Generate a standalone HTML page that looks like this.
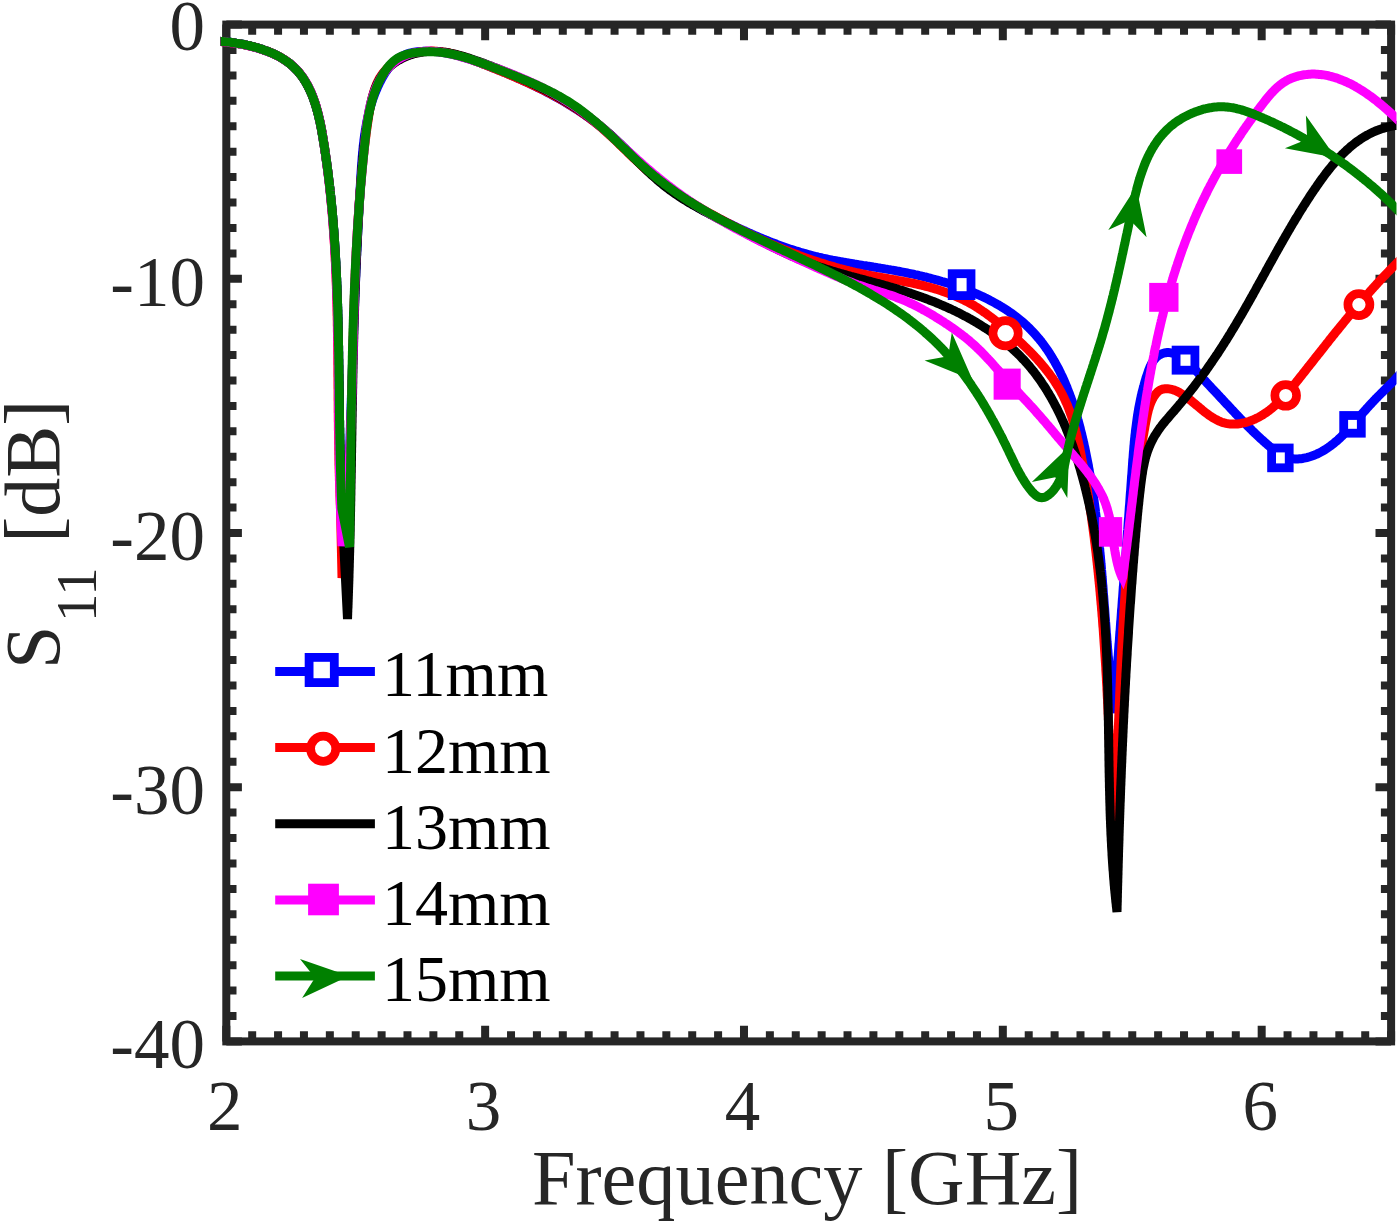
<!DOCTYPE html>
<html><head><meta charset="utf-8"><title>S11 plot</title>
<style>
html,body{margin:0;padding:0;background:#fff;}
body{width:1400px;height:1225px;overflow:hidden;}
svg{display:block;}
svg text{font-family:"Liberation Serif",serif;}
</style></head><body>
<svg width="1400" height="1225" viewBox="0 0 1400 1225">
<rect width="1400" height="1225" fill="#fff"/>
<defs><clipPath id="c"><rect x="220.5" y="20" width="1176.0" height="1025.5"/></clipPath></defs>
<path d="M226.30,1041.4 v-15.6 M226.30,24.6 v15.6 M252.18,1041.4 v-10.2 M252.18,24.6 v10.2 M278.07,1041.4 v-10.2 M278.07,24.6 v10.2 M303.95,1041.4 v-10.2 M303.95,24.6 v10.2 M329.84,1041.4 v-10.2 M329.84,24.6 v10.2 M355.72,1041.4 v-10.2 M355.72,24.6 v10.2 M381.61,1041.4 v-10.2 M381.61,24.6 v10.2 M407.49,1041.4 v-10.2 M407.49,24.6 v10.2 M433.38,1041.4 v-10.2 M433.38,24.6 v10.2 M459.26,1041.4 v-10.2 M459.26,24.6 v10.2 M485.14,1041.4 v-15.6 M485.14,24.6 v15.6 M511.03,1041.4 v-10.2 M511.03,24.6 v10.2 M536.91,1041.4 v-10.2 M536.91,24.6 v10.2 M562.80,1041.4 v-10.2 M562.80,24.6 v10.2 M588.68,1041.4 v-10.2 M588.68,24.6 v10.2 M614.57,1041.4 v-10.2 M614.57,24.6 v10.2 M640.45,1041.4 v-10.2 M640.45,24.6 v10.2 M666.34,1041.4 v-10.2 M666.34,24.6 v10.2 M692.22,1041.4 v-10.2 M692.22,24.6 v10.2 M718.10,1041.4 v-10.2 M718.10,24.6 v10.2 M743.99,1041.4 v-15.6 M743.99,24.6 v15.6 M769.87,1041.4 v-10.2 M769.87,24.6 v10.2 M795.76,1041.4 v-10.2 M795.76,24.6 v10.2 M821.64,1041.4 v-10.2 M821.64,24.6 v10.2 M847.53,1041.4 v-10.2 M847.53,24.6 v10.2 M873.41,1041.4 v-10.2 M873.41,24.6 v10.2 M899.30,1041.4 v-10.2 M899.30,24.6 v10.2 M925.18,1041.4 v-10.2 M925.18,24.6 v10.2 M951.06,1041.4 v-10.2 M951.06,24.6 v10.2 M976.95,1041.4 v-10.2 M976.95,24.6 v10.2 M1002.83,1041.4 v-15.6 M1002.83,24.6 v15.6 M1028.72,1041.4 v-10.2 M1028.72,24.6 v10.2 M1054.60,1041.4 v-10.2 M1054.60,24.6 v10.2 M1080.49,1041.4 v-10.2 M1080.49,24.6 v10.2 M1106.37,1041.4 v-10.2 M1106.37,24.6 v10.2 M1132.26,1041.4 v-10.2 M1132.26,24.6 v10.2 M1158.14,1041.4 v-10.2 M1158.14,24.6 v10.2 M1184.02,1041.4 v-10.2 M1184.02,24.6 v10.2 M1209.91,1041.4 v-10.2 M1209.91,24.6 v10.2 M1235.79,1041.4 v-10.2 M1235.79,24.6 v10.2 M1261.68,1041.4 v-15.6 M1261.68,24.6 v15.6 M1287.56,1041.4 v-10.2 M1287.56,24.6 v10.2 M1313.45,1041.4 v-10.2 M1313.45,24.6 v10.2 M1339.33,1041.4 v-10.2 M1339.33,24.6 v10.2 M1365.22,1041.4 v-10.2 M1365.22,24.6 v10.2 M1391.10,1041.4 v-10.2 M1391.10,24.6 v10.2 M226.3,24.60 h15.6 M1391.1,24.60 h-15.6 M226.3,50.02 h10.2 M1391.1,50.02 h-10.2 M226.3,75.44 h10.2 M1391.1,75.44 h-10.2 M226.3,100.86 h10.2 M1391.1,100.86 h-10.2 M226.3,126.28 h10.2 M1391.1,126.28 h-10.2 M226.3,151.70 h10.2 M1391.1,151.70 h-10.2 M226.3,177.12 h10.2 M1391.1,177.12 h-10.2 M226.3,202.54 h10.2 M1391.1,202.54 h-10.2 M226.3,227.96 h10.2 M1391.1,227.96 h-10.2 M226.3,253.38 h10.2 M1391.1,253.38 h-10.2 M226.3,278.80 h15.6 M1391.1,278.80 h-15.6 M226.3,304.22 h10.2 M1391.1,304.22 h-10.2 M226.3,329.64 h10.2 M1391.1,329.64 h-10.2 M226.3,355.06 h10.2 M1391.1,355.06 h-10.2 M226.3,380.48 h10.2 M1391.1,380.48 h-10.2 M226.3,405.90 h10.2 M1391.1,405.90 h-10.2 M226.3,431.32 h10.2 M1391.1,431.32 h-10.2 M226.3,456.74 h10.2 M1391.1,456.74 h-10.2 M226.3,482.16 h10.2 M1391.1,482.16 h-10.2 M226.3,507.58 h10.2 M1391.1,507.58 h-10.2 M226.3,533.00 h15.6 M1391.1,533.00 h-15.6 M226.3,558.42 h10.2 M1391.1,558.42 h-10.2 M226.3,583.84 h10.2 M1391.1,583.84 h-10.2 M226.3,609.26 h10.2 M1391.1,609.26 h-10.2 M226.3,634.68 h10.2 M1391.1,634.68 h-10.2 M226.3,660.10 h10.2 M1391.1,660.10 h-10.2 M226.3,685.52 h10.2 M1391.1,685.52 h-10.2 M226.3,710.94 h10.2 M1391.1,710.94 h-10.2 M226.3,736.36 h10.2 M1391.1,736.36 h-10.2 M226.3,761.78 h10.2 M1391.1,761.78 h-10.2 M226.3,787.20 h15.6 M1391.1,787.20 h-15.6 M226.3,812.62 h10.2 M1391.1,812.62 h-10.2 M226.3,838.04 h10.2 M1391.1,838.04 h-10.2 M226.3,863.46 h10.2 M1391.1,863.46 h-10.2 M226.3,888.88 h10.2 M1391.1,888.88 h-10.2 M226.3,914.30 h10.2 M1391.1,914.30 h-10.2 M226.3,939.72 h10.2 M1391.1,939.72 h-10.2 M226.3,965.14 h10.2 M1391.1,965.14 h-10.2 M226.3,990.56 h10.2 M1391.1,990.56 h-10.2 M226.3,1015.98 h10.2 M1391.1,1015.98 h-10.2 M226.3,1041.40 h15.6 M1391.1,1041.40 h-15.6" stroke="#262626" stroke-width="8" fill="none"/>
<rect x="226.3" y="24.6" width="1164.8" height="1016.8000000000001" fill="none" stroke="#262626" stroke-width="8"/>
<g clip-path="url(#c)" fill="none" stroke-linejoin="miter" stroke-miterlimit="2">
<path d="M214.0,41.0 L215.4,41.1 L216.8,41.1 L218.2,41.2 L219.7,41.3 L221.1,41.4 L222.6,41.5 L224.0,41.7 L225.5,41.8 L227.0,42.0 L228.5,42.1 L230.0,42.3 L231.5,42.5 L233.1,42.7 L234.6,42.9 L236.1,43.2 L237.7,43.4 L239.2,43.7 L240.8,43.9 L242.3,44.2 L243.9,44.5 L245.4,44.8 L246.9,45.2 L248.5,45.5 L250.0,45.9 L251.6,46.3 L253.1,46.7 L254.6,47.1 L256.2,47.5 L257.7,47.9 L259.2,48.4 L260.7,48.9 L262.2,49.3 L263.7,49.9 L265.2,50.4 L266.6,50.9 L268.1,51.5 L269.5,52.1 L271.0,52.7 L272.4,53.3 L273.8,53.9 L275.1,54.6 L276.5,55.2 L277.9,55.9 L279.2,56.6 L280.5,57.4 L281.8,58.1 L283.0,58.9 L284.3,59.7 L285.5,60.5 L286.7,61.3 L287.9,62.2 L289.0,63.0 L290.2,63.9 L291.3,64.8 L292.4,65.8 L293.4,66.7 L294.4,67.7 L295.4,68.7 L296.4,69.7 L297.3,70.7 L298.3,71.8 L299.2,72.9 L300.1,74.0 L300.9,75.1 L301.8,76.2 L302.6,77.3 L303.4,78.5 L304.1,79.7 L304.9,80.9 L305.6,82.1 L306.3,83.3 L307.0,84.5 L307.7,85.8 L308.4,87.0 L309.0,88.3 L309.6,89.6 L310.2,90.9 L310.8,92.2 L311.4,93.6 L312.0,94.9 L312.5,96.3 L313.0,97.6 L313.5,99.0 L314.0,100.4 L314.5,101.8 L315.0,103.2 L315.4,104.6 L315.9,106.0 L316.3,107.5 L316.7,108.9 L317.1,110.4 L317.5,111.8 L317.9,113.3 L318.3,114.7 L318.6,116.2 L319.0,117.7 L319.3,119.2 L319.7,120.7 L320.0,122.2 L320.3,123.7 L320.6,125.2 L320.9,126.7 L321.2,128.2 L321.5,129.7 L321.8,131.2 L322.0,132.8 L322.3,134.3 L322.6,135.8 L322.8,137.3 L323.1,138.9 L323.3,140.4 L323.6,141.9 L323.8,143.5 L324.1,145.0 L324.3,146.5 L324.6,148.0 L324.8,149.6 L325.0,151.1 L325.2,152.6 L325.5,154.1 L325.7,155.7 L325.9,157.2 L326.1,158.7 L326.3,160.2 L326.6,161.8 L326.8,163.3 L327.0,164.8 L327.2,166.3 L327.4,167.8 L327.6,169.4 L327.8,170.9 L328.0,172.4 L328.2,173.9 L328.4,175.4 L328.5,176.9 L328.7,178.5 L328.9,180.0 L329.1,181.5 L329.3,183.0 L329.5,184.5 L329.6,186.0 L329.8,187.5 L330.0,189.1 L330.1,190.6 L330.3,192.1 L330.5,193.6 L330.6,195.1 L330.8,196.6 L330.9,198.1 L331.1,199.6 L331.2,201.1 L331.4,202.6 L331.5,204.2 L331.7,205.7 L331.8,207.2 L332.0,208.7 L332.1,210.2 L332.3,211.7 L332.4,213.2 L332.5,214.7 L332.7,216.2 L332.8,217.7 L332.9,219.2 L333.0,220.7 L333.2,222.2 L333.3,223.7 L333.4,225.2 L333.5,226.7 L333.6,228.2 L333.8,229.7 L333.9,231.2 L334.0,232.7 L334.1,234.2 L334.2,235.7 L334.3,237.2 L334.4,238.7 L334.5,240.2 L334.6,241.7 L334.7,243.2 L334.8,244.7 L334.9,246.2 L335.0,247.7 L335.1,249.2 L335.2,250.7 L335.3,252.2 L335.4,253.7 L335.5,255.2 L335.5,256.7 L335.6,258.2 L335.7,259.7 L335.8,261.2 L335.9,262.7 L335.9,264.2 L336.0,265.7 L336.1,267.2 L336.2,268.7 L336.2,270.2 L336.3,271.7 L336.4,273.2 L336.5,274.7 L336.5,276.2 L336.6,277.7 L336.7,279.1 L336.7,280.6 L336.8,282.1 L336.8,283.6 L336.9,285.1 L337.0,286.6 L337.0,288.1 L337.1,289.6 L337.1,291.1 L337.2,292.6 L337.2,294.1 L337.3,295.6 L337.3,297.1 L337.4,298.6 L337.4,300.0 L337.5,301.5 L337.5,303.0 L337.6,304.5 L337.6,306.0 L337.7,307.5 L337.7,309.0 L337.8,310.5 L337.8,312.0 L337.8,313.5 L337.9,315.0 L337.9,316.5 L338.0,317.9 L338.0,319.4 L338.0,320.9 L338.1,322.4 L338.1,323.9 L338.1,325.4 L338.2,326.9 L338.2,328.4 L338.2,329.9 L338.3,331.4 L338.3,332.9 L338.3,334.4 L338.4,335.8 L338.4,337.3 L338.4,338.8 L338.4,340.3 L338.5,341.8 L338.5,343.3 L338.5,344.8 L338.6,346.3 L338.6,347.8 L338.6,349.3 L338.6,350.8 L338.7,352.3 L338.7,353.8 L338.7,355.2 L338.7,356.7 L338.7,358.2 L338.8,359.7 L338.8,361.2 L338.8,362.7 L338.8,364.2 L338.9,365.7 L338.9,367.2 L338.9,368.7 L338.9,370.2 L338.9,371.7 L338.9,373.2 L339.0,374.7 L339.0,376.2 L339.0,377.7 L339.0,379.1 L339.0,380.6 L339.1,382.1 L339.1,383.6 L339.1,385.1 L339.1,386.6 L339.1,388.1 L339.2,389.6 L339.2,391.1 L339.2,392.6 L339.2,394.1 L339.2,395.6 L339.2,397.1 L339.3,398.6 L339.3,400.1 L339.3,401.6 L339.3,403.1 L339.3,404.6 L339.4,406.1 L339.4,407.6 L339.4,409.1 L339.4,410.6 L339.4,412.1 L339.5,413.6 L339.5,415.1 L339.5,416.6 L339.5,418.1 L339.5,419.6 L339.6,421.1 L339.6,422.6 L339.6,424.1 L339.6,425.6 L339.6,427.1 L339.7,428.6 L339.7,430.1 L339.7,431.6 L339.7,433.1 L339.8,434.6 L339.8,436.2 L339.8,437.7 L339.8,439.2 L339.9,440.7 L339.9,442.2 L339.9,443.7 L340.0,445.2 L340.0,446.7 L340.0,448.2 L340.0,449.7 L340.1,451.2 L340.1,452.7 L340.1,454.3 L340.2,455.8 L340.2,457.3 L340.2,458.8 L340.3,460.3 L340.3,461.8 L340.3,463.3 L340.4,464.9 L340.4,466.4 L340.5,467.9 L340.5,469.4 L340.5,470.9 L340.6,472.4 L340.6,473.9 L340.7,475.5 L340.7,477.0 L340.8,478.5 L340.8,480.0 L340.9,481.5 L340.9,483.1 L341.0,484.6 L341.0,486.1 L341.1,487.6 L341.1,489.2 L341.2,490.7 L341.2,492.2 L341.3,493.7 L341.3,495.2 L341.4,496.8 L341.5,498.3 L341.5,499.8 L341.6,501.4 L341.6,502.9 L341.7,504.4 L341.8,505.9 L341.8,507.5 L341.9,509.0 L346.0,540.0 L346.1,538.5 L346.1,537.0 L346.2,535.4 L346.3,533.9 L346.3,532.4 L346.4,530.9 L346.5,529.4 L346.5,527.9 L346.6,526.4 L346.7,524.8 L346.7,523.3 L346.8,521.8 L346.9,520.3 L346.9,518.8 L347.0,517.3 L347.1,515.8 L347.1,514.2 L347.2,512.7 L347.3,511.2 L347.3,509.7 L347.4,508.2 L347.4,506.7 L347.5,505.2 L347.6,503.7 L347.6,502.2 L347.7,500.7 L347.7,499.2 L347.8,497.6 L347.9,496.1 L347.9,494.6 L348.0,493.1 L348.0,491.6 L348.1,490.1 L348.2,488.6 L348.2,487.1 L348.3,485.6 L348.3,484.1 L348.4,482.6 L348.4,481.1 L348.5,479.6 L348.6,478.1 L348.6,476.6 L348.7,475.1 L348.7,473.6 L348.8,472.1 L348.8,470.6 L348.9,469.1 L348.9,467.6 L349.0,466.1 L349.1,464.6 L349.1,463.0 L349.2,461.5 L349.2,460.0 L349.3,458.5 L349.3,457.0 L349.4,455.5 L349.4,454.0 L349.5,452.5 L349.5,451.1 L349.6,449.6 L349.6,448.1 L349.7,446.6 L349.7,445.1 L349.8,443.6 L349.9,442.1 L349.9,440.6 L350.0,439.1 L350.0,437.6 L350.1,436.1 L350.1,434.6 L350.2,433.1 L350.2,431.6 L350.3,430.1 L350.3,428.6 L350.4,427.1 L350.4,425.6 L350.5,424.1 L350.5,422.6 L350.6,421.1 L350.6,419.6 L350.7,418.1 L350.7,416.6 L350.8,415.1 L350.8,413.6 L350.9,412.1 L350.9,410.6 L351.0,409.2 L351.0,407.7 L351.1,406.2 L351.1,404.7 L351.2,403.2 L351.2,401.7 L351.3,400.2 L351.3,398.7 L351.4,397.2 L351.4,395.7 L351.5,394.2 L351.5,392.7 L351.6,391.2 L351.6,389.7 L351.7,388.2 L351.7,386.7 L351.8,385.3 L351.8,383.8 L351.9,382.3 L351.9,380.8 L352.0,379.3 L352.0,377.8 L352.1,376.3 L352.1,374.8 L352.2,373.3 L352.2,371.8 L352.3,370.3 L352.3,368.8 L352.4,367.3 L352.4,365.9 L352.5,364.4 L352.5,362.9 L352.6,361.4 L352.6,359.9 L352.7,358.4 L352.7,356.9 L352.8,355.4 L352.8,353.9 L352.9,352.4 L352.9,350.9 L353.0,349.4 L353.0,347.9 L353.1,346.4 L353.1,345.0 L353.2,343.5 L353.2,342.0 L353.3,340.5 L353.3,339.0 L353.4,337.5 L353.5,336.0 L353.5,334.5 L353.6,333.0 L353.6,331.5 L353.7,330.0 L353.7,328.5 L353.8,327.0 L353.8,325.5 L353.9,324.1 L353.9,322.6 L354.0,321.1 L354.1,319.6 L354.1,318.1 L354.2,316.6 L354.2,315.1 L354.3,313.6 L354.3,312.1 L354.4,310.6 L354.4,309.1 L354.5,307.6 L354.6,306.1 L354.6,304.6 L354.7,303.1 L354.7,301.6 L354.8,300.1 L354.8,298.6 L354.9,297.1 L355.0,295.7 L355.0,294.2 L355.1,292.7 L355.1,291.2 L355.2,289.7 L355.3,288.2 L355.3,286.7 L355.4,285.2 L355.4,283.7 L355.5,282.2 L355.6,280.7 L355.6,279.2 L355.7,277.7 L355.8,276.2 L355.8,274.7 L355.9,273.2 L355.9,271.7 L356.0,270.2 L356.1,268.7 L356.1,267.2 L356.2,265.7 L356.3,264.2 L356.3,262.7 L356.4,261.2 L356.5,259.7 L356.5,258.2 L356.6,256.7 L356.7,255.2 L356.7,253.7 L356.8,252.2 L356.9,250.7 L357.0,249.2 L357.0,247.7 L357.1,246.2 L357.2,244.7 L357.2,243.2 L357.3,241.7 L357.4,240.2 L357.4,238.6 L357.5,237.1 L357.6,235.6 L357.7,234.1 L357.7,232.6 L357.8,231.1 L357.9,229.6 L358.0,228.1 L358.0,226.6 L358.1,225.1 L358.2,223.6 L358.3,222.1 L358.4,220.6 L358.4,219.1 L358.5,217.5 L358.6,216.0 L358.7,214.5 L358.8,213.0 L358.8,211.5 L358.9,210.0 L359.0,208.5 L359.1,207.0 L359.2,205.5 L359.2,203.9 L359.3,202.4 L359.4,200.9 L359.5,199.4 L359.6,197.9 L359.7,196.4 L359.8,194.9 L359.8,193.3 L359.9,191.8 L360.0,190.3 L360.1,188.8 L360.2,187.3 L360.3,185.8 L360.4,184.2 L360.5,182.7 L360.6,181.2 L360.7,179.7 L360.8,178.2 L360.8,176.6 L360.9,175.1 L361.0,173.6 L361.1,172.1 L361.2,170.6 L361.3,169.0 L361.4,167.5 L361.5,166.0 L361.7,164.5 L361.8,162.9 L361.9,161.4 L362.0,159.9 L362.1,158.4 L362.2,156.9 L362.4,155.4 L362.5,153.8 L362.6,152.3 L362.8,150.8 L362.9,149.3 L363.1,147.8 L363.2,146.3 L363.4,144.8 L363.6,143.3 L363.8,141.8 L363.9,140.3 L364.1,138.8 L364.3,137.3 L364.5,135.8 L364.7,134.3 L365.0,132.8 L365.2,131.3 L365.4,129.8 L365.7,128.4 L365.9,126.9 L366.2,125.4 L366.5,123.9 L366.7,122.5 L367.0,121.0 L367.3,119.6 L367.6,118.1 L368.0,116.6 L368.3,115.2 L368.6,113.8 L369.0,112.3 L369.4,110.9 L369.7,109.4 L370.1,108.0 L370.5,106.6 L370.9,105.2 L371.4,103.8 L371.8,102.3 L372.2,100.9 L372.7,99.5 L373.2,98.1 L373.7,96.8 L374.2,95.4 L374.7,94.0 L375.3,92.6 L375.8,91.3 L376.4,89.9 L377.0,88.5 L377.5,87.2 L378.2,85.8 L378.8,84.5 L379.4,83.2 L380.1,81.8 L380.8,80.5 L381.5,79.2 L382.2,77.9 L382.9,76.6 L383.7,75.3 L384.4,74.0 L385.2,72.8 L386.0,71.5 L386.9,70.3 L387.7,69.1 L388.6,67.9 L389.5,66.7 L390.4,65.6 L391.4,64.4 L392.4,63.4 L393.4,62.3 L394.5,61.3 L395.6,60.4 L396.7,59.5 L397.8,58.6 L399.0,57.8 L400.3,57.1 L401.5,56.4 L402.9,55.7 L404.2,55.1 L405.6,54.6 L407.0,54.1 L408.4,53.6 L409.8,53.2 L411.3,52.8 L412.8,52.5 L414.3,52.2 L415.8,52.0 L417.4,51.8 L418.9,51.6 L420.5,51.5 L422.0,51.4 L423.6,51.3 L425.1,51.2 L426.7,51.2 L428.2,51.2 L429.8,51.3 L431.3,51.3 L432.9,51.4 L434.4,51.5 L435.9,51.6 L437.4,51.7 L438.9,51.9 L440.4,52.1 L441.9,52.3 L443.4,52.5 L444.9,52.7 L446.4,53.0 L447.9,53.3 L449.3,53.6 L450.8,53.9 L452.3,54.2 L453.7,54.5 L455.2,54.9 L456.6,55.3 L458.1,55.6 L459.5,56.0 L461.0,56.4 L462.4,56.9 L463.8,57.3 L465.3,57.7 L466.7,58.2 L468.1,58.6 L469.5,59.1 L471.0,59.6 L472.4,60.1 L473.8,60.6 L475.2,61.1 L476.6,61.6 L478.0,62.1 L479.4,62.6 L480.8,63.1 L482.2,63.7 L483.7,64.2 L485.1,64.7 L486.5,65.3 L487.9,65.8 L489.3,66.4 L490.7,66.9 L492.1,67.4 L493.5,68.0 L494.9,68.6 L496.3,69.1 L497.7,69.7 L499.1,70.2 L500.5,70.8 L501.9,71.4 L503.3,71.9 L504.7,72.5 L506.0,73.1 L507.4,73.7 L508.8,74.3 L510.2,74.9 L511.6,75.5 L513.0,76.0 L514.4,76.6 L515.8,77.2 L517.1,77.9 L518.5,78.5 L519.9,79.1 L521.3,79.7 L522.6,80.3 L524.0,80.9 L525.4,81.6 L526.7,82.2 L528.1,82.8 L529.5,83.5 L530.8,84.1 L532.2,84.8 L533.6,85.4 L534.9,86.1 L536.3,86.7 L537.6,87.4 L539.0,88.1 L540.3,88.7 L541.7,89.4 L543.0,90.1 L544.3,90.8 L545.7,91.5 L547.0,92.2 L548.3,92.9 L549.7,93.6 L551.0,94.3 L552.3,95.0 L553.6,95.7 L554.9,96.5 L556.3,97.2 L557.6,97.9 L558.9,98.7 L560.2,99.4 L561.5,100.2 L562.8,100.9 L564.1,101.7 L565.4,102.4 L566.6,103.2 L567.9,104.0 L569.2,104.8 L570.5,105.5 L571.8,106.3 L573.0,107.1 L574.3,107.9 L575.5,108.7 L576.8,109.5 L578.1,110.4 L579.3,111.2 L580.6,112.0 L581.8,112.9 L583.0,113.7 L584.3,114.5 L585.5,115.4 L586.7,116.3 L587.9,117.1 L589.2,118.0 L590.4,118.9 L591.6,119.7 L592.8,120.6 L594.0,121.5 L595.2,122.4 L596.4,123.3 L597.5,124.3 L598.7,125.2 L599.9,126.1 L601.1,127.0 L602.2,128.0 L603.4,128.9 L604.6,129.9 L605.7,130.8 L606.8,131.8 L608.0,132.8 L609.1,133.8 L610.3,134.7 L611.4,135.7 L612.5,136.7 L613.6,137.7 L614.7,138.7 L615.8,139.8 L616.9,140.8 L618.0,141.8 L619.1,142.8 L620.2,143.9 L621.3,144.9 L622.4,145.9 L623.5,147.0 L624.6,148.0 L625.7,149.1 L626.8,150.1 L627.8,151.2 L628.9,152.2 L630.0,153.3 L631.1,154.3 L632.2,155.4 L633.2,156.4 L634.3,157.5 L635.4,158.5 L636.5,159.6 L637.5,160.6 L638.6,161.7 L639.7,162.7 L640.8,163.8 L641.9,164.8 L642.9,165.9 L644.0,166.9 L645.1,167.9 L646.2,169.0 L647.3,170.0 L648.4,171.0 L649.5,172.0 L650.6,173.1 L651.7,174.1 L652.8,175.1 L653.9,176.1 L655.0,177.1 L656.1,178.1 L657.3,179.0 L658.4,180.0 L659.5,181.0 L660.7,181.9 L661.8,182.9 L663.0,183.8 L664.1,184.8 L665.3,185.7 L666.5,186.6 L667.6,187.5 L668.8,188.4 L670.0,189.3 L671.2,190.2 L672.4,191.1 L673.6,192.0 L674.8,192.8 L676.0,193.7 L677.2,194.5 L678.5,195.4 L679.7,196.2 L680.9,197.0 L682.2,197.8 L683.4,198.6 L684.7,199.4 L685.9,200.2 L687.2,201.0 L688.5,201.8 L689.7,202.6 L691.0,203.4 L692.3,204.1 L693.6,204.9 L694.9,205.6 L696.2,206.4 L697.5,207.1 L698.8,207.9 L700.1,208.6 L701.4,209.3 L702.7,210.1 L704.0,210.8 L705.3,211.5 L706.6,212.2 L708.0,212.9 L709.3,213.6 L710.6,214.3 L712.0,215.0 L713.3,215.7 L714.6,216.4 L716.0,217.1 L717.3,217.8 L718.7,218.4 L720.0,219.1 L721.4,219.8 L722.7,220.5 L724.1,221.2 L725.4,221.8 L726.8,222.5 L728.2,223.2 L729.5,223.8 L730.9,224.5 L732.3,225.1 L733.6,225.8 L735.0,226.5 L736.4,227.1 L737.8,227.8 L739.1,228.4 L740.5,229.0 L741.9,229.7 L743.3,230.3 L744.7,230.9 L746.0,231.6 L747.4,232.2 L748.8,232.8 L750.2,233.4 L751.6,234.1 L753.0,234.7 L754.4,235.3 L755.8,235.9 L757.2,236.5 L758.6,237.1 L760.0,237.7 L761.4,238.2 L762.8,238.8 L764.2,239.4 L765.6,240.0 L767.0,240.5 L768.4,241.1 L769.8,241.7 L771.2,242.2 L772.6,242.8 L774.0,243.3 L775.5,243.8 L776.9,244.4 L778.3,244.9 L779.7,245.4 L781.1,245.9 L782.5,246.4 L784.0,246.9 L785.4,247.4 L786.8,247.9 L788.2,248.4 L789.6,248.9 L791.1,249.4 L792.5,249.8 L793.9,250.3 L795.3,250.8 L796.8,251.2 L798.2,251.6 L799.6,252.1 L801.0,252.5 L802.5,252.9 L803.9,253.3 L805.3,253.7 L806.8,254.1 L808.2,254.5 L809.6,254.9 L811.0,255.3 L812.5,255.7 L813.9,256.0 L815.3,256.4 L816.8,256.7 L818.2,257.1 L819.6,257.4 L821.1,257.7 L822.5,258.1 L823.9,258.4 L825.4,258.7 L826.8,259.0 L828.2,259.3 L829.7,259.6 L831.1,259.9 L832.5,260.2 L834.0,260.4 L835.4,260.7 L836.9,261.0 L838.3,261.3 L839.7,261.5 L841.2,261.8 L842.6,262.0 L844.1,262.3 L845.5,262.5 L847.0,262.8 L848.4,263.0 L849.9,263.3 L851.3,263.5 L852.8,263.7 L854.2,264.0 L855.7,264.2 L857.1,264.4 L858.6,264.7 L860.0,264.9 L861.5,265.1 L862.9,265.4 L864.4,265.6 L865.9,265.8 L867.3,266.1 L868.8,266.3 L870.2,266.5 L871.7,266.7 L873.2,267.0 L874.6,267.2 L876.1,267.4 L877.6,267.7 L879.1,267.9 L880.5,268.2 L882.0,268.4 L883.5,268.6 L885.0,268.9 L886.4,269.1 L887.9,269.4 L889.4,269.6 L890.9,269.9 L892.4,270.1 L893.9,270.4 L895.3,270.7 L896.8,271.0 L898.3,271.2 L899.8,271.5 L901.3,271.8 L902.8,272.1 L904.3,272.4 L905.8,272.7 L907.3,273.0 L908.8,273.3 L910.3,273.6 L911.8,273.9 L913.3,274.2 L914.9,274.6 L916.4,274.9 L917.9,275.2 L919.4,275.6 L920.9,275.9 L922.4,276.3 L923.9,276.7 L925.4,277.0 L926.9,277.4 L928.4,277.8 L929.9,278.2 L931.4,278.6 L932.9,279.0 L934.4,279.4 L935.9,279.8 L937.4,280.2 L938.9,280.6 L940.4,281.0 L941.9,281.5 L943.4,281.9 L944.9,282.3 L946.3,282.8 L947.8,283.3 L949.3,283.7 L950.8,284.2 L952.2,284.7 L953.7,285.2 L955.2,285.7 L956.6,286.2 L958.1,286.7 L959.6,287.2 L961.0,287.7 L962.5,288.2 L963.9,288.8 L965.3,289.3 L966.8,289.9 L968.2,290.4 L969.6,291.0 L971.0,291.6 L972.5,292.2 L973.9,292.8 L975.3,293.3 L976.7,294.0 L978.1,294.6 L979.4,295.2 L980.8,295.8 L982.2,296.5 L983.6,297.1 L984.9,297.8 L986.3,298.4 L987.6,299.1 L989.0,299.8 L990.3,300.5 L991.7,301.2 L993.0,301.9 L994.3,302.6 L995.6,303.3 L996.9,304.1 L998.2,304.8 L999.5,305.5 L1000.7,306.3 L1002.0,307.1 L1003.3,307.9 L1004.5,308.6 L1005.8,309.4 L1007.0,310.3 L1008.2,311.1 L1009.4,311.9 L1010.6,312.7 L1011.8,313.6 L1013.0,314.4 L1014.2,315.3 L1015.4,316.2 L1016.5,317.1 L1017.7,318.0 L1018.8,318.9 L1019.9,319.8 L1021.1,320.7 L1022.2,321.6 L1023.3,322.6 L1024.4,323.6 L1025.4,324.5 L1026.5,325.5 L1027.5,326.5 L1028.6,327.5 L1029.6,328.5 L1030.6,329.5 L1031.6,330.6 L1032.6,331.6 L1033.6,332.7 L1034.6,333.7 L1035.5,334.8 L1036.5,335.9 L1037.4,337.0 L1038.4,338.1 L1039.3,339.2 L1040.2,340.3 L1041.1,341.4 L1042.0,342.6 L1042.8,343.7 L1043.7,344.9 L1044.6,346.1 L1045.4,347.2 L1046.2,348.4 L1047.1,349.6 L1047.9,350.8 L1048.7,352.0 L1049.5,353.2 L1050.3,354.5 L1051.0,355.7 L1051.8,357.0 L1052.6,358.2 L1053.3,359.5 L1054.0,360.7 L1054.8,362.0 L1055.5,363.3 L1056.2,364.6 L1056.9,365.9 L1057.6,367.2 L1058.3,368.5 L1059.0,369.8 L1059.6,371.1 L1060.3,372.4 L1060.9,373.8 L1061.6,375.1 L1062.2,376.5 L1062.8,377.8 L1063.5,379.2 L1064.1,380.5 L1064.7,381.9 L1065.3,383.3 L1065.8,384.7 L1066.4,386.1 L1067.0,387.5 L1067.5,388.9 L1068.1,390.3 L1068.6,391.7 L1069.2,393.1 L1069.7,394.5 L1070.2,395.9 L1070.8,397.3 L1071.3,398.8 L1071.8,400.2 L1072.3,401.6 L1072.8,403.1 L1073.2,404.5 L1073.7,406.0 L1074.2,407.4 L1074.7,408.9 L1075.1,410.3 L1075.6,411.8 L1076.0,413.3 L1076.5,414.7 L1076.9,416.2 L1077.3,417.7 L1077.7,419.2 L1078.2,420.6 L1078.6,422.1 L1079.0,423.6 L1079.4,425.1 L1079.8,426.6 L1080.2,428.1 L1080.5,429.6 L1080.9,431.1 L1081.3,432.6 L1081.7,434.1 L1082.0,435.6 L1082.4,437.1 L1082.7,438.6 L1083.1,440.1 L1083.4,441.6 L1083.8,443.1 L1084.1,444.6 L1084.4,446.1 L1084.8,447.6 L1085.1,449.1 L1085.4,450.6 L1085.7,452.1 L1086.0,453.6 L1086.3,455.1 L1086.6,456.6 L1086.9,458.1 L1087.2,459.6 L1087.5,461.1 L1087.8,462.6 L1088.1,464.1 L1088.4,465.6 L1088.6,467.1 L1088.9,468.6 L1089.2,470.1 L1089.4,471.6 L1089.7,473.1 L1090.0,474.6 L1090.2,476.1 L1090.5,477.6 L1090.7,479.1 L1091.0,480.6 L1091.2,482.1 L1091.5,483.6 L1091.7,485.1 L1091.9,486.6 L1092.2,488.1 L1092.4,489.6 L1092.6,491.0 L1092.9,492.5 L1093.1,494.0 L1093.3,495.5 L1093.5,497.0 L1093.7,498.5 L1093.9,500.0 L1094.2,501.5 L1094.4,503.0 L1094.6,504.4 L1094.8,505.9 L1095.0,507.4 L1095.2,508.9 L1095.4,510.4 L1095.5,511.9 L1095.7,513.3 L1095.9,514.8 L1096.1,516.3 L1096.3,517.8 L1096.5,519.3 L1096.6,520.8 L1096.8,522.2 L1097.0,523.7 L1097.2,525.2 L1097.3,526.7 L1097.5,528.2 L1097.7,529.7 L1097.8,531.1 L1098.0,532.6 L1098.2,534.1 L1098.3,535.6 L1098.5,537.1 L1098.6,538.5 L1098.8,540.0 L1098.9,541.5 L1099.1,543.0 L1099.2,544.5 L1099.4,545.9 L1099.5,547.4 L1099.7,548.9 L1099.8,550.4 L1099.9,551.8 L1100.1,553.3 L1100.2,554.8 L1100.4,556.3 L1100.5,557.8 L1100.6,559.2 L1100.8,560.7 L1100.9,562.2 L1101.0,563.7 L1101.2,565.1 L1101.3,566.6 L1101.4,568.1 L1101.5,569.6 L1101.7,571.1 L1101.8,572.5 L1101.9,574.0 L1102.0,575.5 L1102.1,577.0 L1102.3,578.4 L1102.4,579.9 L1102.5,581.4 L1102.6,582.9 L1102.7,584.4 L1102.9,585.8 L1103.0,587.3 L1103.1,588.8 L1103.2,590.3 L1103.3,591.8 L1103.4,593.2 L1103.5,594.7 L1103.7,596.2 L1103.8,597.7 L1103.9,599.1 L1104.0,600.6 L1104.1,602.1 L1104.2,603.6 L1104.3,605.1 L1104.4,606.6 L1104.6,608.0 L1104.7,609.5 L1104.8,611.0 L1104.9,612.5 L1105.0,614.0 L1105.1,615.4 L1105.2,616.9 L1105.3,618.4 L1105.4,619.9 L1105.5,621.4 L1105.7,622.9 L1105.8,624.3 L1105.9,625.8 L1106.0,627.3 L1106.1,628.8 L1106.2,630.3 L1106.3,631.8 L1106.4,633.3 L1106.6,634.8 L1106.7,636.2 L1106.8,637.7 L1106.9,639.2 L1107.0,640.7 L1107.1,642.2 L1107.3,643.7 L1107.4,645.2 L1107.5,646.7 L1107.6,648.2 L1107.7,649.7 L1107.9,651.2 L1108.0,652.7 L1108.1,654.1 L1108.2,655.6 L1108.4,657.1 L1108.5,658.6 L1108.6,660.1 L1108.7,661.6 L1108.9,663.1 L1109.0,664.6 L1109.1,666.1 L1109.3,667.6 L1109.4,669.1 L1109.5,670.6 L1109.7,672.1 L1109.8,673.6 L1109.9,675.1 L1110.1,676.6 L1110.2,678.1 L1110.4,679.7 L1110.5,681.2 L1110.7,682.7 L1110.8,684.2 L1111.0,685.7 L1111.1,687.2 L1111.3,688.7 L1111.4,690.2 L1111.6,691.7 L1111.7,693.2 L1111.9,694.8 L1112.1,696.3 L1112.2,697.8 L1112.4,699.3 L1112.6,700.8 L1112.7,702.3 L1112.9,703.9 L1113.1,705.4 L1113.3,706.9 L1113.4,708.4 L1113.6,710.0 L1113.8,711.5 L1114.0,713.0 L1114.1,711.5 L1114.2,710.0 L1114.3,708.5 L1114.4,707.0 L1114.5,705.5 L1114.6,704.0 L1114.8,702.5 L1114.9,701.0 L1115.0,699.5 L1115.1,698.0 L1115.2,696.5 L1115.3,695.0 L1115.4,693.5 L1115.5,692.0 L1115.6,690.5 L1115.7,689.0 L1115.8,687.5 L1115.9,686.0 L1116.1,684.5 L1116.2,683.0 L1116.3,681.5 L1116.4,680.0 L1116.5,678.5 L1116.6,677.0 L1116.7,675.5 L1116.8,674.0 L1116.9,672.5 L1117.0,671.0 L1117.2,669.5 L1117.3,668.0 L1117.4,666.5 L1117.5,665.0 L1117.6,663.5 L1117.7,662.0 L1117.8,660.5 L1117.9,659.0 L1118.0,657.5 L1118.2,656.0 L1118.3,654.5 L1118.4,653.0 L1118.5,651.5 L1118.6,650.0 L1118.7,648.5 L1118.8,647.0 L1118.9,645.5 L1119.0,644.0 L1119.2,642.5 L1119.3,641.0 L1119.4,639.5 L1119.5,638.0 L1119.6,636.5 L1119.7,635.0 L1119.8,633.5 L1119.9,632.0 L1120.1,630.5 L1120.2,629.0 L1120.3,627.5 L1120.4,626.0 L1120.5,624.5 L1120.6,623.0 L1120.7,621.5 L1120.9,620.0 L1121.0,618.5 L1121.1,617.0 L1121.2,615.5 L1121.3,614.0 L1121.4,612.5 L1121.5,611.0 L1121.6,609.5 L1121.8,608.0 L1121.9,606.5 L1122.0,605.0 L1122.1,603.5 L1122.2,602.0 L1122.3,600.5 L1122.4,599.0 L1122.6,597.5 L1122.7,596.0 L1122.8,594.5 L1122.9,593.0 L1123.0,591.5 L1123.1,590.0 L1123.2,588.5 L1123.3,587.0 L1123.5,585.5 L1123.6,584.0 L1123.7,582.5 L1123.8,581.0 L1123.9,579.5 L1124.0,578.0 L1124.1,576.5 L1124.3,575.0 L1124.4,573.5 L1124.5,572.0 L1124.6,570.5 L1124.7,569.0 L1124.8,567.6 L1124.9,566.1 L1125.1,564.6 L1125.2,563.1 L1125.3,561.6 L1125.4,560.1 L1125.5,558.6 L1125.6,557.1 L1125.7,555.6 L1125.8,554.1 L1126.0,552.6 L1126.1,551.1 L1126.2,549.6 L1126.3,548.1 L1126.4,546.6 L1126.5,545.1 L1126.6,543.6 L1126.8,542.1 L1126.9,540.6 L1127.0,539.1 L1127.1,537.6 L1127.2,536.1 L1127.3,534.6 L1127.4,533.1 L1127.5,531.6 L1127.7,530.1 L1127.8,528.6 L1127.9,527.1 L1128.0,525.6 L1128.1,524.1 L1128.2,522.6 L1128.3,521.1 L1128.4,519.6 L1128.6,518.1 L1128.7,516.6 L1128.8,515.1 L1128.9,513.6 L1129.0,512.1 L1129.1,510.6 L1129.2,509.1 L1129.3,507.6 L1129.4,506.1 L1129.6,504.6 L1129.7,503.1 L1129.8,501.6 L1129.9,500.1 L1130.0,498.6 L1130.1,497.1 L1130.2,495.6 L1130.3,494.1 L1130.4,492.6 L1130.6,491.1 L1130.7,489.6 L1130.8,488.1 L1130.9,486.6 L1131.0,485.1 L1131.1,483.6 L1131.2,482.2 L1131.3,480.7 L1131.4,479.2 L1131.5,477.7 L1131.6,476.2 L1131.8,474.7 L1131.9,473.2 L1132.0,471.7 L1132.1,470.2 L1132.2,468.7 L1132.3,467.2 L1132.4,465.7 L1132.5,464.2 L1132.6,462.7 L1132.7,461.2 L1132.8,459.7 L1133.0,458.2 L1133.1,456.7 L1133.2,455.2 L1133.3,453.7 L1133.4,452.2 L1133.6,450.7 L1133.7,449.2 L1133.8,447.8 L1133.9,446.3 L1134.1,444.8 L1134.2,443.3 L1134.3,441.8 L1134.5,440.3 L1134.6,438.8 L1134.8,437.3 L1134.9,435.8 L1135.1,434.3 L1135.3,432.8 L1135.4,431.3 L1135.6,429.8 L1135.8,428.3 L1136.0,426.8 L1136.2,425.4 L1136.4,423.9 L1136.6,422.4 L1136.8,420.9 L1137.0,419.4 L1137.2,417.9 L1137.4,416.4 L1137.6,414.9 L1137.9,413.4 L1138.1,411.9 L1138.4,410.4 L1138.6,409.0 L1138.9,407.5 L1139.2,406.0 L1139.5,404.5 L1139.8,403.0 L1140.1,401.5 L1140.4,400.0 L1140.7,398.5 L1141.0,397.1 L1141.3,395.6 L1141.7,394.1 L1142.0,392.6 L1142.4,391.1 L1142.8,389.6 L1143.2,388.1 L1143.5,386.6 L1144.0,385.2 L1144.4,383.7 L1144.8,382.2 L1145.2,380.7 L1145.7,379.2 L1146.1,377.7 L1146.6,376.3 L1147.1,374.8 L1147.6,373.3 L1148.1,371.8 L1148.6,370.4 L1149.2,368.9 L1149.7,367.5 L1150.4,366.2 L1151.0,364.8 L1151.7,363.5 L1152.4,362.3 L1153.2,361.1 L1154.0,359.9 L1154.8,358.9 L1155.7,357.9 L1156.7,357.0 L1157.7,356.1 L1158.7,355.4 L1159.9,354.7 L1161.0,354.1 L1162.2,353.6 L1163.4,353.2 L1164.6,352.9 L1165.9,352.7 L1167.2,352.6 L1168.5,352.5 L1169.8,352.6 L1171.1,352.8 L1172.4,353.1 L1173.8,353.4 L1175.1,353.9 L1176.4,354.4 L1177.8,355.0 L1179.1,355.7 L1180.4,356.5 L1181.7,357.3 L1183.0,358.1 L1184.2,359.1 L1185.4,360.0 L1186.6,361.1 L1187.8,362.1 L1189.0,363.2 L1190.1,364.3 L1191.3,365.5 L1192.4,366.6 L1193.5,367.8 L1194.6,369.0 L1195.7,370.2 L1196.7,371.4 L1197.8,372.7 L1198.8,373.9 L1199.9,375.1 L1200.9,376.3 L1202.0,377.4 L1203.0,378.6 L1204.0,379.7 L1205.1,380.9 L1206.1,382.0 L1207.1,383.1 L1208.1,384.2 L1209.2,385.3 L1210.2,386.4 L1211.2,387.5 L1212.2,388.6 L1213.2,389.6 L1214.2,390.7 L1215.3,391.8 L1216.3,392.9 L1217.3,394.0 L1218.3,395.0 L1219.3,396.1 L1220.3,397.2 L1221.3,398.3 L1222.4,399.4 L1223.4,400.5 L1224.4,401.6 L1225.4,402.7 L1226.4,403.8 L1227.4,404.8 L1228.5,405.9 L1229.5,407.0 L1230.5,408.1 L1231.5,409.2 L1232.5,410.3 L1233.6,411.4 L1234.6,412.5 L1235.6,413.6 L1236.6,414.7 L1237.7,415.8 L1238.7,416.8 L1239.7,417.9 L1240.8,419.0 L1241.8,420.1 L1242.9,421.2 L1243.9,422.3 L1245.0,423.3 L1246.0,424.4 L1247.1,425.5 L1248.1,426.5 L1249.2,427.6 L1250.3,428.7 L1251.4,429.7 L1252.4,430.8 L1253.5,431.8 L1254.6,432.9 L1255.7,433.9 L1256.8,435.0 L1257.9,436.0 L1259.0,437.1 L1260.1,438.1 L1261.2,439.1 L1262.4,440.1 L1263.5,441.2 L1264.6,442.2 L1265.8,443.2 L1266.9,444.2 L1268.1,445.2 L1269.2,446.2 L1270.4,447.2 L1271.6,448.1 L1272.8,449.1 L1274.0,450.0 L1275.2,450.9 L1276.4,451.8 L1277.6,452.6 L1278.9,453.4 L1280.1,454.2 L1281.4,454.9 L1282.7,455.6 L1284.0,456.2 L1285.3,456.8 L1286.6,457.3 L1288.0,457.7 L1289.4,458.1 L1290.8,458.4 L1292.2,458.6 L1293.6,458.8 L1295.1,458.9 L1296.5,458.9 L1298.0,458.9 L1299.4,458.8 L1300.9,458.7 L1302.4,458.5 L1303.9,458.2 L1305.4,457.9 L1306.8,457.6 L1308.3,457.2 L1309.7,456.8 L1311.2,456.3 L1312.6,455.8 L1314.0,455.3 L1315.4,454.7 L1316.8,454.1 L1318.2,453.4 L1319.5,452.8 L1320.8,452.1 L1322.1,451.4 L1323.4,450.6 L1324.7,449.8 L1326.0,449.0 L1327.2,448.2 L1328.5,447.4 L1329.7,446.5 L1330.9,445.6 L1332.1,444.7 L1333.3,443.8 L1334.4,442.8 L1335.6,441.8 L1336.7,440.9 L1337.9,439.9 L1339.0,438.8 L1340.1,437.8 L1341.2,436.8 L1342.3,435.7 L1343.4,434.6 L1344.5,433.5 L1345.5,432.4 L1346.6,431.3 L1347.7,430.2 L1348.7,429.1 L1349.8,427.9 L1350.8,426.8 L1351.8,425.7 L1352.9,424.5 L1353.9,423.3 L1354.9,422.2 L1355.9,421.0 L1356.9,419.9 L1357.9,418.7 L1358.9,417.5 L1359.9,416.4 L1360.9,415.2 L1361.9,414.0 L1362.9,412.9 L1363.9,411.7 L1364.9,410.6 L1365.9,409.5 L1366.9,408.3 L1367.9,407.2 L1368.9,406.1 L1370.0,405.0 L1371.0,403.9 L1372.0,402.8 L1373.0,401.7 L1374.0,400.6 L1375.0,399.6 L1376.0,398.5 L1377.1,397.5 L1378.1,396.4 L1379.1,395.4 L1380.2,394.4 L1381.2,393.3 L1382.2,392.3 L1383.3,391.3 L1384.3,390.2 L1385.3,389.2 L1386.4,388.2 L1387.4,387.1 L1388.5,386.1 L1389.5,385.0 L1390.6,384.0 L1391.6,382.9 L1392.7,381.9 L1393.7,380.8 L1394.8,379.7 L1395.8,378.6 L1396.9,377.4 L1397.9,376.3 L1399.0,375.2 L1400.0,374.0" stroke="#0000ff" stroke-width="9"/>
<path d="M214.0,41.0 L215.4,41.1 L216.7,41.2 L218.1,41.4 L219.6,41.5 L221.0,41.6 L222.4,41.8 L223.9,41.9 L225.4,42.1 L226.8,42.2 L228.3,42.4 L229.8,42.6 L231.3,42.8 L232.9,43.0 L234.4,43.2 L235.9,43.4 L237.5,43.6 L239.0,43.9 L240.5,44.1 L242.1,44.4 L243.6,44.7 L245.2,45.0 L246.7,45.3 L248.3,45.6 L249.8,46.0 L251.4,46.3 L252.9,46.7 L254.4,47.1 L256.0,47.5 L257.5,48.0 L259.0,48.4 L260.5,48.9 L262.0,49.4 L263.5,49.9 L265.0,50.4 L266.5,50.9 L268.0,51.5 L269.4,52.0 L270.8,52.6 L272.3,53.2 L273.7,53.9 L275.1,54.5 L276.4,55.2 L277.8,55.9 L279.1,56.6 L280.5,57.3 L281.8,58.1 L283.0,58.8 L284.3,59.6 L285.5,60.4 L286.7,61.3 L287.9,62.1 L289.1,63.0 L290.2,63.9 L291.3,64.8 L292.4,65.7 L293.5,66.7 L294.5,67.7 L295.5,68.6 L296.5,69.7 L297.4,70.7 L298.4,71.8 L299.3,72.8 L300.2,73.9 L301.0,75.0 L301.9,76.2 L302.7,77.3 L303.5,78.5 L304.3,79.6 L305.0,80.8 L305.8,82.0 L306.5,83.3 L307.2,84.5 L307.8,85.7 L308.5,87.0 L309.1,88.3 L309.8,89.6 L310.4,90.9 L311.0,92.2 L311.5,93.5 L312.1,94.9 L312.6,96.2 L313.2,97.6 L313.7,99.0 L314.2,100.4 L314.6,101.8 L315.1,103.2 L315.6,104.6 L316.0,106.0 L316.4,107.4 L316.8,108.9 L317.2,110.3 L317.6,111.8 L318.0,113.2 L318.4,114.7 L318.7,116.2 L319.1,117.7 L319.4,119.2 L319.8,120.7 L320.1,122.2 L320.4,123.7 L320.7,125.2 L321.0,126.7 L321.3,128.2 L321.6,129.7 L321.8,131.2 L322.1,132.8 L322.4,134.3 L322.6,135.8 L322.9,137.3 L323.1,138.9 L323.4,140.4 L323.6,141.9 L323.9,143.5 L324.1,145.0 L324.3,146.5 L324.6,148.0 L324.8,149.6 L325.0,151.1 L325.2,152.6 L325.5,154.1 L325.7,155.7 L325.9,157.2 L326.1,158.7 L326.3,160.2 L326.5,161.8 L326.7,163.3 L326.9,164.8 L327.1,166.3 L327.3,167.8 L327.5,169.4 L327.7,170.9 L327.9,172.4 L328.1,173.9 L328.3,175.4 L328.5,176.9 L328.6,178.5 L328.8,180.0 L329.0,181.5 L329.2,183.0 L329.3,184.5 L329.5,186.0 L329.7,187.6 L329.8,189.1 L330.0,190.6 L330.1,192.1 L330.3,193.6 L330.5,195.1 L330.6,196.6 L330.8,198.1 L330.9,199.6 L331.1,201.1 L331.2,202.7 L331.3,204.2 L331.5,205.7 L331.6,207.2 L331.7,208.7 L331.9,210.2 L332.0,211.7 L332.1,213.2 L332.3,214.7 L332.4,216.2 L332.5,217.7 L332.6,219.2 L332.8,220.7 L332.9,222.2 L333.0,223.7 L333.1,225.2 L333.2,226.7 L333.3,228.2 L333.4,229.7 L333.5,231.2 L333.6,232.7 L333.7,234.2 L333.8,235.7 L333.9,237.2 L334.0,238.7 L334.1,240.2 L334.2,241.7 L334.3,243.2 L334.4,244.7 L334.5,246.2 L334.6,247.7 L334.7,249.2 L334.8,250.7 L334.8,252.2 L334.9,253.7 L335.0,255.2 L335.1,256.7 L335.2,258.2 L335.2,259.7 L335.3,261.2 L335.4,262.7 L335.5,264.2 L335.5,265.7 L335.6,267.2 L335.7,268.7 L335.7,270.2 L335.8,271.7 L335.8,273.2 L335.9,274.7 L336.0,276.2 L336.0,277.7 L336.1,279.1 L336.1,280.6 L336.2,282.1 L336.3,283.6 L336.3,285.1 L336.4,286.6 L336.4,288.1 L336.5,289.6 L336.5,291.1 L336.6,292.6 L336.6,294.1 L336.6,295.6 L336.7,297.1 L336.7,298.6 L336.8,300.0 L336.8,301.5 L336.8,303.0 L336.9,304.5 L336.9,306.0 L337.0,307.5 L337.0,309.0 L337.0,310.5 L337.1,312.0 L337.1,313.5 L337.1,315.0 L337.2,316.5 L337.2,317.9 L337.2,319.4 L337.3,320.9 L337.3,322.4 L337.3,323.9 L337.3,325.4 L337.4,326.9 L337.4,328.4 L337.4,329.9 L337.4,331.4 L337.5,332.9 L337.5,334.3 L337.5,335.8 L337.5,337.3 L337.6,338.8 L337.6,340.3 L337.6,341.8 L337.6,343.3 L337.6,344.8 L337.6,346.3 L337.7,347.8 L337.7,349.3 L337.7,350.8 L337.7,352.2 L337.7,353.7 L337.8,355.2 L337.8,356.7 L337.8,358.2 L337.8,359.7 L337.8,361.2 L337.8,362.7 L337.8,364.2 L337.9,365.7 L337.9,367.2 L337.9,368.7 L337.9,370.2 L337.9,371.7 L337.9,373.2 L337.9,374.6 L337.9,376.1 L338.0,377.6 L338.0,379.1 L338.0,380.6 L338.0,382.1 L338.0,383.6 L338.0,385.1 L338.0,386.6 L338.0,388.1 L338.1,389.6 L338.1,391.1 L338.1,392.6 L338.1,394.1 L338.1,395.6 L338.1,397.1 L338.1,398.6 L338.1,400.1 L338.2,401.6 L338.2,403.1 L338.2,404.6 L338.2,406.1 L338.2,407.6 L338.2,409.1 L338.2,410.6 L338.2,412.1 L338.3,413.6 L338.3,415.1 L338.3,416.6 L338.3,418.1 L338.3,419.6 L338.3,421.1 L338.4,422.6 L338.4,424.1 L338.4,425.6 L338.4,427.1 L338.4,428.6 L338.4,430.1 L338.5,431.6 L338.5,433.1 L338.5,434.6 L338.5,436.1 L338.5,437.6 L338.6,439.1 L338.6,440.7 L338.6,442.2 L338.6,443.7 L338.7,445.2 L338.7,446.7 L338.7,448.2 L338.7,449.7 L338.8,451.2 L338.8,452.7 L338.8,454.2 L338.9,455.8 L338.9,457.3 L338.9,458.8 L338.9,460.3 L339.0,461.8 L339.0,463.3 L339.0,464.8 L339.1,466.3 L339.1,467.9 L339.2,469.4 L339.2,470.9 L339.2,472.4 L339.3,473.9 L339.3,475.5 L339.4,477.0 L339.4,478.5 L339.4,480.0 L339.5,481.5 L339.5,483.1 L339.6,484.6 L339.6,486.1 L339.7,487.6 L339.7,489.1 L339.8,490.7 L339.8,492.2 L339.9,493.7 L339.9,495.2 L340.0,496.8 L340.1,498.3 L340.1,499.8 L340.2,501.3 L340.2,502.9 L340.3,504.4 L340.4,505.9 L340.4,507.5 L340.5,509.0 L342.0,578.0 L342.2,576.5 L342.3,575.0 L342.4,573.5 L342.6,572.1 L342.7,570.6 L342.9,569.1 L343.0,567.6 L343.2,566.1 L343.3,564.6 L343.4,563.1 L343.6,561.6 L343.7,560.2 L343.8,558.7 L344.0,557.2 L344.1,555.7 L344.2,554.2 L344.3,552.7 L344.5,551.2 L344.6,549.7 L344.7,548.2 L344.8,546.7 L345.0,545.3 L345.1,543.8 L345.2,542.3 L345.3,540.8 L345.4,539.3 L345.5,537.8 L345.6,536.3 L345.7,534.8 L345.9,533.3 L346.0,531.8 L346.1,530.3 L346.2,528.8 L346.3,527.3 L346.4,525.8 L346.5,524.3 L346.6,522.8 L346.7,521.4 L346.8,519.9 L346.9,518.4 L347.0,516.9 L347.1,515.4 L347.1,513.9 L347.2,512.4 L347.3,510.9 L347.4,509.4 L347.5,507.9 L347.6,506.4 L347.7,504.9 L347.8,503.4 L347.8,501.9 L347.9,500.4 L348.0,498.9 L348.1,497.4 L348.2,495.9 L348.2,494.4 L348.3,492.9 L348.4,491.4 L348.5,489.9 L348.5,488.4 L348.6,486.9 L348.7,485.4 L348.8,483.9 L348.8,482.4 L348.9,480.9 L349.0,479.4 L349.0,477.9 L349.1,476.4 L349.2,474.9 L349.2,473.3 L349.3,471.8 L349.4,470.3 L349.4,468.8 L349.5,467.3 L349.5,465.8 L349.6,464.3 L349.7,462.8 L349.7,461.3 L349.8,459.8 L349.8,458.3 L349.9,456.8 L350.0,455.3 L350.0,453.8 L350.1,452.3 L350.1,450.8 L350.2,449.3 L350.2,447.8 L350.3,446.3 L350.3,444.8 L350.4,443.3 L350.4,441.8 L350.5,440.2 L350.5,438.7 L350.6,437.2 L350.6,435.7 L350.7,434.2 L350.7,432.7 L350.8,431.2 L350.8,429.7 L350.9,428.2 L350.9,426.7 L351.0,425.2 L351.0,423.7 L351.0,422.2 L351.1,420.7 L351.1,419.1 L351.2,417.6 L351.2,416.1 L351.3,414.6 L351.3,413.1 L351.3,411.6 L351.4,410.1 L351.4,408.6 L351.5,407.1 L351.5,405.6 L351.5,404.1 L351.6,402.6 L351.6,401.1 L351.7,399.6 L351.7,398.0 L351.7,396.5 L351.8,395.0 L351.8,393.5 L351.9,392.0 L351.9,390.5 L351.9,389.0 L352.0,387.5 L352.0,386.0 L352.0,384.5 L352.1,383.0 L352.1,381.5 L352.2,379.9 L352.2,378.4 L352.2,376.9 L352.3,375.4 L352.3,373.9 L352.3,372.4 L352.4,370.9 L352.4,369.4 L352.4,367.9 L352.5,366.4 L352.5,364.9 L352.6,363.4 L352.6,361.9 L352.6,360.3 L352.7,358.8 L352.7,357.3 L352.7,355.8 L352.8,354.3 L352.8,352.8 L352.9,351.3 L352.9,349.8 L352.9,348.3 L353.0,346.8 L353.0,345.3 L353.0,343.8 L353.1,342.3 L353.1,340.8 L353.2,339.3 L353.2,337.7 L353.2,336.2 L353.3,334.7 L353.3,333.2 L353.4,331.7 L353.4,330.2 L353.4,328.7 L353.5,327.2 L353.5,325.7 L353.6,324.2 L353.6,322.7 L353.6,321.2 L353.7,319.7 L353.7,318.2 L353.8,316.7 L353.8,315.2 L353.9,313.7 L353.9,312.2 L354.0,310.7 L354.0,309.1 L354.1,307.6 L354.1,306.1 L354.1,304.6 L354.2,303.1 L354.2,301.6 L354.3,300.1 L354.3,298.6 L354.4,297.1 L354.4,295.6 L354.5,294.1 L354.5,292.6 L354.6,291.1 L354.7,289.6 L354.7,288.1 L354.8,286.6 L354.8,285.1 L354.9,283.6 L354.9,282.1 L355.0,280.6 L355.0,279.1 L355.1,277.6 L355.2,276.1 L355.2,274.6 L355.3,273.1 L355.3,271.6 L355.4,270.1 L355.5,268.6 L355.5,267.1 L355.6,265.6 L355.7,264.1 L355.7,262.6 L355.8,261.1 L355.9,259.6 L355.9,258.1 L356.0,256.6 L356.1,255.1 L356.2,253.6 L356.2,252.1 L356.3,250.6 L356.4,249.1 L356.4,247.6 L356.5,246.2 L356.6,244.7 L356.7,243.2 L356.8,241.7 L356.8,240.2 L356.9,238.7 L357.0,237.2 L357.1,235.7 L357.2,234.2 L357.3,232.7 L357.3,231.2 L357.4,229.7 L357.5,228.2 L357.6,226.7 L357.7,225.3 L357.8,223.8 L357.9,222.3 L358.0,220.8 L358.1,219.3 L358.2,217.8 L358.3,216.3 L358.4,214.8 L358.5,213.3 L358.6,211.8 L358.7,210.4 L358.8,208.9 L358.9,207.4 L359.0,205.9 L359.1,204.4 L359.2,202.9 L359.3,201.4 L359.4,200.0 L359.6,198.5 L359.7,197.0 L359.8,195.5 L359.9,194.0 L360.0,192.5 L360.1,191.0 L360.3,189.6 L360.4,188.1 L360.5,186.6 L360.6,185.1 L360.8,183.6 L360.9,182.2 L361.0,180.7 L361.2,179.2 L361.3,177.7 L361.4,176.2 L361.6,174.8 L361.7,173.3 L361.9,171.8 L362.0,170.3 L362.1,168.8 L362.3,167.4 L362.4,165.9 L362.6,164.4 L362.7,162.9 L362.9,161.4 L363.0,160.0 L363.2,158.5 L363.4,157.0 L363.5,155.5 L363.7,154.0 L363.9,152.5 L364.0,151.0 L364.2,149.6 L364.4,148.1 L364.6,146.6 L364.7,145.1 L364.9,143.6 L365.1,142.1 L365.3,140.6 L365.5,139.1 L365.7,137.6 L365.9,136.0 L366.1,134.5 L366.3,133.0 L366.5,131.5 L366.7,130.0 L366.9,128.5 L367.1,126.9 L367.3,125.4 L367.5,123.9 L367.8,122.3 L368.0,120.8 L368.2,119.3 L368.5,117.7 L368.7,116.2 L368.9,114.6 L369.2,113.0 L369.5,111.5 L369.7,109.9 L370.0,108.4 L370.3,106.8 L370.6,105.3 L370.9,103.7 L371.2,102.2 L371.5,100.6 L371.9,99.1 L372.2,97.6 L372.6,96.1 L373.0,94.6 L373.4,93.1 L373.9,91.6 L374.3,90.2 L374.8,88.8 L375.3,87.3 L375.9,85.9 L376.4,84.5 L377.0,83.2 L377.7,81.8 L378.3,80.5 L379.0,79.2 L379.7,77.9 L380.5,76.7 L381.3,75.5 L382.1,74.3 L383.0,73.1 L383.9,72.0 L384.8,70.9 L385.8,69.8 L386.8,68.8 L387.8,67.8 L388.9,66.8 L389.9,65.8 L391.1,64.9 L392.2,64.0 L393.4,63.1 L394.6,62.3 L395.8,61.5 L397.0,60.7 L398.3,59.9 L399.6,59.2 L400.9,58.5 L402.2,57.9 L403.5,57.2 L404.9,56.6 L406.2,56.1 L407.6,55.5 L409.0,55.0 L410.4,54.5 L411.9,54.1 L413.3,53.7 L414.7,53.3 L416.2,52.9 L417.6,52.6 L419.1,52.3 L420.6,52.1 L422.0,51.8 L423.5,51.6 L425.0,51.5 L426.5,51.3 L427.9,51.2 L429.4,51.2 L430.9,51.1 L432.4,51.1 L433.8,51.1 L435.3,51.2 L436.8,51.3 L438.2,51.4 L439.7,51.5 L441.2,51.7 L442.6,51.9 L444.1,52.1 L445.5,52.3 L447.0,52.6 L448.4,52.8 L449.9,53.1 L451.3,53.5 L452.8,53.8 L454.2,54.2 L455.7,54.5 L457.1,54.9 L458.6,55.3 L460.0,55.8 L461.5,56.2 L462.9,56.6 L464.4,57.1 L465.8,57.6 L467.2,58.1 L468.7,58.6 L470.1,59.1 L471.5,59.6 L473.0,60.1 L474.4,60.7 L475.8,61.2 L477.3,61.8 L478.7,62.3 L480.1,62.9 L481.6,63.4 L483.0,64.0 L484.4,64.6 L485.8,65.1 L487.3,65.7 L488.7,66.3 L490.1,66.8 L491.5,67.4 L492.9,68.0 L494.4,68.5 L495.8,69.1 L497.2,69.7 L498.6,70.3 L500.0,70.8 L501.4,71.4 L502.9,72.0 L504.3,72.6 L505.7,73.1 L507.1,73.7 L508.5,74.3 L509.9,74.9 L511.3,75.5 L512.7,76.1 L514.1,76.7 L515.5,77.3 L516.9,77.9 L518.3,78.5 L519.7,79.1 L521.0,79.7 L522.4,80.3 L523.8,80.9 L525.2,81.5 L526.6,82.2 L527.9,82.8 L529.3,83.4 L530.7,84.1 L532.1,84.7 L533.4,85.3 L534.8,86.0 L536.1,86.6 L537.5,87.3 L538.9,87.9 L540.2,88.6 L541.6,89.2 L542.9,89.9 L544.2,90.6 L545.6,91.3 L546.9,91.9 L548.2,92.6 L549.6,93.3 L550.9,94.0 L552.2,94.7 L553.5,95.4 L554.9,96.1 L556.2,96.8 L557.5,97.6 L558.8,98.3 L560.1,99.0 L561.4,99.7 L562.7,100.5 L563.9,101.2 L565.2,102.0 L566.5,102.8 L567.8,103.5 L569.1,104.3 L570.3,105.1 L571.6,105.9 L572.8,106.7 L574.1,107.5 L575.3,108.3 L576.6,109.1 L577.8,109.9 L579.1,110.7 L580.3,111.6 L581.5,112.4 L582.7,113.2 L583.9,114.1 L585.2,115.0 L586.4,115.8 L587.6,116.7 L588.8,117.6 L589.9,118.5 L591.1,119.4 L592.3,120.3 L593.5,121.2 L594.7,122.1 L595.8,123.1 L597.0,124.0 L598.1,125.0 L599.3,125.9 L600.4,126.9 L601.6,127.9 L602.7,128.8 L603.8,129.8 L604.9,130.8 L606.1,131.8 L607.2,132.8 L608.3,133.8 L609.4,134.9 L610.5,135.9 L611.6,136.9 L612.7,137.9 L613.8,139.0 L614.9,140.0 L616.0,141.0 L617.1,142.1 L618.2,143.1 L619.3,144.2 L620.3,145.2 L621.4,146.3 L622.5,147.3 L623.6,148.4 L624.7,149.4 L625.8,150.5 L626.9,151.5 L627.9,152.6 L629.0,153.7 L630.1,154.7 L631.2,155.8 L632.3,156.8 L633.4,157.9 L634.5,158.9 L635.6,159.9 L636.7,161.0 L637.8,162.0 L638.9,163.0 L640.0,164.1 L641.1,165.1 L642.2,166.1 L643.3,167.1 L644.4,168.1 L645.5,169.1 L646.6,170.1 L647.8,171.1 L648.9,172.1 L650.0,173.1 L651.2,174.1 L652.3,175.0 L653.5,176.0 L654.6,176.9 L655.8,177.9 L657.0,178.8 L658.1,179.7 L659.3,180.7 L660.5,181.6 L661.7,182.5 L662.9,183.4 L664.1,184.3 L665.3,185.2 L666.5,186.0 L667.7,186.9 L668.9,187.8 L670.1,188.7 L671.3,189.5 L672.6,190.4 L673.8,191.2 L675.0,192.0 L676.3,192.9 L677.5,193.7 L678.7,194.5 L680.0,195.3 L681.2,196.2 L682.5,197.0 L683.8,197.8 L685.0,198.6 L686.3,199.4 L687.5,200.2 L688.8,200.9 L690.1,201.7 L691.4,202.5 L692.6,203.3 L693.9,204.0 L695.2,204.8 L696.5,205.6 L697.8,206.3 L699.1,207.1 L700.3,207.9 L701.6,208.6 L702.9,209.4 L704.2,210.1 L705.5,210.8 L706.8,211.6 L708.1,212.3 L709.4,213.1 L710.7,213.8 L712.1,214.5 L713.4,215.3 L714.7,216.0 L716.0,216.7 L717.3,217.4 L718.6,218.2 L719.9,218.9 L721.3,219.6 L722.6,220.3 L723.9,221.0 L725.2,221.7 L726.5,222.4 L727.9,223.1 L729.2,223.8 L730.5,224.5 L731.9,225.2 L733.2,225.9 L734.5,226.6 L735.9,227.3 L737.2,228.0 L738.5,228.7 L739.9,229.3 L741.2,230.0 L742.6,230.7 L743.9,231.4 L745.3,232.0 L746.6,232.7 L748.0,233.4 L749.3,234.0 L750.7,234.7 L752.0,235.3 L753.4,236.0 L754.7,236.6 L756.1,237.3 L757.5,237.9 L758.8,238.5 L760.2,239.2 L761.5,239.8 L762.9,240.4 L764.3,241.0 L765.6,241.7 L767.0,242.3 L768.4,242.9 L769.8,243.5 L771.1,244.1 L772.5,244.7 L773.9,245.3 L775.3,245.9 L776.7,246.5 L778.0,247.1 L779.4,247.6 L780.8,248.2 L782.2,248.8 L783.6,249.4 L785.0,249.9 L786.4,250.5 L787.8,251.0 L789.2,251.6 L790.6,252.2 L792.0,252.7 L793.4,253.2 L794.8,253.8 L796.2,254.3 L797.6,254.8 L799.0,255.4 L800.4,255.9 L801.8,256.4 L803.2,256.9 L804.6,257.4 L806.0,257.9 L807.4,258.4 L808.9,258.9 L810.3,259.4 L811.7,259.9 L813.1,260.4 L814.5,260.9 L816.0,261.3 L817.4,261.8 L818.8,262.3 L820.2,262.7 L821.7,263.2 L823.1,263.6 L824.5,264.1 L826.0,264.5 L827.4,265.0 L828.8,265.4 L830.3,265.8 L831.7,266.2 L833.2,266.6 L834.6,267.1 L836.0,267.5 L837.5,267.9 L838.9,268.3 L840.4,268.6 L841.8,269.0 L843.3,269.4 L844.7,269.8 L846.2,270.2 L847.6,270.5 L849.1,270.9 L850.5,271.2 L852.0,271.6 L853.5,271.9 L854.9,272.3 L856.4,272.6 L857.9,272.9 L859.3,273.2 L860.8,273.6 L862.3,273.9 L863.7,274.2 L865.2,274.5 L866.7,274.8 L868.1,275.1 L869.6,275.3 L871.1,275.6 L872.6,275.9 L874.1,276.2 L875.5,276.4 L877.0,276.7 L878.5,277.0 L880.0,277.2 L881.4,277.5 L882.9,277.8 L884.4,278.0 L885.9,278.3 L887.4,278.5 L888.9,278.8 L890.3,279.1 L891.8,279.3 L893.3,279.6 L894.8,279.8 L896.3,280.1 L897.8,280.4 L899.2,280.6 L900.7,280.9 L902.2,281.2 L903.7,281.5 L905.1,281.7 L906.6,282.0 L908.1,282.3 L909.6,282.6 L911.1,282.9 L912.5,283.2 L914.0,283.5 L915.5,283.8 L916.9,284.2 L918.4,284.5 L919.9,284.8 L921.3,285.2 L922.8,285.5 L924.3,285.9 L925.7,286.3 L927.2,286.6 L928.6,287.0 L930.1,287.4 L931.5,287.8 L933.0,288.2 L934.4,288.7 L935.9,289.1 L937.3,289.5 L938.8,290.0 L940.2,290.5 L941.6,290.9 L943.0,291.4 L944.5,291.9 L945.9,292.4 L947.3,292.9 L948.7,293.5 L950.1,294.0 L951.5,294.6 L952.9,295.1 L954.3,295.7 L955.7,296.3 L957.0,296.9 L958.4,297.5 L959.8,298.1 L961.1,298.7 L962.5,299.4 L963.8,300.0 L965.1,300.7 L966.5,301.4 L967.8,302.1 L969.1,302.8 L970.4,303.5 L971.7,304.2 L973.0,305.0 L974.2,305.7 L975.5,306.5 L976.8,307.3 L978.0,308.1 L979.2,308.9 L980.5,309.7 L981.7,310.5 L982.9,311.3 L984.1,312.2 L985.4,313.0 L986.6,313.9 L987.8,314.8 L988.9,315.6 L990.1,316.5 L991.3,317.4 L992.5,318.3 L993.7,319.2 L994.8,320.2 L996.0,321.1 L997.2,322.0 L998.3,323.0 L999.5,323.9 L1000.6,324.9 L1001.8,325.8 L1002.9,326.8 L1004.1,327.8 L1005.2,328.7 L1006.3,329.7 L1007.5,330.7 L1008.6,331.7 L1009.7,332.7 L1010.9,333.6 L1012.0,334.6 L1013.1,335.6 L1014.3,336.7 L1015.4,337.7 L1016.5,338.7 L1017.6,339.7 L1018.7,340.7 L1019.8,341.7 L1020.9,342.8 L1022.0,343.8 L1023.1,344.9 L1024.2,345.9 L1025.3,347.0 L1026.4,348.0 L1027.5,349.1 L1028.5,350.1 L1029.6,351.2 L1030.7,352.3 L1031.7,353.4 L1032.8,354.5 L1033.8,355.5 L1034.8,356.6 L1035.9,357.7 L1036.9,358.9 L1037.9,360.0 L1038.9,361.1 L1039.9,362.2 L1040.9,363.4 L1041.8,364.5 L1042.8,365.6 L1043.8,366.8 L1044.7,367.9 L1045.6,369.1 L1046.6,370.3 L1047.5,371.5 L1048.4,372.6 L1049.3,373.8 L1050.2,375.0 L1051.0,376.2 L1051.9,377.4 L1052.8,378.6 L1053.6,379.9 L1054.4,381.1 L1055.2,382.3 L1056.0,383.6 L1056.8,384.8 L1057.6,386.1 L1058.4,387.3 L1059.1,388.6 L1059.9,389.9 L1060.6,391.2 L1061.3,392.5 L1062.0,393.8 L1062.7,395.1 L1063.3,396.4 L1064.0,397.7 L1064.6,399.1 L1065.2,400.4 L1065.8,401.8 L1066.4,403.1 L1067.0,404.5 L1067.6,405.8 L1068.1,407.2 L1068.7,408.6 L1069.2,410.0 L1069.7,411.4 L1070.2,412.8 L1070.7,414.2 L1071.2,415.6 L1071.7,417.0 L1072.1,418.4 L1072.6,419.8 L1073.0,421.3 L1073.4,422.7 L1073.9,424.1 L1074.3,425.6 L1074.7,427.0 L1075.1,428.5 L1075.5,429.9 L1075.8,431.4 L1076.2,432.8 L1076.6,434.3 L1076.9,435.8 L1077.3,437.2 L1077.6,438.7 L1078.0,440.2 L1078.3,441.7 L1078.6,443.1 L1078.9,444.6 L1079.3,446.1 L1079.6,447.6 L1079.9,449.1 L1080.2,450.6 L1080.5,452.0 L1080.8,453.5 L1081.1,455.0 L1081.3,456.5 L1081.6,458.0 L1081.9,459.5 L1082.2,461.0 L1082.5,462.5 L1082.8,464.0 L1083.0,465.4 L1083.3,466.9 L1083.6,468.4 L1083.8,469.9 L1084.1,471.4 L1084.4,472.9 L1084.6,474.4 L1084.9,475.9 L1085.2,477.4 L1085.4,478.9 L1085.7,480.3 L1085.9,481.8 L1086.2,483.3 L1086.4,484.8 L1086.7,486.3 L1086.9,487.8 L1087.2,489.3 L1087.4,490.8 L1087.7,492.3 L1087.9,493.8 L1088.1,495.2 L1088.4,496.7 L1088.6,498.2 L1088.8,499.7 L1089.1,501.2 L1089.3,502.7 L1089.5,504.2 L1089.7,505.7 L1090.0,507.2 L1090.2,508.7 L1090.4,510.1 L1090.6,511.6 L1090.8,513.1 L1091.1,514.6 L1091.3,516.1 L1091.5,517.6 L1091.7,519.1 L1091.9,520.6 L1092.1,522.1 L1092.3,523.6 L1092.5,525.0 L1092.7,526.5 L1092.9,528.0 L1093.1,529.5 L1093.3,531.0 L1093.5,532.5 L1093.7,534.0 L1093.9,535.5 L1094.1,537.0 L1094.3,538.5 L1094.4,539.9 L1094.6,541.4 L1094.8,542.9 L1095.0,544.4 L1095.2,545.9 L1095.3,547.4 L1095.5,548.9 L1095.7,550.4 L1095.9,551.9 L1096.1,553.4 L1096.2,554.8 L1096.4,556.3 L1096.6,557.8 L1096.7,559.3 L1096.9,560.8 L1097.1,562.3 L1097.2,563.8 L1097.4,565.3 L1097.5,566.8 L1097.7,568.3 L1097.9,569.8 L1098.0,571.2 L1098.2,572.7 L1098.3,574.2 L1098.5,575.7 L1098.6,577.2 L1098.8,578.7 L1098.9,580.2 L1099.1,581.7 L1099.2,583.2 L1099.4,584.7 L1099.5,586.2 L1099.7,587.6 L1099.8,589.1 L1099.9,590.6 L1100.1,592.1 L1100.2,593.6 L1100.3,595.1 L1100.5,596.6 L1100.6,598.1 L1100.7,599.6 L1100.9,601.1 L1101.0,602.6 L1101.1,604.0 L1101.3,605.5 L1101.4,607.0 L1101.5,608.5 L1101.6,610.0 L1101.8,611.5 L1101.9,613.0 L1102.0,614.5 L1102.1,616.0 L1102.3,617.5 L1102.4,619.0 L1102.5,620.5 L1102.6,622.0 L1102.7,623.4 L1102.8,624.9 L1102.9,626.4 L1103.1,627.9 L1103.2,629.4 L1103.3,630.9 L1103.4,632.4 L1103.5,633.9 L1103.6,635.4 L1103.7,636.9 L1103.8,638.4 L1103.9,639.9 L1104.0,641.4 L1104.1,642.9 L1104.2,644.4 L1104.3,645.8 L1104.4,647.3 L1104.5,648.8 L1104.6,650.3 L1104.7,651.8 L1104.8,653.3 L1104.9,654.8 L1105.0,656.3 L1105.1,657.8 L1105.2,659.3 L1105.3,660.8 L1105.4,662.3 L1105.5,663.8 L1105.6,665.3 L1105.7,666.8 L1105.8,668.3 L1105.8,669.8 L1105.9,671.3 L1106.0,672.7 L1106.1,674.2 L1106.2,675.7 L1106.3,677.2 L1106.4,678.7 L1106.4,680.2 L1106.5,681.7 L1106.6,683.2 L1106.7,684.7 L1106.8,686.2 L1106.9,687.7 L1106.9,689.2 L1107.0,690.7 L1107.1,692.2 L1107.2,693.7 L1107.2,695.2 L1107.3,696.7 L1107.4,698.2 L1107.5,699.7 L1107.6,701.2 L1107.6,702.7 L1107.7,704.2 L1107.8,705.7 L1107.9,707.2 L1107.9,708.7 L1108.0,710.2 L1108.1,711.7 L1108.1,713.2 L1108.2,714.7 L1108.3,716.2 L1108.4,717.7 L1108.4,719.2 L1108.5,720.7 L1108.6,722.2 L1108.6,723.7 L1108.7,725.2 L1108.8,726.7 L1108.8,728.1 L1108.9,729.6 L1109.0,731.1 L1109.0,732.6 L1109.1,734.1 L1109.2,735.6 L1109.2,737.1 L1109.3,738.6 L1109.4,740.1 L1109.4,741.7 L1109.5,743.2 L1109.6,744.7 L1109.6,746.2 L1109.7,747.7 L1109.8,749.2 L1109.8,750.7 L1109.9,752.2 L1110.0,753.7 L1110.0,755.2 L1110.1,756.7 L1110.1,758.2 L1110.2,759.7 L1110.3,761.2 L1110.3,762.7 L1110.4,764.2 L1110.5,765.7 L1110.5,767.2 L1110.6,768.7 L1110.6,770.2 L1110.7,771.7 L1110.8,773.2 L1110.8,774.7 L1110.9,776.2 L1110.9,777.7 L1111.0,779.2 L1111.1,780.7 L1111.1,782.2 L1111.2,783.7 L1111.3,785.2 L1111.3,786.7 L1111.4,788.2 L1111.4,789.7 L1111.5,791.2 L1111.6,792.8 L1111.6,794.3 L1111.7,795.8 L1111.8,797.3 L1111.8,798.8 L1111.9,800.3 L1111.9,801.8 L1112.0,803.3 L1112.1,804.8 L1112.1,806.3 L1112.2,807.8 L1112.3,809.3 L1112.3,810.8 L1112.4,812.3 L1112.4,813.8 L1112.5,815.4 L1112.6,816.9 L1112.6,818.4 L1112.7,819.9 L1112.8,821.4 L1112.8,822.9 L1112.9,824.4 L1113.0,825.9 L1113.0,827.4 L1113.1,828.9 L1113.2,830.4 L1113.2,832.0 L1113.3,833.5 L1113.4,835.0 L1113.4,836.5 L1113.5,838.0 L1113.6,836.5 L1113.7,835.0 L1113.7,833.5 L1113.8,831.9 L1113.9,830.4 L1114.0,828.9 L1114.1,827.4 L1114.1,825.9 L1114.2,824.4 L1114.3,822.9 L1114.4,821.4 L1114.4,819.8 L1114.5,818.3 L1114.6,816.8 L1114.7,815.3 L1114.7,813.8 L1114.8,812.3 L1114.9,810.8 L1115.0,809.3 L1115.0,807.8 L1115.1,806.3 L1115.2,804.7 L1115.2,803.2 L1115.3,801.7 L1115.4,800.2 L1115.5,798.7 L1115.5,797.2 L1115.6,795.7 L1115.7,794.2 L1115.7,792.7 L1115.8,791.2 L1115.9,789.7 L1115.9,788.2 L1116.0,786.7 L1116.0,785.1 L1116.1,783.6 L1116.2,782.1 L1116.2,780.6 L1116.3,779.1 L1116.4,777.6 L1116.4,776.1 L1116.5,774.6 L1116.6,773.1 L1116.6,771.6 L1116.7,770.1 L1116.7,768.6 L1116.8,767.1 L1116.9,765.6 L1116.9,764.1 L1117.0,762.6 L1117.0,761.1 L1117.1,759.6 L1117.2,758.1 L1117.2,756.6 L1117.3,755.1 L1117.3,753.6 L1117.4,752.0 L1117.5,750.5 L1117.5,749.0 L1117.6,747.5 L1117.6,746.0 L1117.7,744.5 L1117.8,743.0 L1117.8,741.5 L1117.9,740.0 L1117.9,738.5 L1118.0,737.0 L1118.1,735.5 L1118.1,734.0 L1118.2,732.5 L1118.2,731.0 L1118.3,729.5 L1118.4,728.0 L1118.4,726.5 L1118.5,725.0 L1118.5,723.5 L1118.6,722.0 L1118.6,720.5 L1118.7,719.0 L1118.8,717.5 L1118.8,716.0 L1118.9,714.5 L1118.9,713.0 L1119.0,711.5 L1119.1,710.0 L1119.1,708.5 L1119.2,707.0 L1119.2,705.5 L1119.3,704.0 L1119.4,702.5 L1119.4,701.0 L1119.5,699.5 L1119.6,698.0 L1119.6,696.5 L1119.7,695.0 L1119.7,693.6 L1119.8,692.1 L1119.9,690.6 L1119.9,689.1 L1120.0,687.6 L1120.1,686.1 L1120.1,684.6 L1120.2,683.1 L1120.3,681.6 L1120.3,680.1 L1120.4,678.6 L1120.4,677.1 L1120.5,675.6 L1120.6,674.1 L1120.6,672.6 L1120.7,671.1 L1120.8,669.6 L1120.9,668.1 L1120.9,666.6 L1121.0,665.1 L1121.1,663.6 L1121.1,662.1 L1121.2,660.6 L1121.3,659.1 L1121.3,657.6 L1121.4,656.1 L1121.5,654.6 L1121.6,653.1 L1121.6,651.6 L1121.7,650.1 L1121.8,648.7 L1121.9,647.2 L1121.9,645.7 L1122.0,644.2 L1122.1,642.7 L1122.2,641.2 L1122.3,639.7 L1122.3,638.2 L1122.4,636.7 L1122.5,635.2 L1122.6,633.7 L1122.7,632.2 L1122.7,630.7 L1122.8,629.2 L1122.9,627.7 L1123.0,626.2 L1123.1,624.7 L1123.2,623.2 L1123.3,621.7 L1123.3,620.2 L1123.4,618.7 L1123.5,617.2 L1123.6,615.7 L1123.7,614.3 L1123.8,612.8 L1123.9,611.3 L1124.0,609.8 L1124.1,608.3 L1124.2,606.8 L1124.3,605.3 L1124.4,603.8 L1124.5,602.3 L1124.6,600.8 L1124.7,599.3 L1124.8,597.8 L1124.9,596.3 L1125.0,594.8 L1125.1,593.3 L1125.2,591.8 L1125.3,590.3 L1125.4,588.8 L1125.5,587.3 L1125.6,585.8 L1125.7,584.3 L1125.8,582.8 L1125.9,581.3 L1126.1,579.9 L1126.2,578.4 L1126.3,576.9 L1126.4,575.4 L1126.5,573.9 L1126.6,572.4 L1126.8,570.9 L1126.9,569.4 L1127.0,567.9 L1127.1,566.4 L1127.2,564.9 L1127.4,563.4 L1127.5,561.9 L1127.6,560.4 L1127.8,558.9 L1127.9,557.4 L1128.0,555.9 L1128.2,554.4 L1128.3,552.9 L1128.4,551.4 L1128.6,549.9 L1128.7,548.4 L1128.8,546.9 L1129.0,545.4 L1129.1,543.9 L1129.3,542.4 L1129.4,540.9 L1129.5,539.4 L1129.7,537.9 L1129.8,536.4 L1130.0,535.0 L1130.1,533.5 L1130.3,532.0 L1130.4,530.5 L1130.6,529.0 L1130.8,527.5 L1130.9,526.0 L1131.1,524.5 L1131.2,523.0 L1131.4,521.5 L1131.6,520.0 L1131.7,518.5 L1131.9,517.0 L1132.1,515.5 L1132.2,514.0 L1132.4,512.5 L1132.6,511.0 L1132.7,509.5 L1132.9,508.0 L1133.1,506.5 L1133.3,505.0 L1133.4,503.5 L1133.6,502.0 L1133.8,500.5 L1134.0,499.0 L1134.2,497.5 L1134.4,496.0 L1134.6,494.5 L1134.8,493.0 L1134.9,491.5 L1135.1,490.0 L1135.3,488.5 L1135.5,487.0 L1135.7,485.5 L1135.9,484.0 L1136.1,482.5 L1136.3,481.0 L1136.6,479.5 L1136.8,477.9 L1137.0,476.4 L1137.2,474.9 L1137.4,473.4 L1137.6,471.9 L1137.8,470.4 L1138.0,468.9 L1138.3,467.4 L1138.5,465.9 L1138.7,464.4 L1138.9,462.9 L1139.2,461.4 L1139.4,459.9 L1139.6,458.4 L1139.9,456.9 L1140.1,455.4 L1140.3,453.9 L1140.6,452.4 L1140.8,450.9 L1141.1,449.4 L1141.3,447.9 L1141.6,446.4 L1141.8,444.9 L1142.1,443.3 L1142.3,441.8 L1142.6,440.3 L1142.8,438.8 L1143.1,437.3 L1143.3,435.8 L1143.6,434.3 L1143.9,432.8 L1144.1,431.3 L1144.4,429.8 L1144.7,428.3 L1144.9,426.8 L1145.2,425.2 L1145.5,423.7 L1145.8,422.2 L1146.1,420.7 L1146.4,419.2 L1146.7,417.7 L1147.0,416.2 L1147.3,414.7 L1147.6,413.3 L1148.0,411.8 L1148.3,410.4 L1148.7,408.9 L1149.2,407.5 L1149.6,406.1 L1150.1,404.7 L1150.6,403.4 L1151.1,402.1 L1151.7,400.8 L1152.3,399.5 L1153.0,398.3 L1153.6,397.1 L1154.4,395.9 L1155.2,394.8 L1156.0,393.7 L1156.9,392.7 L1157.8,391.7 L1158.9,390.8 L1160.0,390.1 L1161.1,389.6 L1162.4,389.2 L1163.7,388.9 L1165.0,388.8 L1166.3,388.7 L1167.6,388.7 L1168.9,388.9 L1170.2,389.1 L1171.5,389.3 L1172.8,389.7 L1174.1,390.1 L1175.4,390.6 L1176.7,391.2 L1178.0,391.8 L1179.3,392.5 L1180.6,393.3 L1181.9,394.1 L1183.2,394.9 L1184.5,395.8 L1185.8,396.7 L1187.1,397.6 L1188.4,398.6 L1189.7,399.6 L1191.0,400.6 L1192.3,401.7 L1193.5,402.7 L1194.8,403.8 L1196.1,404.9 L1197.4,405.9 L1198.7,407.0 L1199.9,408.1 L1201.2,409.1 L1202.5,410.2 L1203.8,411.2 L1205.0,412.2 L1206.3,413.2 L1207.6,414.1 L1208.8,415.1 L1210.1,415.9 L1211.4,416.8 L1212.7,417.6 L1214.0,418.4 L1215.3,419.1 L1216.6,419.8 L1217.9,420.5 L1219.2,421.1 L1220.5,421.7 L1221.9,422.2 L1223.2,422.6 L1224.6,423.0 L1226.0,423.4 L1227.4,423.6 L1228.8,423.9 L1230.2,424.0 L1231.7,424.1 L1233.1,424.1 L1234.6,424.1 L1236.1,424.0 L1237.6,423.9 L1239.1,423.7 L1240.6,423.5 L1242.1,423.2 L1243.5,422.9 L1245.0,422.6 L1246.5,422.2 L1247.9,421.7 L1249.4,421.3 L1250.8,420.8 L1252.2,420.2 L1253.5,419.7 L1254.9,419.1 L1256.2,418.4 L1257.6,417.8 L1258.9,417.1 L1260.1,416.4 L1261.4,415.7 L1262.7,414.9 L1263.9,414.1 L1265.1,413.3 L1266.3,412.5 L1267.5,411.6 L1268.7,410.8 L1269.9,409.9 L1271.0,408.9 L1272.2,408.0 L1273.3,407.0 L1274.4,406.1 L1275.5,405.1 L1276.6,404.1 L1277.7,403.0 L1278.8,402.0 L1279.8,401.0 L1280.9,399.9 L1281.9,398.8 L1283.0,397.7 L1284.0,396.6 L1285.0,395.5 L1286.0,394.4 L1287.0,393.2 L1288.0,392.1 L1289.0,390.9 L1290.0,389.8 L1291.0,388.6 L1292.0,387.4 L1292.9,386.2 L1293.9,385.0 L1294.9,383.9 L1295.8,382.7 L1296.8,381.5 L1297.7,380.3 L1298.7,379.1 L1299.6,377.9 L1300.6,376.7 L1301.5,375.5 L1302.5,374.3 L1303.4,373.1 L1304.4,371.9 L1305.3,370.7 L1306.2,369.5 L1307.2,368.3 L1308.1,367.1 L1309.1,365.9 L1310.0,364.7 L1310.9,363.6 L1311.9,362.4 L1312.8,361.2 L1313.7,360.0 L1314.7,358.8 L1315.6,357.6 L1316.6,356.4 L1317.5,355.2 L1318.4,354.1 L1319.4,352.9 L1320.3,351.7 L1321.2,350.5 L1322.2,349.3 L1323.1,348.2 L1324.0,347.0 L1325.0,345.8 L1325.9,344.6 L1326.8,343.4 L1327.8,342.3 L1328.7,341.1 L1329.6,339.9 L1330.6,338.7 L1331.5,337.6 L1332.4,336.4 L1333.4,335.2 L1334.3,334.1 L1335.2,332.9 L1336.2,331.7 L1337.1,330.6 L1338.1,329.4 L1339.0,328.2 L1339.9,327.1 L1340.9,325.9 L1341.8,324.8 L1342.8,323.6 L1343.7,322.5 L1344.7,321.3 L1345.6,320.1 L1346.6,319.0 L1347.5,317.8 L1348.5,316.7 L1349.4,315.5 L1350.4,314.4 L1351.3,313.2 L1352.3,312.1 L1353.2,311.0 L1354.2,309.8 L1355.2,308.7 L1356.1,307.5 L1357.1,306.4 L1358.1,305.3 L1359.0,304.1 L1360.0,303.0 L1361.0,301.8 L1362.0,300.7 L1362.9,299.6 L1363.9,298.5 L1364.9,297.3 L1365.9,296.2 L1366.9,295.1 L1367.9,294.0 L1368.9,292.8 L1369.8,291.7 L1370.8,290.6 L1371.8,289.5 L1372.8,288.4 L1373.8,287.3 L1374.9,286.1 L1375.9,285.0 L1376.9,283.9 L1377.9,282.8 L1378.9,281.7 L1379.9,280.6 L1381.0,279.5 L1382.0,278.4 L1383.0,277.3 L1384.1,276.2 L1385.1,275.1 L1386.1,274.0 L1387.2,272.9 L1388.2,271.9 L1389.3,270.8 L1390.3,269.7 L1391.4,268.6 L1392.5,267.5 L1393.5,266.4 L1394.6,265.4 L1395.7,264.3 L1396.7,263.2 L1397.8,262.1 L1398.9,261.1 L1400.0,260.0" stroke="#ff0000" stroke-width="9"/>
<path d="M214.0,41.0 L215.4,41.1 L216.8,41.1 L218.2,41.2 L219.7,41.3 L221.1,41.4 L222.6,41.5 L224.0,41.7 L225.5,41.8 L227.0,42.0 L228.5,42.1 L230.0,42.3 L231.5,42.5 L233.1,42.7 L234.6,42.9 L236.1,43.2 L237.7,43.4 L239.2,43.7 L240.8,43.9 L242.3,44.2 L243.9,44.5 L245.4,44.8 L246.9,45.2 L248.5,45.5 L250.0,45.9 L251.6,46.3 L253.1,46.7 L254.6,47.1 L256.2,47.5 L257.7,47.9 L259.2,48.4 L260.7,48.9 L262.2,49.3 L263.7,49.9 L265.2,50.4 L266.6,50.9 L268.1,51.5 L269.5,52.1 L271.0,52.7 L272.4,53.3 L273.8,53.9 L275.1,54.6 L276.5,55.2 L277.9,55.9 L279.2,56.6 L280.5,57.4 L281.8,58.1 L283.0,58.9 L284.3,59.7 L285.5,60.5 L286.7,61.3 L287.9,62.2 L289.0,63.0 L290.2,63.9 L291.3,64.8 L292.4,65.8 L293.4,66.7 L294.4,67.7 L295.4,68.7 L296.4,69.7 L297.3,70.7 L298.3,71.8 L299.2,72.9 L300.1,74.0 L300.9,75.1 L301.8,76.2 L302.6,77.3 L303.4,78.5 L304.1,79.7 L304.9,80.9 L305.6,82.1 L306.3,83.3 L307.0,84.5 L307.7,85.8 L308.4,87.0 L309.0,88.3 L309.6,89.6 L310.2,90.9 L310.8,92.2 L311.4,93.6 L312.0,94.9 L312.5,96.3 L313.0,97.6 L313.5,99.0 L314.0,100.4 L314.5,101.8 L315.0,103.2 L315.4,104.6 L315.9,106.0 L316.3,107.5 L316.7,108.9 L317.1,110.4 L317.5,111.8 L317.9,113.3 L318.3,114.7 L318.6,116.2 L319.0,117.7 L319.3,119.2 L319.7,120.7 L320.0,122.2 L320.3,123.7 L320.6,125.2 L320.9,126.7 L321.2,128.2 L321.5,129.7 L321.8,131.2 L322.0,132.8 L322.3,134.3 L322.6,135.8 L322.8,137.3 L323.1,138.9 L323.3,140.4 L323.6,141.9 L323.8,143.5 L324.1,145.0 L324.3,146.5 L324.6,148.0 L324.8,149.6 L325.0,151.1 L325.2,152.6 L325.5,154.1 L325.7,155.7 L325.9,157.2 L326.1,158.7 L326.3,160.2 L326.6,161.8 L326.8,163.3 L327.0,164.8 L327.2,166.3 L327.4,167.8 L327.6,169.4 L327.8,170.9 L328.0,172.4 L328.2,173.9 L328.4,175.4 L328.5,176.9 L328.7,178.5 L328.9,180.0 L329.1,181.5 L329.3,183.0 L329.5,184.5 L329.6,186.0 L329.8,187.5 L330.0,189.1 L330.1,190.6 L330.3,192.1 L330.5,193.6 L330.6,195.1 L330.8,196.6 L330.9,198.1 L331.1,199.6 L331.2,201.1 L331.4,202.6 L331.5,204.2 L331.7,205.7 L331.8,207.2 L332.0,208.7 L332.1,210.2 L332.3,211.7 L332.4,213.2 L332.5,214.7 L332.7,216.2 L332.8,217.7 L332.9,219.2 L333.0,220.7 L333.2,222.2 L333.3,223.7 L333.4,225.2 L333.5,226.7 L333.6,228.2 L333.8,229.7 L333.9,231.2 L334.0,232.7 L334.1,234.2 L334.2,235.7 L334.3,237.2 L334.4,238.7 L334.5,240.2 L334.6,241.7 L334.7,243.2 L334.8,244.7 L334.9,246.2 L335.0,247.7 L335.1,249.2 L335.2,250.7 L335.3,252.2 L335.4,253.7 L335.5,255.2 L335.5,256.7 L335.6,258.2 L335.7,259.7 L335.8,261.2 L335.9,262.7 L335.9,264.2 L336.0,265.7 L336.1,267.2 L336.2,268.7 L336.2,270.2 L336.3,271.7 L336.4,273.2 L336.5,274.7 L336.5,276.2 L336.6,277.7 L336.7,279.1 L336.7,280.6 L336.8,282.1 L336.8,283.6 L336.9,285.1 L337.0,286.6 L337.0,288.1 L337.1,289.6 L337.1,291.1 L337.2,292.6 L337.2,294.1 L337.3,295.6 L337.3,297.1 L337.4,298.6 L337.4,300.0 L337.5,301.5 L337.5,303.0 L337.6,304.5 L337.6,306.0 L337.7,307.5 L337.7,309.0 L337.8,310.5 L337.8,312.0 L337.8,313.5 L337.9,315.0 L337.9,316.5 L338.0,317.9 L338.0,319.4 L338.0,320.9 L338.1,322.4 L338.1,323.9 L338.1,325.4 L338.2,326.9 L338.2,328.4 L338.2,329.9 L338.3,331.4 L338.3,332.9 L338.3,334.4 L338.4,335.8 L338.4,337.3 L338.4,338.8 L338.4,340.3 L338.5,341.8 L338.5,343.3 L338.5,344.8 L338.6,346.3 L338.6,347.8 L338.6,349.3 L338.6,350.8 L338.7,352.3 L338.7,353.8 L338.7,355.2 L338.7,356.7 L338.7,358.2 L338.8,359.7 L338.8,361.2 L338.8,362.7 L338.8,364.2 L338.9,365.7 L338.9,367.2 L338.9,368.7 L338.9,370.2 L338.9,371.7 L338.9,373.2 L339.0,374.7 L339.0,376.2 L339.0,377.7 L339.0,379.1 L339.0,380.6 L339.1,382.1 L339.1,383.6 L339.1,385.1 L339.1,386.6 L339.1,388.1 L339.2,389.6 L339.2,391.1 L339.2,392.6 L339.2,394.1 L339.2,395.6 L339.2,397.1 L339.3,398.6 L339.3,400.1 L339.3,401.6 L339.3,403.1 L339.3,404.6 L339.4,406.1 L339.4,407.6 L339.4,409.1 L339.4,410.6 L339.4,412.1 L339.5,413.6 L339.5,415.1 L339.5,416.6 L339.5,418.1 L339.5,419.6 L339.6,421.1 L339.6,422.6 L339.6,424.1 L339.6,425.6 L339.6,427.1 L339.7,428.6 L339.7,430.1 L339.7,431.6 L339.7,433.1 L339.8,434.6 L339.8,436.2 L339.8,437.7 L339.8,439.2 L339.9,440.7 L339.9,442.2 L339.9,443.7 L340.0,445.2 L340.0,446.7 L340.0,448.2 L340.0,449.7 L340.1,451.2 L340.1,452.7 L340.1,454.3 L340.2,455.8 L340.2,457.3 L340.2,458.8 L340.3,460.3 L340.3,461.8 L340.3,463.3 L340.4,464.9 L340.4,466.4 L340.5,467.9 L340.5,469.4 L340.5,470.9 L340.6,472.4 L340.6,473.9 L340.7,475.5 L340.7,477.0 L340.8,478.5 L340.8,480.0 L340.9,481.5 L340.9,483.1 L341.0,484.6 L341.0,486.1 L341.1,487.6 L341.1,489.2 L341.2,490.7 L341.2,492.2 L341.3,493.7 L341.3,495.2 L341.4,496.8 L341.5,498.3 L341.5,499.8 L341.6,501.4 L341.6,502.9 L341.7,504.4 L341.8,505.9 L341.8,507.5 L341.9,509.0 L347.5,619.0 L347.6,617.5 L347.6,616.0 L347.7,614.5 L347.7,613.0 L347.8,611.5 L347.8,610.0 L347.9,608.5 L348.0,607.0 L348.0,605.6 L348.1,604.1 L348.1,602.6 L348.2,601.1 L348.2,599.6 L348.3,598.1 L348.3,596.6 L348.4,595.1 L348.4,593.6 L348.5,592.1 L348.5,590.6 L348.6,589.1 L348.6,587.6 L348.7,586.1 L348.7,584.6 L348.8,583.1 L348.8,581.6 L348.9,580.1 L348.9,578.6 L349.0,577.1 L349.0,575.6 L349.0,574.1 L349.1,572.6 L349.1,571.1 L349.2,569.6 L349.2,568.1 L349.3,566.6 L349.3,565.1 L349.3,563.6 L349.4,562.1 L349.4,560.6 L349.5,559.1 L349.5,557.6 L349.5,556.1 L349.6,554.6 L349.6,553.1 L349.7,551.6 L349.7,550.1 L349.7,548.6 L349.8,547.1 L349.8,545.6 L349.8,544.1 L349.9,542.6 L349.9,541.1 L349.9,539.6 L350.0,538.1 L350.0,536.6 L350.1,535.1 L350.1,533.6 L350.1,532.1 L350.2,530.6 L350.2,529.1 L350.2,527.6 L350.2,526.1 L350.3,524.6 L350.3,523.1 L350.3,521.6 L350.4,520.1 L350.4,518.6 L350.4,517.1 L350.5,515.6 L350.5,514.1 L350.5,512.6 L350.6,511.1 L350.6,509.6 L350.6,508.1 L350.6,506.6 L350.7,505.1 L350.7,503.6 L350.7,502.1 L350.8,500.6 L350.8,499.1 L350.8,497.6 L350.8,496.1 L350.9,494.5 L350.9,493.0 L350.9,491.5 L350.9,490.0 L351.0,488.5 L351.0,487.0 L351.0,485.5 L351.0,484.0 L351.1,482.5 L351.1,481.0 L351.1,479.5 L351.2,478.0 L351.2,476.5 L351.2,475.0 L351.2,473.5 L351.3,472.0 L351.3,470.5 L351.3,469.0 L351.3,467.5 L351.4,466.0 L351.4,464.5 L351.4,463.0 L351.4,461.5 L351.5,459.9 L351.5,458.4 L351.5,456.9 L351.5,455.4 L351.5,453.9 L351.6,452.4 L351.6,450.9 L351.6,449.4 L351.6,447.9 L351.7,446.4 L351.7,444.9 L351.7,443.4 L351.7,441.9 L351.8,440.4 L351.8,438.9 L351.8,437.4 L351.8,435.9 L351.9,434.4 L351.9,432.9 L351.9,431.4 L351.9,429.8 L352.0,428.3 L352.0,426.8 L352.0,425.3 L352.0,423.8 L352.1,422.3 L352.1,420.8 L352.1,419.3 L352.1,417.8 L352.2,416.3 L352.2,414.8 L352.2,413.3 L352.2,411.8 L352.3,410.3 L352.3,408.8 L352.3,407.3 L352.3,405.8 L352.4,404.3 L352.4,402.8 L352.4,401.2 L352.4,399.7 L352.5,398.2 L352.5,396.7 L352.5,395.2 L352.6,393.7 L352.6,392.2 L352.6,390.7 L352.6,389.2 L352.7,387.7 L352.7,386.2 L352.7,384.7 L352.8,383.2 L352.8,381.7 L352.8,380.2 L352.8,378.7 L352.9,377.2 L352.9,375.7 L352.9,374.2 L353.0,372.7 L353.0,371.2 L353.0,369.6 L353.1,368.1 L353.1,366.6 L353.1,365.1 L353.2,363.6 L353.2,362.1 L353.2,360.6 L353.3,359.1 L353.3,357.6 L353.3,356.1 L353.4,354.6 L353.4,353.1 L353.4,351.6 L353.5,350.1 L353.5,348.6 L353.5,347.1 L353.6,345.6 L353.6,344.1 L353.6,342.6 L353.7,341.1 L353.7,339.6 L353.8,338.1 L353.8,336.6 L353.8,335.1 L353.9,333.6 L353.9,332.1 L353.9,330.6 L354.0,329.0 L354.0,327.5 L354.1,326.0 L354.1,324.5 L354.2,323.0 L354.2,321.5 L354.2,320.0 L354.3,318.5 L354.3,317.0 L354.4,315.5 L354.4,314.0 L354.5,312.5 L354.5,311.0 L354.6,309.5 L354.6,308.0 L354.6,306.5 L354.7,305.0 L354.7,303.5 L354.8,302.0 L354.8,300.5 L354.9,299.0 L354.9,297.5 L355.0,296.0 L355.0,294.5 L355.1,293.0 L355.1,291.5 L355.2,290.0 L355.3,288.5 L355.3,287.0 L355.4,285.5 L355.4,284.0 L355.5,282.5 L355.5,281.0 L355.6,279.5 L355.6,278.0 L355.7,276.5 L355.8,275.0 L355.8,273.5 L355.9,272.0 L355.9,270.5 L356.0,269.0 L356.1,267.5 L356.1,266.0 L356.2,264.5 L356.3,263.0 L356.3,261.5 L356.4,260.0 L356.5,258.5 L356.5,257.0 L356.6,255.5 L356.7,254.0 L356.7,252.5 L356.8,251.1 L356.9,249.6 L356.9,248.1 L357.0,246.6 L357.1,245.1 L357.2,243.6 L357.2,242.1 L357.3,240.6 L357.4,239.1 L357.4,237.6 L357.5,236.1 L357.6,234.6 L357.7,233.1 L357.8,231.6 L357.8,230.1 L357.9,228.6 L358.0,227.1 L358.1,225.6 L358.2,224.1 L358.3,222.6 L358.3,221.2 L358.4,219.7 L358.5,218.2 L358.6,216.7 L358.7,215.2 L358.8,213.7 L358.9,212.2 L358.9,210.7 L359.0,209.2 L359.1,207.7 L359.2,206.2 L359.3,204.7 L359.4,203.2 L359.5,201.8 L359.6,200.3 L359.7,198.8 L359.8,197.3 L359.9,195.8 L360.0,194.3 L360.1,192.8 L360.2,191.3 L360.3,189.8 L360.4,188.3 L360.5,186.9 L360.6,185.4 L360.7,183.9 L360.8,182.4 L360.9,180.9 L361.0,179.4 L361.2,177.9 L361.3,176.4 L361.4,175.0 L361.5,173.5 L361.6,172.0 L361.7,170.5 L361.8,169.0 L362.0,167.5 L362.1,166.0 L362.2,164.5 L362.3,163.0 L362.5,161.6 L362.6,160.1 L362.7,158.6 L362.9,157.1 L363.0,155.6 L363.2,154.1 L363.3,152.6 L363.5,151.1 L363.6,149.6 L363.8,148.1 L363.9,146.6 L364.1,145.1 L364.3,143.6 L364.4,142.1 L364.6,140.6 L364.8,139.1 L365.0,137.6 L365.2,136.1 L365.4,134.5 L365.6,133.0 L365.8,131.5 L366.0,130.0 L366.2,128.5 L366.4,126.9 L366.7,125.4 L366.9,123.9 L367.2,122.3 L367.4,120.8 L367.7,119.3 L367.9,117.7 L368.2,116.2 L368.5,114.6 L368.8,113.1 L369.0,111.5 L369.3,110.0 L369.7,108.4 L370.0,106.9 L370.3,105.3 L370.7,103.8 L371.0,102.3 L371.4,100.7 L371.8,99.2 L372.2,97.7 L372.6,96.2 L373.1,94.7 L373.6,93.3 L374.0,91.8 L374.5,90.4 L375.1,88.9 L375.6,87.5 L376.2,86.1 L376.8,84.8 L377.4,83.4 L378.1,82.1 L378.8,80.8 L379.5,79.5 L380.2,78.2 L381.0,77.0 L381.8,75.8 L382.6,74.6 L383.4,73.4 L384.3,72.3 L385.2,71.2 L386.2,70.2 L387.2,69.1 L388.2,68.1 L389.2,67.2 L390.3,66.2 L391.3,65.3 L392.5,64.4 L393.6,63.5 L394.7,62.7 L395.9,61.9 L397.1,61.1 L398.3,60.4 L399.6,59.7 L400.8,59.0 L402.1,58.3 L403.4,57.7 L404.7,57.1 L406.0,56.5 L407.3,56.0 L408.7,55.5 L410.0,55.0 L411.4,54.6 L412.8,54.1 L414.2,53.7 L415.6,53.4 L417.0,53.1 L418.5,52.8 L419.9,52.5 L421.3,52.2 L422.8,52.0 L424.2,51.8 L425.7,51.7 L427.1,51.6 L428.6,51.5 L430.1,51.4 L431.5,51.4 L433.0,51.4 L434.5,51.4 L435.9,51.5 L437.4,51.5 L438.9,51.6 L440.3,51.8 L441.8,51.9 L443.3,52.1 L444.8,52.3 L446.2,52.5 L447.7,52.7 L449.2,53.0 L450.7,53.3 L452.2,53.6 L453.6,53.9 L455.1,54.2 L456.6,54.6 L458.1,55.0 L459.5,55.4 L461.0,55.8 L462.5,56.2 L464.0,56.6 L465.5,57.0 L466.9,57.5 L468.4,57.9 L469.9,58.4 L471.4,58.9 L472.8,59.4 L474.3,59.9 L475.8,60.4 L477.2,60.9 L478.7,61.4 L480.1,62.0 L481.6,62.5 L483.1,63.0 L484.5,63.6 L486.0,64.1 L487.4,64.7 L488.9,65.2 L490.3,65.8 L491.7,66.3 L493.2,66.9 L494.6,67.4 L496.1,68.0 L497.5,68.5 L498.9,69.1 L500.3,69.7 L501.8,70.2 L503.2,70.8 L504.6,71.4 L506.0,72.0 L507.4,72.5 L508.8,73.1 L510.2,73.7 L511.6,74.3 L513.0,74.9 L514.4,75.5 L515.8,76.1 L517.2,76.7 L518.6,77.3 L520.0,77.9 L521.4,78.5 L522.7,79.1 L524.1,79.8 L525.5,80.4 L526.8,81.0 L528.2,81.6 L529.6,82.3 L530.9,82.9 L532.3,83.6 L533.6,84.2 L535.0,84.9 L536.3,85.5 L537.7,86.2 L539.0,86.8 L540.4,87.5 L541.7,88.2 L543.0,88.9 L544.3,89.5 L545.7,90.2 L547.0,90.9 L548.3,91.6 L549.6,92.3 L550.9,93.0 L552.2,93.7 L553.5,94.4 L554.8,95.2 L556.1,95.9 L557.4,96.6 L558.7,97.4 L560.0,98.1 L561.3,98.8 L562.5,99.6 L563.8,100.3 L565.1,101.1 L566.3,101.9 L567.6,102.6 L568.9,103.4 L570.1,104.2 L571.4,105.0 L572.6,105.8 L573.9,106.6 L575.1,107.4 L576.3,108.2 L577.6,109.0 L578.8,109.9 L580.0,110.7 L581.2,111.5 L582.4,112.4 L583.7,113.2 L584.9,114.1 L586.1,114.9 L587.3,115.8 L588.5,116.7 L589.7,117.6 L590.8,118.5 L592.0,119.4 L593.2,120.3 L594.4,121.2 L595.6,122.1 L596.7,123.0 L597.9,124.0 L599.0,124.9 L600.2,125.8 L601.3,126.8 L602.5,127.7 L603.6,128.7 L604.8,129.7 L605.9,130.7 L607.0,131.7 L608.2,132.7 L609.3,133.7 L610.4,134.7 L611.5,135.7 L612.6,136.7 L613.7,137.7 L614.8,138.8 L615.9,139.8 L617.0,140.9 L618.1,141.9 L619.2,143.0 L620.3,144.0 L621.4,145.1 L622.4,146.2 L623.5,147.2 L624.6,148.3 L625.7,149.4 L626.8,150.5 L627.8,151.6 L628.9,152.6 L630.0,153.7 L631.1,154.8 L632.2,155.9 L633.2,157.0 L634.3,158.0 L635.4,159.1 L636.5,160.2 L637.5,161.3 L638.6,162.4 L639.7,163.4 L640.8,164.5 L641.9,165.6 L643.0,166.6 L644.0,167.7 L645.1,168.8 L646.2,169.8 L647.3,170.9 L648.4,171.9 L649.5,172.9 L650.6,174.0 L651.7,175.0 L652.9,176.0 L654.0,177.0 L655.1,178.0 L656.2,179.0 L657.3,180.0 L658.5,181.0 L659.6,182.0 L660.8,182.9 L661.9,183.9 L663.1,184.8 L664.2,185.8 L665.4,186.7 L666.6,187.6 L667.8,188.5 L669.0,189.4 L670.2,190.3 L671.4,191.2 L672.6,192.0 L673.8,192.9 L675.0,193.7 L676.2,194.5 L677.4,195.4 L678.7,196.2 L679.9,197.0 L681.2,197.8 L682.4,198.6 L683.7,199.4 L684.9,200.2 L686.2,200.9 L687.4,201.7 L688.7,202.5 L690.0,203.2 L691.3,204.0 L692.5,204.7 L693.8,205.4 L695.1,206.2 L696.4,206.9 L697.7,207.6 L699.0,208.4 L700.3,209.1 L701.6,209.8 L702.9,210.5 L704.2,211.2 L705.5,211.9 L706.8,212.6 L708.2,213.3 L709.5,214.0 L710.8,214.7 L712.1,215.4 L713.4,216.1 L714.8,216.8 L716.1,217.5 L717.4,218.2 L718.8,218.9 L720.1,219.6 L721.4,220.3 L722.7,221.0 L724.1,221.7 L725.4,222.4 L726.7,223.2 L728.1,223.9 L729.4,224.6 L730.7,225.3 L732.1,226.0 L733.4,226.7 L734.8,227.4 L736.1,228.1 L737.4,228.8 L738.8,229.6 L740.1,230.3 L741.5,231.0 L742.8,231.7 L744.1,232.4 L745.5,233.1 L746.8,233.8 L748.2,234.5 L749.5,235.2 L750.9,236.0 L752.2,236.7 L753.6,237.4 L754.9,238.1 L756.3,238.8 L757.6,239.5 L759.0,240.2 L760.3,240.9 L761.7,241.6 L763.0,242.3 L764.4,242.9 L765.7,243.6 L767.1,244.3 L768.5,245.0 L769.8,245.7 L771.2,246.3 L772.5,247.0 L773.9,247.7 L775.3,248.3 L776.6,249.0 L778.0,249.7 L779.4,250.3 L780.7,251.0 L782.1,251.6 L783.5,252.3 L784.8,252.9 L786.2,253.5 L787.6,254.1 L789.0,254.8 L790.3,255.4 L791.7,256.0 L793.1,256.6 L794.5,257.2 L795.9,257.8 L797.3,258.4 L798.6,259.0 L800.0,259.5 L801.4,260.1 L802.8,260.7 L804.2,261.2 L805.6,261.8 L807.0,262.3 L808.4,262.9 L809.8,263.4 L811.1,263.9 L812.5,264.4 L813.9,264.9 L815.3,265.4 L816.7,265.9 L818.2,266.4 L819.6,266.9 L821.0,267.4 L822.4,267.8 L823.8,268.3 L825.2,268.8 L826.6,269.2 L828.0,269.7 L829.4,270.1 L830.8,270.5 L832.2,271.0 L833.7,271.4 L835.1,271.8 L836.5,272.2 L837.9,272.7 L839.3,273.1 L840.8,273.5 L842.2,273.9 L843.6,274.3 L845.0,274.7 L846.5,275.1 L847.9,275.5 L849.3,275.9 L850.7,276.3 L852.2,276.6 L853.6,277.0 L855.0,277.4 L856.4,277.8 L857.9,278.2 L859.3,278.6 L860.7,278.9 L862.2,279.3 L863.6,279.7 L865.0,280.1 L866.5,280.5 L867.9,280.9 L869.4,281.2 L870.8,281.6 L872.2,282.0 L873.7,282.4 L875.1,282.8 L876.5,283.2 L878.0,283.5 L879.4,283.9 L880.9,284.3 L882.3,284.7 L883.7,285.1 L885.2,285.5 L886.6,285.9 L888.1,286.3 L889.5,286.7 L891.0,287.2 L892.4,287.6 L893.8,288.0 L895.3,288.4 L896.7,288.9 L898.2,289.3 L899.6,289.7 L901.1,290.2 L902.5,290.6 L903.9,291.1 L905.4,291.5 L906.8,292.0 L908.3,292.5 L909.7,292.9 L911.2,293.4 L912.6,293.9 L914.0,294.4 L915.5,294.9 L916.9,295.4 L918.4,295.9 L919.8,296.4 L921.2,296.9 L922.7,297.5 L924.1,298.0 L925.5,298.5 L926.9,299.1 L928.4,299.6 L929.8,300.2 L931.2,300.7 L932.6,301.3 L934.1,301.8 L935.5,302.4 L936.9,303.0 L938.3,303.6 L939.7,304.2 L941.1,304.8 L942.5,305.4 L943.9,306.0 L945.3,306.6 L946.7,307.2 L948.1,307.9 L949.5,308.5 L950.9,309.1 L952.3,309.8 L953.6,310.4 L955.0,311.1 L956.4,311.8 L957.7,312.4 L959.1,313.1 L960.5,313.8 L961.8,314.5 L963.2,315.2 L964.5,315.9 L965.9,316.6 L967.2,317.3 L968.5,318.0 L969.9,318.8 L971.2,319.5 L972.5,320.3 L973.8,321.0 L975.1,321.8 L976.4,322.5 L977.7,323.3 L979.0,324.1 L980.3,324.9 L981.6,325.7 L982.8,326.5 L984.1,327.3 L985.4,328.1 L986.6,328.9 L987.9,329.7 L989.1,330.6 L990.4,331.4 L991.6,332.3 L992.8,333.1 L994.0,334.0 L995.2,334.9 L996.5,335.7 L997.7,336.6 L998.8,337.5 L1000.0,338.4 L1001.2,339.3 L1002.4,340.2 L1003.5,341.2 L1004.7,342.1 L1005.8,343.0 L1007.0,344.0 L1008.1,344.9 L1009.2,345.9 L1010.3,346.9 L1011.4,347.9 L1012.5,348.8 L1013.6,349.8 L1014.7,350.8 L1015.8,351.9 L1016.9,352.9 L1017.9,353.9 L1019.0,354.9 L1020.0,356.0 L1021.0,357.0 L1022.0,358.1 L1023.0,359.2 L1024.1,360.2 L1025.0,361.3 L1026.0,362.4 L1027.0,363.5 L1028.0,364.6 L1028.9,365.7 L1029.9,366.9 L1030.8,368.0 L1031.7,369.1 L1032.7,370.3 L1033.6,371.4 L1034.5,372.6 L1035.4,373.8 L1036.3,374.9 L1037.1,376.1 L1038.0,377.3 L1038.9,378.5 L1039.7,379.7 L1040.6,380.9 L1041.4,382.1 L1042.2,383.4 L1043.0,384.6 L1043.9,385.8 L1044.7,387.1 L1045.5,388.3 L1046.3,389.6 L1047.0,390.8 L1047.8,392.1 L1048.6,393.4 L1049.3,394.6 L1050.1,395.9 L1050.8,397.2 L1051.6,398.5 L1052.3,399.8 L1053.0,401.1 L1053.7,402.4 L1054.4,403.7 L1055.1,405.1 L1055.8,406.4 L1056.5,407.7 L1057.2,409.0 L1057.8,410.4 L1058.5,411.7 L1059.2,413.1 L1059.8,414.4 L1060.5,415.8 L1061.1,417.1 L1061.7,418.5 L1062.3,419.9 L1063.0,421.3 L1063.6,422.6 L1064.2,424.0 L1064.8,425.4 L1065.4,426.8 L1066.0,428.2 L1066.5,429.6 L1067.1,431.0 L1067.7,432.4 L1068.2,433.8 L1068.8,435.2 L1069.3,436.6 L1069.9,438.1 L1070.4,439.5 L1070.9,440.9 L1071.5,442.3 L1072.0,443.7 L1072.5,445.2 L1073.0,446.6 L1073.5,448.1 L1074.0,449.5 L1074.5,450.9 L1075.0,452.4 L1075.5,453.8 L1075.9,455.3 L1076.4,456.7 L1076.9,458.2 L1077.3,459.6 L1077.8,461.1 L1078.2,462.5 L1078.7,464.0 L1079.1,465.5 L1079.5,466.9 L1080.0,468.4 L1080.4,469.8 L1080.8,471.3 L1081.2,472.8 L1081.6,474.2 L1082.0,475.7 L1082.4,477.2 L1082.8,478.7 L1083.2,480.1 L1083.6,481.6 L1084.0,483.1 L1084.4,484.5 L1084.8,486.0 L1085.1,487.5 L1085.5,489.0 L1085.9,490.4 L1086.2,491.9 L1086.6,493.4 L1086.9,494.9 L1087.3,496.3 L1087.6,497.8 L1088.0,499.3 L1088.3,500.7 L1088.6,502.2 L1089.0,503.7 L1089.3,505.2 L1089.6,506.6 L1089.9,508.1 L1090.2,509.6 L1090.6,511.1 L1090.9,512.6 L1091.2,514.0 L1091.5,515.5 L1091.8,517.0 L1092.0,518.5 L1092.3,519.9 L1092.6,521.4 L1092.9,522.9 L1093.2,524.4 L1093.4,525.8 L1093.7,527.3 L1094.0,528.8 L1094.2,530.3 L1094.5,531.8 L1094.8,533.2 L1095.0,534.7 L1095.3,536.2 L1095.5,537.7 L1095.8,539.2 L1096.0,540.6 L1096.2,542.1 L1096.5,543.6 L1096.7,545.1 L1096.9,546.6 L1097.2,548.0 L1097.4,549.5 L1097.6,551.0 L1097.8,552.5 L1098.0,554.0 L1098.2,555.5 L1098.4,556.9 L1098.6,558.4 L1098.8,559.9 L1099.0,561.4 L1099.2,562.9 L1099.4,564.4 L1099.6,565.8 L1099.8,567.3 L1100.0,568.8 L1100.2,570.3 L1100.3,571.8 L1100.5,573.3 L1100.7,574.7 L1100.9,576.2 L1101.0,577.7 L1101.2,579.2 L1101.3,580.7 L1101.5,582.2 L1101.7,583.7 L1101.8,585.1 L1102.0,586.6 L1102.1,588.1 L1102.3,589.6 L1102.4,591.1 L1102.5,592.6 L1102.7,594.1 L1102.8,595.6 L1103.0,597.0 L1103.1,598.5 L1103.2,600.0 L1103.3,601.5 L1103.5,603.0 L1103.6,604.5 L1103.7,606.0 L1103.8,607.5 L1104.0,608.9 L1104.1,610.4 L1104.2,611.9 L1104.3,613.4 L1104.4,614.9 L1104.5,616.4 L1104.6,617.9 L1104.7,619.4 L1104.8,620.9 L1104.9,622.4 L1105.0,623.8 L1105.1,625.3 L1105.2,626.8 L1105.3,628.3 L1105.4,629.8 L1105.5,631.3 L1105.5,632.8 L1105.6,634.3 L1105.7,635.8 L1105.8,637.3 L1105.9,638.8 L1106.0,640.3 L1106.0,641.7 L1106.1,643.2 L1106.2,644.7 L1106.2,646.2 L1106.3,647.7 L1106.4,649.2 L1106.4,650.7 L1106.5,652.2 L1106.6,653.7 L1106.6,655.2 L1106.7,656.7 L1106.8,658.2 L1106.8,659.7 L1106.9,661.2 L1106.9,662.7 L1107.0,664.1 L1107.0,665.6 L1107.1,667.1 L1107.1,668.6 L1107.2,670.1 L1107.2,671.6 L1107.3,673.1 L1107.3,674.6 L1107.4,676.1 L1107.4,677.6 L1107.5,679.1 L1107.5,680.6 L1107.5,682.1 L1107.6,683.6 L1107.6,685.1 L1107.7,686.6 L1107.7,688.1 L1107.7,689.6 L1107.8,691.1 L1107.8,692.6 L1107.8,694.1 L1107.9,695.6 L1107.9,697.1 L1107.9,698.6 L1108.0,700.1 L1108.0,701.6 L1108.0,703.0 L1108.1,704.5 L1108.1,706.0 L1108.1,707.5 L1108.2,709.0 L1108.2,710.5 L1108.2,712.0 L1108.2,713.5 L1108.3,715.0 L1108.3,716.5 L1108.3,718.0 L1108.3,719.5 L1108.4,721.0 L1108.4,722.5 L1108.4,724.0 L1108.4,725.5 L1108.5,727.0 L1108.5,728.5 L1108.5,730.0 L1108.5,731.5 L1108.5,733.0 L1108.6,734.5 L1108.6,736.0 L1108.6,737.5 L1108.6,739.0 L1108.7,740.5 L1108.7,742.0 L1108.7,743.5 L1108.7,745.0 L1108.7,746.5 L1108.8,748.0 L1108.8,749.5 L1108.8,751.0 L1108.8,752.5 L1108.9,754.0 L1108.9,755.5 L1108.9,757.0 L1108.9,758.5 L1108.9,760.0 L1109.0,761.5 L1109.0,763.0 L1109.0,764.5 L1109.0,766.0 L1109.1,767.6 L1109.1,769.1 L1109.1,770.6 L1109.1,772.1 L1109.2,773.6 L1109.2,775.1 L1109.2,776.6 L1109.3,778.1 L1109.3,779.6 L1109.3,781.1 L1109.4,782.6 L1109.4,784.1 L1109.4,785.6 L1109.4,787.1 L1109.5,788.6 L1109.5,790.1 L1109.6,791.6 L1109.6,793.1 L1109.6,794.6 L1109.7,796.1 L1109.7,797.6 L1109.7,799.1 L1109.8,800.6 L1109.8,802.1 L1109.9,803.6 L1109.9,805.1 L1110.0,806.6 L1110.0,808.1 L1110.0,809.6 L1110.1,811.1 L1110.1,812.6 L1110.2,814.1 L1110.2,815.7 L1110.3,817.2 L1110.3,818.7 L1110.4,820.2 L1110.5,821.7 L1110.5,823.2 L1110.6,824.7 L1110.6,826.2 L1110.7,827.7 L1110.8,829.2 L1110.8,830.7 L1110.9,832.2 L1110.9,833.7 L1111.0,835.2 L1111.1,836.7 L1111.2,838.2 L1111.2,839.7 L1111.3,841.2 L1111.4,842.7 L1111.5,844.2 L1111.5,845.7 L1111.6,847.3 L1111.7,848.8 L1111.8,850.3 L1111.9,851.8 L1112.0,853.3 L1112.0,854.8 L1112.1,856.3 L1112.2,857.8 L1112.3,859.3 L1112.4,860.8 L1112.5,862.3 L1112.6,863.8 L1112.7,865.3 L1112.8,866.8 L1112.9,868.3 L1113.0,869.8 L1113.2,871.3 L1113.3,872.8 L1113.4,874.4 L1113.5,875.9 L1113.6,877.4 L1113.7,878.9 L1113.9,880.4 L1114.0,881.9 L1114.1,883.4 L1114.2,884.9 L1114.4,886.4 L1114.5,887.9 L1114.6,889.4 L1114.8,890.9 L1114.9,892.4 L1115.1,893.9 L1115.2,895.4 L1115.4,896.9 L1115.5,898.4 L1115.7,900.0 L1115.8,901.5 L1116.0,903.0 L1116.2,904.5 L1116.3,906.0 L1116.5,907.5 L1116.7,909.0 L1116.8,910.5 L1117.0,912.0 L1117.0,910.5 L1117.1,909.0 L1117.1,907.5 L1117.1,906.0 L1117.2,904.5 L1117.2,903.0 L1117.3,901.5 L1117.3,900.0 L1117.3,898.5 L1117.4,897.0 L1117.4,895.5 L1117.4,893.9 L1117.5,892.4 L1117.5,890.9 L1117.6,889.4 L1117.6,887.9 L1117.6,886.4 L1117.7,884.9 L1117.7,883.4 L1117.8,881.9 L1117.8,880.4 L1117.8,878.9 L1117.9,877.4 L1117.9,875.9 L1118.0,874.4 L1118.0,872.9 L1118.0,871.4 L1118.1,869.9 L1118.1,868.4 L1118.2,866.9 L1118.2,865.4 L1118.2,863.9 L1118.3,862.4 L1118.3,860.9 L1118.4,859.4 L1118.4,857.9 L1118.5,856.4 L1118.5,854.8 L1118.5,853.3 L1118.6,851.8 L1118.6,850.3 L1118.7,848.8 L1118.7,847.3 L1118.8,845.8 L1118.8,844.3 L1118.9,842.8 L1118.9,841.3 L1119.0,839.8 L1119.0,838.3 L1119.0,836.8 L1119.1,835.3 L1119.1,833.8 L1119.2,832.3 L1119.2,830.8 L1119.3,829.3 L1119.3,827.8 L1119.4,826.3 L1119.4,824.8 L1119.5,823.3 L1119.5,821.8 L1119.6,820.3 L1119.6,818.8 L1119.7,817.3 L1119.7,815.8 L1119.8,814.3 L1119.8,812.8 L1119.9,811.3 L1119.9,809.8 L1120.0,808.3 L1120.0,806.8 L1120.1,805.3 L1120.1,803.7 L1120.2,802.2 L1120.3,800.7 L1120.3,799.2 L1120.4,797.7 L1120.4,796.2 L1120.5,794.7 L1120.5,793.2 L1120.6,791.7 L1120.6,790.2 L1120.7,788.7 L1120.7,787.2 L1120.8,785.7 L1120.9,784.2 L1120.9,782.7 L1121.0,781.2 L1121.0,779.7 L1121.1,778.2 L1121.2,776.7 L1121.2,775.2 L1121.3,773.7 L1121.3,772.2 L1121.4,770.7 L1121.4,769.2 L1121.5,767.7 L1121.6,766.2 L1121.6,764.7 L1121.7,763.2 L1121.8,761.7 L1121.8,760.2 L1121.9,758.7 L1121.9,757.2 L1122.0,755.7 L1122.1,754.2 L1122.1,752.7 L1122.2,751.2 L1122.3,749.7 L1122.3,748.2 L1122.4,746.7 L1122.5,745.2 L1122.5,743.7 L1122.6,742.2 L1122.7,740.7 L1122.7,739.2 L1122.8,737.7 L1122.9,736.2 L1122.9,734.7 L1123.0,733.2 L1123.1,731.7 L1123.1,730.2 L1123.2,728.7 L1123.3,727.2 L1123.3,725.7 L1123.4,724.2 L1123.5,722.7 L1123.6,721.2 L1123.6,719.7 L1123.7,718.2 L1123.8,716.7 L1123.8,715.2 L1123.9,713.7 L1124.0,712.2 L1124.1,710.7 L1124.1,709.2 L1124.2,707.7 L1124.3,706.2 L1124.4,704.7 L1124.4,703.2 L1124.5,701.6 L1124.6,700.1 L1124.7,698.6 L1124.7,697.1 L1124.8,695.6 L1124.9,694.1 L1125.0,692.6 L1125.1,691.1 L1125.1,689.6 L1125.2,688.1 L1125.3,686.6 L1125.4,685.1 L1125.5,683.6 L1125.5,682.1 L1125.6,680.6 L1125.7,679.1 L1125.8,677.6 L1125.9,676.1 L1125.9,674.6 L1126.0,673.1 L1126.1,671.6 L1126.2,670.1 L1126.3,668.6 L1126.4,667.1 L1126.5,665.6 L1126.5,664.1 L1126.6,662.6 L1126.7,661.1 L1126.8,659.6 L1126.9,658.1 L1127.0,656.6 L1127.1,655.1 L1127.2,653.6 L1127.2,652.1 L1127.3,650.6 L1127.4,649.1 L1127.5,647.6 L1127.6,646.1 L1127.7,644.6 L1127.8,643.1 L1127.9,641.6 L1128.0,640.1 L1128.1,638.6 L1128.2,637.1 L1128.3,635.6 L1128.4,634.1 L1128.5,632.6 L1128.5,631.1 L1128.6,629.6 L1128.7,628.1 L1128.8,626.7 L1128.9,625.2 L1129.0,623.7 L1129.1,622.2 L1129.2,620.7 L1129.3,619.2 L1129.4,617.7 L1129.5,616.2 L1129.6,614.7 L1129.7,613.2 L1129.8,611.7 L1129.9,610.2 L1130.0,608.7 L1130.1,607.2 L1130.2,605.7 L1130.3,604.2 L1130.5,602.7 L1130.6,601.2 L1130.7,599.7 L1130.8,598.2 L1130.9,596.7 L1131.0,595.2 L1131.1,593.7 L1131.2,592.2 L1131.3,590.7 L1131.4,589.2 L1131.5,587.7 L1131.6,586.2 L1131.7,584.7 L1131.9,583.2 L1132.0,581.7 L1132.1,580.2 L1132.2,578.7 L1132.3,577.2 L1132.4,575.7 L1132.5,574.2 L1132.6,572.7 L1132.8,571.2 L1132.9,569.7 L1133.0,568.2 L1133.1,566.7 L1133.2,565.2 L1133.3,563.7 L1133.5,562.2 L1133.6,560.7 L1133.7,559.2 L1133.8,557.7 L1133.9,556.2 L1134.1,554.7 L1134.2,553.2 L1134.3,551.7 L1134.4,550.2 L1134.5,548.7 L1134.7,547.2 L1134.8,545.7 L1134.9,544.2 L1135.0,542.7 L1135.2,541.2 L1135.3,539.7 L1135.4,538.2 L1135.6,536.7 L1135.7,535.2 L1135.8,533.7 L1135.9,532.2 L1136.1,530.7 L1136.2,529.2 L1136.3,527.7 L1136.5,526.2 L1136.6,524.7 L1136.7,523.2 L1136.9,521.7 L1137.0,520.2 L1137.2,518.7 L1137.3,517.2 L1137.4,515.7 L1137.6,514.2 L1137.7,512.7 L1137.9,511.2 L1138.0,509.7 L1138.2,508.2 L1138.3,506.7 L1138.5,505.2 L1138.7,503.7 L1138.8,502.2 L1139.0,500.7 L1139.1,499.2 L1139.3,497.6 L1139.5,496.1 L1139.6,494.6 L1139.8,493.1 L1140.0,491.6 L1140.2,490.1 L1140.3,488.6 L1140.5,487.1 L1140.7,485.5 L1140.9,484.0 L1141.1,482.5 L1141.3,481.0 L1141.5,479.5 L1141.7,478.0 L1141.9,476.5 L1142.1,474.9 L1142.4,473.4 L1142.6,471.9 L1142.8,470.4 L1143.1,468.9 L1143.4,467.4 L1143.7,466.0 L1144.0,464.5 L1144.3,463.0 L1144.6,461.5 L1145.0,460.1 L1145.3,458.6 L1145.7,457.2 L1146.1,455.8 L1146.6,454.4 L1147.0,452.9 L1147.5,451.5 L1148.0,450.2 L1148.5,448.8 L1149.0,447.4 L1149.6,446.1 L1150.2,444.7 L1150.8,443.4 L1151.4,442.1 L1152.0,440.8 L1152.7,439.5 L1153.4,438.2 L1154.1,436.9 L1154.8,435.6 L1155.6,434.4 L1156.4,433.2 L1157.2,431.9 L1158.0,430.7 L1158.8,429.5 L1159.7,428.3 L1160.5,427.1 L1161.4,426.0 L1162.3,424.8 L1163.2,423.7 L1164.2,422.5 L1165.1,421.4 L1166.1,420.2 L1167.0,419.1 L1168.0,418.0 L1169.0,416.8 L1169.9,415.7 L1170.9,414.6 L1171.9,413.4 L1172.9,412.3 L1173.9,411.2 L1174.8,410.1 L1175.8,408.9 L1176.8,407.8 L1177.8,406.6 L1178.7,405.5 L1179.7,404.3 L1180.7,403.2 L1181.6,402.0 L1182.6,400.9 L1183.6,399.7 L1184.5,398.5 L1185.5,397.4 L1186.4,396.2 L1187.4,395.0 L1188.3,393.8 L1189.2,392.7 L1190.2,391.5 L1191.1,390.3 L1192.0,389.1 L1193.0,387.9 L1193.9,386.7 L1194.8,385.5 L1195.7,384.3 L1196.6,383.1 L1197.5,381.9 L1198.5,380.7 L1199.4,379.5 L1200.3,378.3 L1201.2,377.1 L1202.0,375.8 L1202.9,374.6 L1203.8,373.4 L1204.7,372.2 L1205.6,371.0 L1206.5,369.7 L1207.3,368.5 L1208.2,367.3 L1209.1,366.0 L1210.0,364.8 L1210.8,363.5 L1211.7,362.3 L1212.5,361.1 L1213.4,359.8 L1214.2,358.6 L1215.1,357.3 L1215.9,356.1 L1216.7,354.8 L1217.6,353.6 L1218.4,352.3 L1219.2,351.0 L1220.1,349.8 L1220.9,348.5 L1221.7,347.3 L1222.5,346.0 L1223.3,344.7 L1224.1,343.5 L1224.9,342.2 L1225.7,340.9 L1226.5,339.7 L1227.3,338.4 L1228.1,337.1 L1228.9,335.8 L1229.7,334.6 L1230.5,333.3 L1231.2,332.0 L1232.0,330.7 L1232.8,329.4 L1233.6,328.1 L1234.3,326.9 L1235.1,325.6 L1235.9,324.3 L1236.6,323.0 L1237.4,321.7 L1238.2,320.4 L1238.9,319.1 L1239.7,317.8 L1240.4,316.6 L1241.2,315.3 L1241.9,314.0 L1242.7,312.7 L1243.4,311.4 L1244.2,310.1 L1244.9,308.8 L1245.6,307.5 L1246.4,306.2 L1247.1,304.9 L1247.9,303.6 L1248.6,302.3 L1249.3,301.0 L1250.1,299.7 L1250.8,298.4 L1251.5,297.1 L1252.3,295.8 L1253.0,294.5 L1253.7,293.2 L1254.4,291.9 L1255.2,290.6 L1255.9,289.2 L1256.6,287.9 L1257.3,286.6 L1258.1,285.3 L1258.8,284.0 L1259.5,282.7 L1260.2,281.4 L1261.0,280.1 L1261.7,278.8 L1262.4,277.5 L1263.1,276.2 L1263.8,274.9 L1264.6,273.6 L1265.3,272.2 L1266.0,270.9 L1266.7,269.6 L1267.5,268.3 L1268.2,267.0 L1268.9,265.7 L1269.6,264.4 L1270.3,263.1 L1271.1,261.8 L1271.8,260.5 L1272.5,259.2 L1273.3,257.9 L1274.0,256.5 L1274.7,255.2 L1275.4,253.9 L1276.2,252.6 L1276.9,251.3 L1277.6,250.0 L1278.4,248.7 L1279.1,247.4 L1279.8,246.1 L1280.6,244.8 L1281.3,243.5 L1282.1,242.2 L1282.8,240.9 L1283.5,239.6 L1284.3,238.3 L1285.0,237.0 L1285.8,235.7 L1286.5,234.4 L1287.3,233.1 L1288.0,231.8 L1288.8,230.5 L1289.6,229.2 L1290.3,227.9 L1291.1,226.6 L1291.8,225.3 L1292.6,224.0 L1293.4,222.7 L1294.2,221.4 L1294.9,220.1 L1295.7,218.8 L1296.5,217.6 L1297.3,216.3 L1298.1,215.0 L1298.8,213.7 L1299.6,212.4 L1300.4,211.1 L1301.2,209.9 L1302.0,208.6 L1302.8,207.3 L1303.6,206.0 L1304.4,204.7 L1305.3,203.5 L1306.1,202.2 L1306.9,200.9 L1307.7,199.6 L1308.5,198.4 L1309.4,197.1 L1310.2,195.8 L1311.0,194.6 L1311.9,193.3 L1312.7,192.0 L1313.6,190.8 L1314.4,189.5 L1315.3,188.3 L1316.2,187.0 L1317.0,185.8 L1317.9,184.5 L1318.8,183.3 L1319.6,182.0 L1320.5,180.8 L1321.4,179.5 L1322.3,178.3 L1323.2,177.1 L1324.1,175.8 L1325.0,174.6 L1325.9,173.4 L1326.9,172.2 L1327.8,171.0 L1328.7,169.8 L1329.7,168.6 L1330.6,167.5 L1331.6,166.3 L1332.5,165.1 L1333.5,164.0 L1334.5,162.8 L1335.5,161.7 L1336.5,160.6 L1337.5,159.5 L1338.5,158.3 L1339.5,157.3 L1340.5,156.2 L1341.6,155.1 L1342.6,154.0 L1343.7,153.0 L1344.7,152.0 L1345.8,151.0 L1346.9,149.9 L1348.0,149.0 L1349.1,148.0 L1350.2,147.0 L1351.3,146.1 L1352.5,145.1 L1353.6,144.2 L1354.8,143.3 L1355.9,142.4 L1357.1,141.6 L1358.3,140.7 L1359.5,139.9 L1360.7,139.1 L1361.9,138.3 L1363.1,137.5 L1364.4,136.7 L1365.7,136.0 L1366.9,135.3 L1368.2,134.6 L1369.5,133.9 L1370.8,133.2 L1372.1,132.6 L1373.5,132.0 L1374.8,131.4 L1376.2,130.8 L1377.6,130.3 L1379.0,129.7 L1380.4,129.2 L1381.8,128.8 L1383.2,128.3 L1384.7,127.9 L1386.1,127.5 L1387.6,127.1 L1389.1,126.7 L1390.6,126.4 L1392.1,126.1 L1393.7,125.8 L1395.2,125.6 L1396.8,125.4 L1398.4,125.2 L1400.0,125.0" stroke="#000000" stroke-width="9"/>
<path d="M214.0,41.0 L215.3,41.1 L216.7,41.2 L218.1,41.3 L219.5,41.4 L220.9,41.5 L222.3,41.7 L223.8,41.8 L225.2,42.0 L226.7,42.1 L228.2,42.3 L229.7,42.5 L231.2,42.7 L232.7,42.9 L234.2,43.1 L235.7,43.4 L237.3,43.6 L238.8,43.9 L240.4,44.1 L241.9,44.4 L243.5,44.7 L245.0,45.0 L246.6,45.4 L248.1,45.7 L249.7,46.1 L251.2,46.4 L252.7,46.8 L254.3,47.2 L255.8,47.7 L257.4,48.1 L258.9,48.5 L260.4,49.0 L261.9,49.5 L263.4,50.0 L264.9,50.5 L266.4,51.0 L267.9,51.6 L269.3,52.2 L270.8,52.7 L272.2,53.4 L273.6,54.0 L275.0,54.6 L276.4,55.3 L277.8,56.0 L279.1,56.7 L280.4,57.4 L281.7,58.1 L283.0,58.9 L284.3,59.7 L285.5,60.5 L286.8,61.3 L287.9,62.1 L289.1,63.0 L290.3,63.9 L291.4,64.8 L292.5,65.7 L293.5,66.7 L294.6,67.6 L295.6,68.6 L296.6,69.6 L297.5,70.7 L298.4,71.7 L299.4,72.8 L300.3,73.9 L301.1,75.0 L302.0,76.1 L302.8,77.2 L303.6,78.4 L304.4,79.6 L305.1,80.8 L305.9,82.0 L306.6,83.2 L307.3,84.4 L307.9,85.7 L308.6,86.9 L309.2,88.2 L309.9,89.5 L310.5,90.8 L311.1,92.1 L311.6,93.5 L312.2,94.8 L312.7,96.2 L313.2,97.5 L313.7,98.9 L314.2,100.3 L314.7,101.7 L315.2,103.1 L315.6,104.5 L316.1,105.9 L316.5,107.4 L316.9,108.8 L317.3,110.3 L317.7,111.7 L318.1,113.2 L318.4,114.7 L318.8,116.1 L319.1,117.6 L319.5,119.1 L319.8,120.6 L320.1,122.1 L320.4,123.6 L320.7,125.1 L321.0,126.6 L321.3,128.2 L321.6,129.7 L321.8,131.2 L322.1,132.7 L322.4,134.3 L322.6,135.8 L322.9,137.3 L323.1,138.8 L323.4,140.4 L323.6,141.9 L323.8,143.4 L324.1,145.0 L324.3,146.5 L324.5,148.0 L324.8,149.6 L325.0,151.1 L325.2,152.6 L325.4,154.1 L325.6,155.7 L325.9,157.2 L326.1,158.7 L326.3,160.2 L326.5,161.8 L326.7,163.3 L326.9,164.8 L327.1,166.3 L327.3,167.9 L327.5,169.4 L327.7,170.9 L327.9,172.4 L328.0,173.9 L328.2,175.5 L328.4,177.0 L328.6,178.5 L328.8,180.0 L328.9,181.5 L329.1,183.0 L329.3,184.6 L329.5,186.1 L329.6,187.6 L329.8,189.1 L330.0,190.6 L330.1,192.1 L330.3,193.6 L330.4,195.1 L330.6,196.7 L330.7,198.2 L330.9,199.7 L331.0,201.2 L331.2,202.7 L331.3,204.2 L331.5,205.7 L331.6,207.2 L331.7,208.7 L331.9,210.2 L332.0,211.7 L332.1,213.2 L332.3,214.7 L332.4,216.3 L332.5,217.8 L332.6,219.3 L332.8,220.8 L332.9,222.3 L333.0,223.8 L333.1,225.3 L333.2,226.8 L333.4,228.3 L333.5,229.8 L333.6,231.3 L333.7,232.8 L333.8,234.3 L333.9,235.8 L334.0,237.3 L334.1,238.8 L334.2,240.3 L334.3,241.8 L334.4,243.3 L334.5,244.8 L334.6,246.3 L334.7,247.8 L334.8,249.3 L334.8,250.8 L334.9,252.3 L335.0,253.8 L335.1,255.3 L335.2,256.8 L335.3,258.2 L335.3,259.7 L335.4,261.2 L335.5,262.7 L335.6,264.2 L335.7,265.7 L335.7,267.2 L335.8,268.7 L335.9,270.2 L335.9,271.7 L336.0,273.2 L336.1,274.7 L336.1,276.2 L336.2,277.7 L336.3,279.2 L336.3,280.7 L336.4,282.1 L336.4,283.6 L336.5,285.1 L336.6,286.6 L336.6,288.1 L336.7,289.6 L336.7,291.1 L336.8,292.6 L336.8,294.1 L336.9,295.6 L336.9,297.1 L337.0,298.6 L337.0,300.0 L337.1,301.5 L337.1,303.0 L337.1,304.5 L337.2,306.0 L337.2,307.5 L337.3,309.0 L337.3,310.5 L337.3,312.0 L337.4,313.5 L337.4,315.0 L337.5,316.4 L337.5,317.9 L337.5,319.4 L337.6,320.9 L337.6,322.4 L337.6,323.9 L337.7,325.4 L337.7,326.9 L337.7,328.4 L337.7,329.9 L337.8,331.3 L337.8,332.8 L337.8,334.3 L337.8,335.8 L337.9,337.3 L337.9,338.8 L337.9,340.3 L337.9,341.8 L338.0,343.3 L338.0,344.8 L338.0,346.2 L338.0,347.7 L338.1,349.2 L338.1,350.7 L338.1,352.2 L338.1,353.7 L338.1,355.2 L338.2,356.7 L338.2,358.2 L338.2,359.7 L338.2,361.2 L338.2,362.7 L338.2,364.1 L338.3,365.6 L338.3,367.1 L338.3,368.6 L338.3,370.1 L338.3,371.6 L338.3,373.1 L338.3,374.6 L338.4,376.1 L338.4,377.6 L338.4,379.1 L338.4,380.6 L338.4,382.1 L338.4,383.6 L338.4,385.1 L338.5,386.6 L338.5,388.1 L338.5,389.5 L338.5,391.0 L338.5,392.5 L338.5,394.0 L338.5,395.5 L338.5,397.0 L338.6,398.5 L338.6,400.0 L338.6,401.5 L338.6,403.0 L338.6,404.5 L338.6,406.0 L338.6,407.5 L338.6,409.0 L338.7,410.5 L338.7,412.0 L338.7,413.5 L338.7,415.0 L338.7,416.5 L338.7,418.0 L338.7,419.5 L338.8,421.0 L338.8,422.5 L338.8,424.0 L338.8,425.5 L338.8,427.0 L338.8,428.5 L338.8,430.0 L338.9,431.6 L338.9,433.1 L338.9,434.6 L338.9,436.1 L338.9,437.6 L339.0,439.1 L339.0,440.6 L339.0,442.1 L339.0,443.6 L339.0,445.1 L339.0,446.6 L339.1,448.1 L339.1,449.7 L339.1,451.2 L339.1,452.7 L339.2,454.2 L339.2,455.7 L339.2,457.2 L339.2,458.7 L339.3,460.2 L339.3,461.8 L339.3,463.3 L339.3,464.8 L339.4,466.3 L339.4,467.8 L339.4,469.3 L339.5,470.9 L339.5,472.4 L339.5,473.9 L339.6,475.4 L339.6,476.9 L339.6,478.5 L339.7,480.0 L339.7,481.5 L339.7,483.0 L339.8,484.5 L339.8,486.1 L339.8,487.6 L339.9,489.1 L339.9,490.6 L340.0,492.2 L340.0,493.7 L340.1,495.2 L340.1,496.7 L340.1,498.3 L340.2,499.8 L340.2,501.3 L340.3,502.9 L340.3,504.4 L340.4,505.9 L340.4,507.5 L340.5,509.0 L342.0,546.0 L342.2,544.5 L342.4,543.0 L342.5,541.5 L342.7,540.1 L342.9,538.6 L343.1,537.1 L343.2,535.6 L343.4,534.1 L343.6,532.6 L343.7,531.1 L343.9,529.6 L344.0,528.1 L344.2,526.7 L344.3,525.2 L344.5,523.7 L344.6,522.2 L344.8,520.7 L344.9,519.2 L345.1,517.7 L345.2,516.2 L345.4,514.7 L345.5,513.2 L345.6,511.7 L345.8,510.2 L345.9,508.8 L346.0,507.3 L346.2,505.8 L346.3,504.3 L346.4,502.8 L346.5,501.3 L346.7,499.8 L346.8,498.3 L346.9,496.8 L347.0,495.3 L347.1,493.8 L347.2,492.3 L347.4,490.8 L347.5,489.3 L347.6,487.8 L347.7,486.3 L347.8,484.8 L347.9,483.3 L348.0,481.8 L348.1,480.3 L348.2,478.8 L348.3,477.3 L348.4,475.8 L348.5,474.3 L348.6,472.8 L348.7,471.3 L348.8,469.8 L348.9,468.3 L348.9,466.8 L349.0,465.3 L349.1,463.8 L349.2,462.3 L349.3,460.8 L349.4,459.3 L349.4,457.8 L349.5,456.3 L349.6,454.8 L349.7,453.3 L349.8,451.8 L349.8,450.3 L349.9,448.8 L350.0,447.3 L350.0,445.8 L350.1,444.3 L350.2,442.8 L350.3,441.3 L350.3,439.8 L350.4,438.3 L350.4,436.8 L350.5,435.3 L350.6,433.8 L350.6,432.3 L350.7,430.8 L350.8,429.3 L350.8,427.8 L350.9,426.3 L350.9,424.8 L351.0,423.3 L351.0,421.8 L351.1,420.3 L351.1,418.8 L351.2,417.3 L351.3,415.8 L351.3,414.3 L351.4,412.8 L351.4,411.3 L351.5,409.8 L351.5,408.3 L351.6,406.7 L351.6,405.2 L351.6,403.7 L351.7,402.2 L351.7,400.7 L351.8,399.2 L351.8,397.7 L351.9,396.2 L351.9,394.7 L352.0,393.2 L352.0,391.7 L352.0,390.2 L352.1,388.7 L352.1,387.2 L352.2,385.7 L352.2,384.2 L352.2,382.7 L352.3,381.2 L352.3,379.7 L352.4,378.2 L352.4,376.7 L352.4,375.1 L352.5,373.6 L352.5,372.1 L352.6,370.6 L352.6,369.1 L352.6,367.6 L352.7,366.1 L352.7,364.6 L352.7,363.1 L352.8,361.6 L352.8,360.1 L352.8,358.6 L352.9,357.1 L352.9,355.6 L353.0,354.1 L353.0,352.6 L353.0,351.1 L353.1,349.6 L353.1,348.1 L353.1,346.6 L353.2,345.0 L353.2,343.5 L353.2,342.0 L353.3,340.5 L353.3,339.0 L353.3,337.5 L353.4,336.0 L353.4,334.5 L353.5,333.0 L353.5,331.5 L353.5,330.0 L353.6,328.5 L353.6,327.0 L353.6,325.5 L353.7,324.0 L353.7,322.5 L353.8,321.0 L353.8,319.5 L353.8,318.0 L353.9,316.5 L353.9,315.0 L354.0,313.5 L354.0,312.0 L354.0,310.5 L354.1,309.0 L354.1,307.5 L354.2,306.0 L354.2,304.5 L354.3,303.0 L354.3,301.5 L354.3,300.0 L354.4,298.5 L354.4,297.0 L354.5,295.4 L354.5,293.9 L354.6,292.4 L354.6,290.9 L354.7,289.4 L354.7,287.9 L354.8,286.4 L354.8,284.9 L354.9,283.4 L354.9,281.9 L355.0,280.4 L355.0,278.9 L355.1,277.5 L355.2,276.0 L355.2,274.5 L355.3,273.0 L355.3,271.5 L355.4,270.0 L355.4,268.5 L355.5,267.0 L355.6,265.5 L355.6,264.0 L355.7,262.5 L355.8,261.0 L355.8,259.5 L355.9,258.0 L356.0,256.5 L356.0,255.0 L356.1,253.5 L356.2,252.0 L356.3,250.5 L356.3,249.0 L356.4,247.5 L356.5,246.0 L356.6,244.5 L356.6,243.0 L356.7,241.5 L356.8,240.0 L356.9,238.6 L357.0,237.1 L357.1,235.6 L357.1,234.1 L357.2,232.6 L357.3,231.1 L357.4,229.6 L357.5,228.1 L357.6,226.6 L357.7,225.1 L357.8,223.6 L357.9,222.1 L358.0,220.7 L358.1,219.2 L358.2,217.7 L358.3,216.2 L358.4,214.7 L358.5,213.2 L358.6,211.7 L358.7,210.2 L358.8,208.8 L359.0,207.3 L359.1,205.8 L359.2,204.3 L359.3,202.8 L359.4,201.3 L359.5,199.8 L359.7,198.3 L359.8,196.9 L359.9,195.4 L360.0,193.9 L360.2,192.4 L360.3,190.9 L360.4,189.4 L360.6,187.9 L360.7,186.4 L360.8,185.0 L361.0,183.5 L361.1,182.0 L361.2,180.5 L361.4,179.0 L361.5,177.5 L361.6,176.0 L361.8,174.5 L361.9,173.0 L362.0,171.5 L362.2,170.0 L362.3,168.6 L362.5,167.1 L362.6,165.6 L362.7,164.1 L362.9,162.6 L363.0,161.1 L363.2,159.6 L363.3,158.1 L363.5,156.6 L363.6,155.1 L363.8,153.6 L363.9,152.1 L364.0,150.5 L364.2,149.0 L364.3,147.5 L364.5,146.0 L364.6,144.5 L364.8,143.0 L364.9,141.5 L365.1,140.0 L365.2,138.5 L365.4,136.9 L365.5,135.4 L365.7,133.9 L365.8,132.4 L366.0,130.9 L366.2,129.4 L366.4,127.8 L366.5,126.3 L366.7,124.8 L366.9,123.3 L367.1,121.8 L367.4,120.3 L367.6,118.8 L367.8,117.3 L368.1,115.8 L368.4,114.3 L368.6,112.8 L368.9,111.3 L369.2,109.8 L369.5,108.3 L369.9,106.8 L370.2,105.3 L370.6,103.9 L371.0,102.4 L371.4,100.9 L371.8,99.5 L372.2,98.0 L372.7,96.6 L373.1,95.1 L373.6,93.7 L374.1,92.2 L374.7,90.8 L375.2,89.4 L375.8,88.0 L376.4,86.6 L377.1,85.2 L377.7,83.8 L378.4,82.4 L379.1,81.1 L379.8,79.8 L380.5,78.5 L381.3,77.2 L382.1,75.9 L382.9,74.6 L383.8,73.4 L384.7,72.2 L385.6,71.0 L386.5,69.9 L387.5,68.8 L388.4,67.7 L389.4,66.6 L390.5,65.6 L391.6,64.6 L392.7,63.6 L393.8,62.7 L394.9,61.8 L396.1,60.9 L397.3,60.1 L398.5,59.3 L399.8,58.6 L401.1,57.8 L402.3,57.2 L403.6,56.5 L405.0,55.9 L406.3,55.3 L407.6,54.8 L409.0,54.3 L410.4,53.8 L411.8,53.4 L413.1,53.0 L414.5,52.7 L415.9,52.4 L417.4,52.1 L418.8,51.9 L420.2,51.7 L421.6,51.5 L423.1,51.4 L424.5,51.3 L425.9,51.2 L427.4,51.2 L428.8,51.2 L430.3,51.2 L431.8,51.3 L433.2,51.4 L434.7,51.5 L436.1,51.6 L437.6,51.8 L439.1,52.0 L440.6,52.2 L442.1,52.4 L443.5,52.6 L445.0,52.9 L446.5,53.2 L448.0,53.5 L449.5,53.8 L451.0,54.1 L452.5,54.5 L454.0,54.9 L455.4,55.2 L456.9,55.6 L458.4,56.0 L459.9,56.4 L461.4,56.9 L462.9,57.3 L464.4,57.7 L465.9,58.2 L467.3,58.6 L468.8,59.1 L470.3,59.5 L471.8,60.0 L473.3,60.5 L474.7,60.9 L476.2,61.4 L477.7,61.9 L479.1,62.4 L480.6,62.8 L482.1,63.3 L483.5,63.8 L485.0,64.3 L486.4,64.8 L487.9,65.3 L489.3,65.8 L490.8,66.3 L492.2,66.8 L493.7,67.3 L495.1,67.8 L496.5,68.3 L498.0,68.8 L499.4,69.3 L500.8,69.8 L502.3,70.4 L503.7,70.9 L505.1,71.4 L506.5,72.0 L507.9,72.5 L509.3,73.1 L510.7,73.6 L512.2,74.2 L513.6,74.7 L515.0,75.3 L516.3,75.9 L517.7,76.4 L519.1,77.0 L520.5,77.6 L521.9,78.2 L523.3,78.8 L524.6,79.4 L526.0,80.0 L527.4,80.6 L528.8,81.2 L530.1,81.8 L531.5,82.4 L532.8,83.0 L534.2,83.7 L535.5,84.3 L536.9,84.9 L538.2,85.6 L539.6,86.2 L540.9,86.9 L542.2,87.6 L543.6,88.2 L544.9,88.9 L546.2,89.6 L547.5,90.3 L548.8,91.0 L550.1,91.7 L551.4,92.4 L552.7,93.1 L554.0,93.8 L555.3,94.5 L556.6,95.3 L557.9,96.0 L559.2,96.7 L560.5,97.5 L561.8,98.2 L563.0,99.0 L564.3,99.8 L565.6,100.6 L566.8,101.3 L568.1,102.1 L569.3,102.9 L570.6,103.7 L571.8,104.5 L573.1,105.4 L574.3,106.2 L575.5,107.0 L576.7,107.9 L578.0,108.7 L579.2,109.6 L580.4,110.4 L581.6,111.3 L582.8,112.2 L584.0,113.1 L585.2,113.9 L586.4,114.8 L587.6,115.8 L588.8,116.7 L590.0,117.6 L591.1,118.5 L592.3,119.5 L593.5,120.4 L594.6,121.4 L595.8,122.3 L597.0,123.3 L598.1,124.2 L599.3,125.2 L600.4,126.2 L601.6,127.2 L602.7,128.2 L603.8,129.2 L605.0,130.2 L606.1,131.2 L607.2,132.2 L608.4,133.2 L609.5,134.2 L610.6,135.2 L611.8,136.2 L612.9,137.2 L614.0,138.2 L615.1,139.3 L616.2,140.3 L617.4,141.3 L618.5,142.3 L619.6,143.4 L620.7,144.4 L621.8,145.4 L622.9,146.4 L624.1,147.5 L625.2,148.5 L626.3,149.5 L627.4,150.5 L628.5,151.6 L629.6,152.6 L630.7,153.6 L631.9,154.6 L633.0,155.6 L634.1,156.7 L635.2,157.7 L636.3,158.7 L637.4,159.7 L638.6,160.7 L639.7,161.7 L640.8,162.7 L641.9,163.7 L643.0,164.7 L644.2,165.7 L645.3,166.6 L646.4,167.6 L647.6,168.6 L648.7,169.6 L649.8,170.5 L651.0,171.5 L652.1,172.5 L653.2,173.4 L654.4,174.4 L655.5,175.3 L656.7,176.3 L657.8,177.2 L659.0,178.2 L660.1,179.1 L661.3,180.0 L662.4,180.9 L663.6,181.9 L664.8,182.8 L665.9,183.7 L667.1,184.6 L668.3,185.5 L669.5,186.4 L670.6,187.3 L671.8,188.2 L673.0,189.1 L674.2,190.0 L675.4,190.9 L676.6,191.8 L677.8,192.7 L679.0,193.5 L680.2,194.4 L681.4,195.3 L682.6,196.1 L683.8,197.0 L685.1,197.8 L686.3,198.7 L687.5,199.5 L688.7,200.4 L690.0,201.2 L691.2,202.0 L692.4,202.9 L693.7,203.7 L694.9,204.5 L696.2,205.3 L697.4,206.1 L698.7,206.9 L700.0,207.7 L701.2,208.5 L702.5,209.3 L703.8,210.1 L705.0,210.9 L706.3,211.7 L707.6,212.5 L708.9,213.3 L710.2,214.0 L711.4,214.8 L712.7,215.6 L714.0,216.4 L715.3,217.1 L716.6,217.9 L717.9,218.6 L719.2,219.4 L720.5,220.1 L721.8,220.9 L723.1,221.6 L724.4,222.4 L725.8,223.1 L727.1,223.8 L728.4,224.6 L729.7,225.3 L731.0,226.0 L732.3,226.8 L733.7,227.5 L735.0,228.2 L736.3,228.9 L737.7,229.6 L739.0,230.3 L740.3,231.0 L741.7,231.7 L743.0,232.4 L744.3,233.1 L745.7,233.8 L747.0,234.5 L748.4,235.2 L749.7,235.9 L751.1,236.6 L752.4,237.3 L753.7,238.0 L755.1,238.7 L756.4,239.3 L757.8,240.0 L759.2,240.7 L760.5,241.4 L761.9,242.0 L763.2,242.7 L764.6,243.4 L765.9,244.0 L767.3,244.7 L768.7,245.4 L770.0,246.0 L771.4,246.7 L772.7,247.3 L774.1,248.0 L775.5,248.6 L776.8,249.3 L778.2,249.9 L779.6,250.6 L780.9,251.2 L782.3,251.9 L783.7,252.5 L785.0,253.1 L786.4,253.8 L787.7,254.4 L789.1,255.1 L790.5,255.7 L791.8,256.3 L793.2,257.0 L794.6,257.6 L795.9,258.2 L797.3,258.9 L798.7,259.5 L800.0,260.1 L801.4,260.7 L802.8,261.4 L804.1,262.0 L805.5,262.6 L806.9,263.2 L808.2,263.8 L809.6,264.5 L811.0,265.1 L812.3,265.7 L813.7,266.3 L815.0,266.9 L816.4,267.6 L817.8,268.2 L819.1,268.8 L820.5,269.4 L821.8,270.0 L823.2,270.6 L824.6,271.2 L825.9,271.8 L827.3,272.4 L828.6,273.0 L830.0,273.6 L831.4,274.2 L832.7,274.8 L834.1,275.4 L835.5,276.0 L836.8,276.5 L838.2,277.1 L839.6,277.7 L840.9,278.3 L842.3,278.8 L843.7,279.4 L845.1,279.9 L846.4,280.5 L847.8,281.0 L849.2,281.6 L850.6,282.1 L852.0,282.6 L853.4,283.1 L854.8,283.7 L856.2,284.2 L857.5,284.7 L858.9,285.2 L860.3,285.6 L861.8,286.1 L863.2,286.6 L864.6,287.1 L866.0,287.5 L867.4,288.0 L868.8,288.4 L870.2,288.9 L871.7,289.3 L873.1,289.8 L874.5,290.2 L875.9,290.7 L877.4,291.1 L878.8,291.5 L880.2,292.0 L881.6,292.4 L883.1,292.9 L884.5,293.3 L885.9,293.8 L887.3,294.2 L888.8,294.7 L890.2,295.2 L891.6,295.6 L893.0,296.1 L894.4,296.6 L895.8,297.1 L897.2,297.7 L898.6,298.2 L900.0,298.7 L901.4,299.3 L902.8,299.8 L904.2,300.4 L905.5,301.0 L906.9,301.6 L908.3,302.2 L909.6,302.9 L911.0,303.5 L912.4,304.1 L913.7,304.8 L915.0,305.5 L916.4,306.1 L917.7,306.8 L919.1,307.5 L920.4,308.2 L921.7,308.9 L923.0,309.7 L924.4,310.4 L925.7,311.1 L927.0,311.9 L928.3,312.6 L929.6,313.4 L930.9,314.1 L932.2,314.9 L933.5,315.7 L934.8,316.5 L936.1,317.3 L937.4,318.1 L938.6,318.9 L939.9,319.7 L941.2,320.5 L942.5,321.3 L943.7,322.1 L945.0,323.0 L946.3,323.8 L947.5,324.6 L948.8,325.5 L950.0,326.3 L951.3,327.2 L952.5,328.0 L953.7,328.9 L955.0,329.7 L956.2,330.6 L957.4,331.5 L958.6,332.4 L959.8,333.3 L961.0,334.2 L962.2,335.1 L963.4,336.0 L964.6,336.9 L965.8,337.9 L966.9,338.8 L968.1,339.7 L969.2,340.7 L970.3,341.7 L971.5,342.7 L972.6,343.6 L973.7,344.6 L974.8,345.6 L975.9,346.7 L977.0,347.7 L978.0,348.7 L979.1,349.7 L980.2,350.8 L981.2,351.8 L982.3,352.9 L983.3,354.0 L984.3,355.0 L985.4,356.1 L986.4,357.2 L987.4,358.3 L988.4,359.3 L989.4,360.4 L990.4,361.5 L991.5,362.6 L992.5,363.7 L993.4,364.8 L994.4,366.0 L995.4,367.1 L996.4,368.2 L997.4,369.3 L998.4,370.4 L999.4,371.5 L1000.4,372.6 L1001.4,373.8 L1002.4,374.9 L1003.3,376.0 L1004.3,377.1 L1005.3,378.2 L1006.3,379.3 L1007.3,380.4 L1008.3,381.6 L1009.3,382.7 L1010.3,383.8 L1011.3,384.9 L1012.3,386.0 L1013.3,387.1 L1014.3,388.2 L1015.3,389.3 L1016.4,390.3 L1017.4,391.4 L1018.4,392.5 L1019.4,393.6 L1020.4,394.7 L1021.4,395.8 L1022.4,396.9 L1023.5,398.0 L1024.5,399.1 L1025.5,400.2 L1026.5,401.2 L1027.5,402.3 L1028.5,403.4 L1029.5,404.5 L1030.5,405.6 L1031.6,406.7 L1032.6,407.8 L1033.6,408.9 L1034.6,410.0 L1035.6,411.1 L1036.5,412.3 L1037.5,413.4 L1038.5,414.5 L1039.5,415.6 L1040.5,416.7 L1041.5,417.9 L1042.4,419.0 L1043.4,420.1 L1044.4,421.2 L1045.4,422.4 L1046.3,423.5 L1047.3,424.7 L1048.3,425.8 L1049.2,426.9 L1050.2,428.1 L1051.2,429.2 L1052.1,430.4 L1053.1,431.5 L1054.1,432.7 L1055.0,433.8 L1056.0,435.0 L1057.0,436.1 L1057.9,437.3 L1058.9,438.4 L1059.9,439.6 L1060.9,440.7 L1061.8,441.9 L1062.8,443.0 L1063.8,444.1 L1064.8,445.3 L1065.7,446.4 L1066.7,447.6 L1067.7,448.7 L1068.7,449.9 L1069.7,451.0 L1070.7,452.2 L1071.7,453.3 L1072.7,454.4 L1073.6,455.6 L1074.6,456.7 L1075.6,457.9 L1076.6,459.0 L1077.6,460.2 L1078.6,461.3 L1079.5,462.5 L1080.5,463.6 L1081.5,464.8 L1082.4,466.0 L1083.4,467.1 L1084.3,468.3 L1085.2,469.5 L1086.2,470.6 L1087.1,471.8 L1088.0,473.0 L1088.9,474.2 L1089.8,475.4 L1090.7,476.6 L1091.5,477.8 L1092.4,479.0 L1093.2,480.3 L1094.1,481.5 L1094.9,482.7 L1095.7,484.0 L1096.5,485.2 L1097.2,486.5 L1098.0,487.7 L1098.7,489.0 L1099.4,490.3 L1100.1,491.6 L1100.8,492.9 L1101.5,494.2 L1102.1,495.5 L1102.8,496.8 L1103.4,498.2 L1104.0,499.5 L1104.5,500.9 L1105.1,502.3 L1105.6,503.7 L1106.1,505.1 L1106.5,506.5 L1107.0,507.9 L1107.4,509.3 L1107.8,510.8 L1108.2,512.2 L1108.6,513.7 L1108.9,515.1 L1109.3,516.6 L1109.6,518.1 L1109.9,519.6 L1110.2,521.1 L1110.5,522.6 L1110.8,524.1 L1111.0,525.6 L1111.3,527.1 L1111.5,528.6 L1111.8,530.1 L1112.0,531.7 L1112.2,533.2 L1112.4,534.7 L1112.7,536.2 L1112.9,537.8 L1113.1,539.3 L1113.3,540.8 L1113.6,542.4 L1113.8,543.9 L1114.0,545.4 L1114.2,546.9 L1114.5,548.4 L1114.7,549.9 L1115.0,551.4 L1115.2,553.0 L1115.5,554.4 L1115.8,555.9 L1116.1,557.4 L1116.4,558.9 L1116.7,560.4 L1117.0,561.8 L1117.4,563.3 L1117.7,564.7 L1118.1,566.1 L1118.5,567.6 L1118.9,569.0 L1119.4,570.4 L1119.8,571.8 L1120.3,573.1 L1120.8,574.5 L1121.4,575.8 L1121.9,577.2 L1122.5,578.5 L1122.7,577.0 L1122.9,575.5 L1123.1,574.1 L1123.3,572.6 L1123.5,571.1 L1123.7,569.6 L1123.9,568.1 L1124.1,566.6 L1124.3,565.2 L1124.5,563.7 L1124.7,562.2 L1124.9,560.7 L1125.1,559.2 L1125.3,557.7 L1125.4,556.2 L1125.6,554.8 L1125.8,553.3 L1126.0,551.8 L1126.2,550.3 L1126.4,548.8 L1126.6,547.3 L1126.8,545.8 L1127.0,544.3 L1127.1,542.8 L1127.3,541.3 L1127.5,539.9 L1127.7,538.4 L1127.9,536.9 L1128.1,535.4 L1128.3,533.9 L1128.4,532.4 L1128.6,530.9 L1128.8,529.4 L1129.0,527.9 L1129.2,526.4 L1129.3,524.9 L1129.5,523.4 L1129.7,521.9 L1129.9,520.4 L1130.1,518.9 L1130.3,517.4 L1130.4,515.9 L1130.6,514.4 L1130.8,512.9 L1131.0,511.5 L1131.2,510.0 L1131.3,508.5 L1131.5,507.0 L1131.7,505.5 L1131.9,504.0 L1132.1,502.5 L1132.3,501.0 L1132.4,499.5 L1132.6,498.0 L1132.8,496.5 L1133.0,495.0 L1133.2,493.5 L1133.3,492.0 L1133.5,490.5 L1133.7,489.0 L1133.9,487.5 L1134.1,486.0 L1134.3,484.5 L1134.4,483.0 L1134.6,481.5 L1134.8,480.0 L1135.0,478.5 L1135.2,477.0 L1135.4,475.5 L1135.6,474.0 L1135.8,472.5 L1135.9,471.0 L1136.1,469.5 L1136.3,468.0 L1136.5,466.5 L1136.7,465.0 L1136.9,463.5 L1137.1,462.0 L1137.3,460.5 L1137.5,459.0 L1137.7,457.5 L1137.9,456.0 L1138.1,454.5 L1138.2,453.0 L1138.4,451.5 L1138.6,450.0 L1138.8,448.5 L1139.0,447.0 L1139.2,445.5 L1139.4,444.0 L1139.6,442.5 L1139.8,441.0 L1140.1,439.5 L1140.3,438.0 L1140.5,436.5 L1140.7,435.0 L1140.9,433.5 L1141.1,432.0 L1141.3,430.5 L1141.5,429.0 L1141.7,427.5 L1141.9,426.0 L1142.2,424.5 L1142.4,423.0 L1142.6,421.5 L1142.8,420.0 L1143.0,418.5 L1143.2,417.1 L1143.5,415.6 L1143.7,414.1 L1143.9,412.6 L1144.1,411.1 L1144.4,409.6 L1144.6,408.1 L1144.8,406.6 L1145.1,405.1 L1145.3,403.6 L1145.5,402.1 L1145.8,400.6 L1146.0,399.1 L1146.2,397.7 L1146.5,396.2 L1146.7,394.7 L1147.0,393.2 L1147.2,391.7 L1147.5,390.2 L1147.7,388.7 L1148.0,387.2 L1148.2,385.8 L1148.5,384.3 L1148.7,382.8 L1149.0,381.3 L1149.2,379.8 L1149.5,378.3 L1149.8,376.8 L1150.0,375.4 L1150.3,373.9 L1150.6,372.4 L1150.8,370.9 L1151.1,369.4 L1151.4,368.0 L1151.7,366.5 L1151.9,365.0 L1152.2,363.5 L1152.5,362.0 L1152.8,360.6 L1153.1,359.1 L1153.4,357.6 L1153.7,356.1 L1154.0,354.7 L1154.2,353.2 L1154.5,351.7 L1154.8,350.2 L1155.1,348.8 L1155.4,347.3 L1155.8,345.8 L1156.1,344.4 L1156.4,342.9 L1156.7,341.4 L1157.0,339.9 L1157.3,338.5 L1157.6,337.0 L1158.0,335.5 L1158.3,334.1 L1158.6,332.6 L1158.9,331.2 L1159.3,329.7 L1159.6,328.2 L1160.0,326.8 L1160.3,325.3 L1160.6,323.8 L1161.0,322.4 L1161.3,320.9 L1161.7,319.5 L1162.0,318.0 L1162.4,316.6 L1162.8,315.1 L1163.1,313.7 L1163.5,312.2 L1163.8,310.7 L1164.2,309.3 L1164.6,307.8 L1165.0,306.4 L1165.3,304.9 L1165.7,303.5 L1166.1,302.1 L1166.5,300.6 L1166.9,299.2 L1167.3,297.7 L1167.7,296.3 L1168.1,294.8 L1168.5,293.4 L1168.9,291.9 L1169.3,290.5 L1169.7,289.1 L1170.1,287.6 L1170.5,286.2 L1170.9,284.8 L1171.4,283.3 L1171.8,281.9 L1172.2,280.5 L1172.7,279.0 L1173.1,277.6 L1173.5,276.2 L1174.0,274.7 L1174.4,273.3 L1174.9,271.9 L1175.3,270.5 L1175.8,269.0 L1176.2,267.6 L1176.7,266.2 L1177.2,264.8 L1177.6,263.4 L1178.1,261.9 L1178.6,260.5 L1179.1,259.1 L1179.6,257.7 L1180.0,256.3 L1180.5,254.9 L1181.0,253.5 L1181.5,252.0 L1182.0,250.6 L1182.5,249.2 L1183.0,247.8 L1183.6,246.4 L1184.1,245.0 L1184.6,243.6 L1185.1,242.2 L1185.6,240.8 L1186.2,239.4 L1186.7,238.0 L1187.3,236.6 L1187.8,235.2 L1188.3,233.8 L1188.9,232.4 L1189.4,231.1 L1190.0,229.7 L1190.6,228.3 L1191.1,226.9 L1191.7,225.5 L1192.3,224.1 L1192.9,222.7 L1193.4,221.4 L1194.0,220.0 L1194.6,218.6 L1195.2,217.2 L1195.8,215.8 L1196.4,214.5 L1197.0,213.1 L1197.6,211.7 L1198.3,210.4 L1198.9,209.0 L1199.5,207.6 L1200.1,206.3 L1200.8,204.9 L1201.4,203.5 L1202.0,202.2 L1202.7,200.8 L1203.3,199.4 L1204.0,198.1 L1204.7,196.7 L1205.3,195.4 L1206.0,194.0 L1206.7,192.7 L1207.3,191.3 L1208.0,190.0 L1208.7,188.6 L1209.4,187.3 L1210.1,185.9 L1210.8,184.6 L1211.5,183.3 L1212.2,181.9 L1212.9,180.6 L1213.6,179.3 L1214.3,177.9 L1215.1,176.6 L1215.8,175.3 L1216.5,173.9 L1217.3,172.6 L1218.0,171.3 L1218.8,170.0 L1219.5,168.7 L1220.3,167.3 L1221.0,166.0 L1221.8,164.7 L1222.5,163.4 L1223.3,162.1 L1224.1,160.8 L1224.9,159.5 L1225.6,158.2 L1226.4,156.9 L1227.2,155.6 L1228.0,154.3 L1228.8,153.0 L1229.6,151.7 L1230.4,150.4 L1231.2,149.1 L1232.0,147.8 L1232.8,146.5 L1233.6,145.2 L1234.5,144.0 L1235.3,142.7 L1236.1,141.4 L1236.9,140.1 L1237.8,138.9 L1238.6,137.6 L1239.4,136.3 L1240.3,135.1 L1241.1,133.8 L1242.0,132.5 L1242.8,131.3 L1243.7,130.0 L1244.6,128.8 L1245.4,127.5 L1246.3,126.3 L1247.2,125.0 L1248.0,123.8 L1248.9,122.6 L1249.8,121.3 L1250.7,120.1 L1251.5,118.9 L1252.4,117.6 L1253.3,116.4 L1254.2,115.2 L1255.1,114.0 L1256.0,112.7 L1256.9,111.5 L1257.8,110.3 L1258.7,109.1 L1259.6,107.9 L1260.5,106.7 L1261.4,105.5 L1262.4,104.3 L1263.3,103.1 L1264.2,101.9 L1265.1,100.7 L1266.1,99.5 L1267.0,98.4 L1268.0,97.2 L1268.9,96.1 L1269.9,94.9 L1270.9,93.8 L1271.9,92.7 L1272.9,91.7 L1273.9,90.6 L1274.9,89.6 L1276.0,88.6 L1277.0,87.6 L1278.1,86.6 L1279.2,85.7 L1280.3,84.8 L1281.5,83.9 L1282.7,83.1 L1283.8,82.3 L1285.1,81.5 L1286.3,80.8 L1287.6,80.1 L1288.9,79.4 L1290.2,78.8 L1291.5,78.2 L1292.9,77.7 L1294.3,77.2 L1295.7,76.7 L1297.1,76.3 L1298.5,75.9 L1299.9,75.6 L1301.4,75.3 L1302.8,75.0 L1304.3,74.8 L1305.8,74.6 L1307.3,74.4 L1308.8,74.3 L1310.2,74.2 L1311.7,74.1 L1313.2,74.1 L1314.7,74.1 L1316.2,74.2 L1317.7,74.2 L1319.2,74.4 L1320.7,74.5 L1322.1,74.7 L1323.6,74.9 L1325.1,75.1 L1326.6,75.4 L1328.0,75.7 L1329.5,76.1 L1330.9,76.4 L1332.4,76.8 L1333.8,77.2 L1335.3,77.7 L1336.7,78.1 L1338.2,78.6 L1339.6,79.2 L1341.0,79.7 L1342.5,80.3 L1343.9,80.9 L1345.3,81.5 L1346.7,82.1 L1348.1,82.8 L1349.5,83.4 L1350.9,84.1 L1352.2,84.8 L1353.6,85.6 L1355.0,86.3 L1356.3,87.1 L1357.7,87.9 L1359.0,88.7 L1360.4,89.5 L1361.7,90.3 L1363.0,91.2 L1364.3,92.0 L1365.6,92.9 L1366.9,93.8 L1368.2,94.7 L1369.5,95.6 L1370.8,96.5 L1372.0,97.4 L1373.3,98.4 L1374.5,99.3 L1375.8,100.3 L1377.0,101.2 L1378.2,102.2 L1379.4,103.2 L1380.6,104.2 L1381.8,105.1 L1382.9,106.1 L1384.1,107.1 L1385.2,108.1 L1386.4,109.1 L1387.5,110.1 L1388.6,111.1 L1389.7,112.1 L1390.8,113.1 L1391.9,114.1 L1392.9,115.1 L1394.0,116.1 L1395.0,117.1 L1396.0,118.1 L1397.0,119.1 L1398.0,120.1 L1399.0,121.0 L1400.0,122.0" stroke="#ff00ff" stroke-width="9"/>
<path d="M214.0,41.0 L215.4,41.1 L216.8,41.1 L218.2,41.2 L219.7,41.3 L221.1,41.4 L222.6,41.5 L224.0,41.7 L225.5,41.8 L227.0,42.0 L228.5,42.1 L230.0,42.3 L231.5,42.5 L233.1,42.7 L234.6,42.9 L236.1,43.2 L237.7,43.4 L239.2,43.7 L240.8,43.9 L242.3,44.2 L243.9,44.5 L245.4,44.8 L246.9,45.2 L248.5,45.5 L250.0,45.9 L251.6,46.3 L253.1,46.7 L254.6,47.1 L256.2,47.5 L257.7,47.9 L259.2,48.4 L260.7,48.9 L262.2,49.3 L263.7,49.9 L265.2,50.4 L266.6,50.9 L268.1,51.5 L269.5,52.1 L271.0,52.7 L272.4,53.3 L273.8,53.9 L275.1,54.6 L276.5,55.2 L277.9,55.9 L279.2,56.6 L280.5,57.4 L281.8,58.1 L283.0,58.9 L284.3,59.7 L285.5,60.5 L286.7,61.3 L287.9,62.2 L289.0,63.0 L290.2,63.9 L291.3,64.8 L292.4,65.8 L293.4,66.7 L294.4,67.7 L295.4,68.7 L296.4,69.7 L297.3,70.7 L298.3,71.8 L299.2,72.9 L300.1,74.0 L300.9,75.1 L301.8,76.2 L302.6,77.3 L303.4,78.5 L304.1,79.7 L304.9,80.9 L305.6,82.1 L306.3,83.3 L307.0,84.5 L307.7,85.8 L308.4,87.0 L309.0,88.3 L309.6,89.6 L310.2,90.9 L310.8,92.2 L311.4,93.6 L312.0,94.9 L312.5,96.3 L313.0,97.6 L313.5,99.0 L314.0,100.4 L314.5,101.8 L315.0,103.2 L315.4,104.6 L315.9,106.0 L316.3,107.5 L316.7,108.9 L317.1,110.4 L317.5,111.8 L317.9,113.3 L318.3,114.7 L318.6,116.2 L319.0,117.7 L319.3,119.2 L319.7,120.7 L320.0,122.2 L320.3,123.7 L320.6,125.2 L320.9,126.7 L321.2,128.2 L321.5,129.7 L321.8,131.2 L322.0,132.8 L322.3,134.3 L322.6,135.8 L322.8,137.3 L323.1,138.9 L323.3,140.4 L323.6,141.9 L323.8,143.5 L324.1,145.0 L324.3,146.5 L324.6,148.0 L324.8,149.6 L325.0,151.1 L325.2,152.6 L325.5,154.1 L325.7,155.7 L325.9,157.2 L326.1,158.7 L326.3,160.2 L326.6,161.8 L326.8,163.3 L327.0,164.8 L327.2,166.3 L327.4,167.8 L327.6,169.4 L327.8,170.9 L328.0,172.4 L328.2,173.9 L328.4,175.4 L328.5,176.9 L328.7,178.5 L328.9,180.0 L329.1,181.5 L329.3,183.0 L329.5,184.5 L329.6,186.0 L329.8,187.5 L330.0,189.1 L330.1,190.6 L330.3,192.1 L330.5,193.6 L330.6,195.1 L330.8,196.6 L330.9,198.1 L331.1,199.6 L331.2,201.1 L331.4,202.6 L331.5,204.2 L331.7,205.7 L331.8,207.2 L332.0,208.7 L332.1,210.2 L332.3,211.7 L332.4,213.2 L332.5,214.7 L332.7,216.2 L332.8,217.7 L332.9,219.2 L333.0,220.7 L333.2,222.2 L333.3,223.7 L333.4,225.2 L333.5,226.7 L333.6,228.2 L333.8,229.7 L333.9,231.2 L334.0,232.7 L334.1,234.2 L334.2,235.7 L334.3,237.2 L334.4,238.7 L334.5,240.2 L334.6,241.7 L334.7,243.2 L334.8,244.7 L334.9,246.2 L335.0,247.7 L335.1,249.2 L335.2,250.7 L335.3,252.2 L335.4,253.7 L335.5,255.2 L335.5,256.7 L335.6,258.2 L335.7,259.7 L335.8,261.2 L335.9,262.7 L335.9,264.2 L336.0,265.7 L336.1,267.2 L336.2,268.7 L336.2,270.2 L336.3,271.7 L336.4,273.2 L336.5,274.7 L336.5,276.2 L336.6,277.7 L336.7,279.1 L336.7,280.6 L336.8,282.1 L336.8,283.6 L336.9,285.1 L337.0,286.6 L337.0,288.1 L337.1,289.6 L337.1,291.1 L337.2,292.6 L337.2,294.1 L337.3,295.6 L337.3,297.1 L337.4,298.6 L337.4,300.0 L337.5,301.5 L337.5,303.0 L337.6,304.5 L337.6,306.0 L337.7,307.5 L337.7,309.0 L337.8,310.5 L337.8,312.0 L337.8,313.5 L337.9,315.0 L337.9,316.5 L338.0,317.9 L338.0,319.4 L338.0,320.9 L338.1,322.4 L338.1,323.9 L338.1,325.4 L338.2,326.9 L338.2,328.4 L338.2,329.9 L338.3,331.4 L338.3,332.9 L338.3,334.4 L338.4,335.8 L338.4,337.3 L338.4,338.8 L338.4,340.3 L338.5,341.8 L338.5,343.3 L338.5,344.8 L338.6,346.3 L338.6,347.8 L338.6,349.3 L338.6,350.8 L338.7,352.3 L338.7,353.8 L338.7,355.2 L338.7,356.7 L338.7,358.2 L338.8,359.7 L338.8,361.2 L338.8,362.7 L338.8,364.2 L338.9,365.7 L338.9,367.2 L338.9,368.7 L338.9,370.2 L338.9,371.7 L338.9,373.2 L339.0,374.7 L339.0,376.2 L339.0,377.7 L339.0,379.1 L339.0,380.6 L339.1,382.1 L339.1,383.6 L339.1,385.1 L339.1,386.6 L339.1,388.1 L339.2,389.6 L339.2,391.1 L339.2,392.6 L339.2,394.1 L339.2,395.6 L339.2,397.1 L339.3,398.6 L339.3,400.1 L339.3,401.6 L339.3,403.1 L339.3,404.6 L339.4,406.1 L339.4,407.6 L339.4,409.1 L339.4,410.6 L339.4,412.1 L339.5,413.6 L339.5,415.1 L339.5,416.6 L339.5,418.1 L339.5,419.6 L339.6,421.1 L339.6,422.6 L339.6,424.1 L339.6,425.6 L339.6,427.1 L339.7,428.6 L339.7,430.1 L339.7,431.6 L339.7,433.1 L339.8,434.6 L339.8,436.2 L339.8,437.7 L339.8,439.2 L339.9,440.7 L339.9,442.2 L339.9,443.7 L340.0,445.2 L340.0,446.7 L340.0,448.2 L340.0,449.7 L340.1,451.2 L340.1,452.7 L340.1,454.3 L340.2,455.8 L340.2,457.3 L340.2,458.8 L340.3,460.3 L340.3,461.8 L340.3,463.3 L340.4,464.9 L340.4,466.4 L340.5,467.9 L340.5,469.4 L340.5,470.9 L340.6,472.4 L340.6,473.9 L340.7,475.5 L340.7,477.0 L340.8,478.5 L340.8,480.0 L340.9,481.5 L340.9,483.1 L341.0,484.6 L341.0,486.1 L341.1,487.6 L341.1,489.2 L341.2,490.7 L341.2,492.2 L341.3,493.7 L341.3,495.2 L341.4,496.8 L341.5,498.3 L341.5,499.8 L341.6,501.4 L341.6,502.9 L341.7,504.4 L341.8,505.9 L341.8,507.5 L341.9,509.0 L349.5,547.0 L349.5,545.5 L349.6,544.0 L349.6,542.5 L349.6,541.0 L349.6,539.5 L349.7,538.0 L349.7,536.5 L349.7,535.0 L349.7,533.5 L349.8,532.0 L349.8,530.5 L349.8,528.9 L349.8,527.4 L349.8,525.9 L349.9,524.4 L349.9,522.9 L349.9,521.4 L349.9,519.9 L350.0,518.4 L350.0,516.9 L350.0,515.4 L350.0,513.9 L350.0,512.4 L350.1,510.9 L350.1,509.4 L350.1,507.9 L350.1,506.4 L350.1,504.9 L350.2,503.4 L350.2,501.9 L350.2,500.4 L350.2,498.9 L350.2,497.4 L350.3,495.9 L350.3,494.4 L350.3,492.9 L350.3,491.4 L350.3,489.9 L350.4,488.4 L350.4,486.9 L350.4,485.3 L350.4,483.8 L350.4,482.3 L350.5,480.8 L350.5,479.3 L350.5,477.8 L350.5,476.3 L350.5,474.8 L350.5,473.3 L350.6,471.8 L350.6,470.3 L350.6,468.8 L350.6,467.3 L350.6,465.8 L350.6,464.3 L350.7,462.8 L350.7,461.3 L350.7,459.8 L350.7,458.3 L350.7,456.8 L350.8,455.3 L350.8,453.8 L350.8,452.3 L350.8,450.8 L350.8,449.3 L350.8,447.8 L350.9,446.3 L350.9,444.8 L350.9,443.3 L350.9,441.8 L350.9,440.3 L351.0,438.8 L351.0,437.3 L351.0,435.8 L351.0,434.3 L351.0,432.8 L351.1,431.3 L351.1,429.8 L351.1,428.3 L351.1,426.8 L351.1,425.3 L351.2,423.8 L351.2,422.3 L351.2,420.8 L351.2,419.3 L351.2,417.8 L351.3,416.3 L351.3,414.8 L351.3,413.3 L351.3,411.8 L351.3,410.3 L351.4,408.8 L351.4,407.3 L351.4,405.8 L351.4,404.3 L351.5,402.8 L351.5,401.3 L351.5,399.8 L351.5,398.3 L351.6,396.8 L351.6,395.3 L351.6,393.8 L351.6,392.3 L351.6,390.8 L351.7,389.3 L351.7,387.8 L351.7,386.3 L351.8,384.8 L351.8,383.3 L351.8,381.8 L351.8,380.3 L351.9,378.8 L351.9,377.3 L351.9,375.8 L352.0,374.3 L352.0,372.8 L352.0,371.3 L352.0,369.8 L352.1,368.3 L352.1,366.8 L352.1,365.3 L352.2,363.8 L352.2,362.3 L352.2,360.8 L352.3,359.3 L352.3,357.8 L352.3,356.3 L352.4,354.8 L352.4,353.3 L352.4,351.8 L352.5,350.3 L352.5,348.8 L352.5,347.3 L352.6,345.8 L352.6,344.3 L352.7,342.8 L352.7,341.3 L352.7,339.8 L352.8,338.3 L352.8,336.8 L352.9,335.3 L352.9,333.8 L352.9,332.3 L353.0,330.8 L353.0,329.3 L353.1,327.8 L353.1,326.3 L353.2,324.8 L353.2,323.3 L353.3,321.8 L353.3,320.3 L353.4,318.8 L353.4,317.3 L353.5,315.8 L353.5,314.3 L353.5,312.8 L353.6,311.3 L353.7,309.8 L353.7,308.3 L353.8,306.8 L353.8,305.3 L353.9,303.8 L353.9,302.3 L354.0,300.8 L354.0,299.3 L354.1,297.8 L354.1,296.3 L354.2,294.8 L354.3,293.3 L354.3,291.8 L354.4,290.3 L354.4,288.8 L354.5,287.3 L354.6,285.8 L354.6,284.3 L354.7,282.8 L354.8,281.3 L354.8,279.8 L354.9,278.3 L355.0,276.8 L355.0,275.3 L355.1,273.8 L355.2,272.3 L355.2,270.8 L355.3,269.3 L355.4,267.8 L355.4,266.3 L355.5,264.8 L355.6,263.3 L355.7,261.8 L355.7,260.3 L355.8,258.8 L355.9,257.3 L356.0,255.8 L356.1,254.3 L356.1,252.8 L356.2,251.3 L356.3,249.8 L356.4,248.3 L356.5,246.8 L356.6,245.3 L356.6,243.8 L356.7,242.3 L356.8,240.8 L356.9,239.3 L357.0,237.8 L357.1,236.3 L357.2,234.8 L357.3,233.3 L357.4,231.8 L357.5,230.3 L357.6,228.8 L357.6,227.3 L357.7,225.8 L357.8,224.3 L357.9,222.8 L358.0,221.3 L358.1,219.8 L358.2,218.3 L358.3,216.8 L358.5,215.3 L358.6,213.8 L358.7,212.3 L358.8,210.8 L358.9,209.3 L359.0,207.8 L359.1,206.3 L359.2,204.8 L359.3,203.3 L359.4,201.8 L359.6,200.3 L359.7,198.8 L359.8,197.3 L359.9,195.8 L360.0,194.3 L360.2,192.8 L360.3,191.3 L360.4,189.8 L360.5,188.3 L360.6,186.8 L360.8,185.3 L360.9,183.8 L361.0,182.3 L361.2,180.8 L361.3,179.3 L361.4,177.8 L361.6,176.3 L361.7,174.8 L361.8,173.3 L362.0,171.8 L362.1,170.3 L362.2,168.8 L362.4,167.3 L362.5,165.8 L362.7,164.3 L362.8,162.8 L363.0,161.3 L363.1,159.8 L363.3,158.3 L363.4,156.8 L363.6,155.3 L363.7,153.8 L363.9,152.3 L364.0,150.8 L364.2,149.3 L364.3,147.8 L364.5,146.3 L364.7,144.8 L364.8,143.3 L365.0,141.8 L365.1,140.3 L365.3,138.8 L365.5,137.3 L365.7,135.8 L365.8,134.3 L366.0,132.8 L366.2,131.3 L366.4,129.8 L366.6,128.3 L366.8,126.8 L367.0,125.4 L367.2,123.9 L367.5,122.4 L367.7,120.9 L367.9,119.4 L368.2,117.9 L368.5,116.5 L368.7,115.0 L369.0,113.5 L369.3,112.1 L369.6,110.6 L369.9,109.1 L370.3,107.7 L370.6,106.2 L370.9,104.8 L371.3,103.3 L371.7,101.9 L372.1,100.5 L372.5,99.1 L372.9,97.6 L373.4,96.2 L373.8,94.8 L374.3,93.4 L374.8,92.0 L375.3,90.6 L375.9,89.2 L376.4,87.8 L377.0,86.4 L377.6,85.1 L378.2,83.7 L378.8,82.4 L379.4,81.0 L380.1,79.7 L380.8,78.3 L381.5,77.0 L382.3,75.7 L383.0,74.4 L383.8,73.1 L384.6,71.8 L385.5,70.5 L386.3,69.3 L387.2,68.1 L388.2,66.9 L389.1,65.7 L390.1,64.6 L391.2,63.5 L392.2,62.5 L393.3,61.5 L394.5,60.5 L395.6,59.6 L396.9,58.7 L398.1,57.9 L399.4,57.2 L400.8,56.5 L402.1,55.9 L403.6,55.4 L405.0,54.9 L406.5,54.4 L408.0,54.0 L409.5,53.6 L411.0,53.3 L412.6,53.0 L414.1,52.8 L415.6,52.6 L417.2,52.4 L418.7,52.2 L420.2,52.0 L421.7,51.9 L423.2,51.8 L424.7,51.7 L426.2,51.7 L427.7,51.7 L429.2,51.6 L430.7,51.7 L432.2,51.7 L433.7,51.8 L435.2,51.9 L436.6,52.0 L438.1,52.1 L439.6,52.2 L441.0,52.4 L442.5,52.6 L444.0,52.8 L445.4,53.0 L446.9,53.2 L448.3,53.5 L449.8,53.7 L451.2,54.0 L452.7,54.3 L454.1,54.6 L455.6,55.0 L457.0,55.3 L458.5,55.7 L459.9,56.1 L461.3,56.4 L462.8,56.8 L464.2,57.2 L465.6,57.7 L467.0,58.1 L468.5,58.5 L469.9,59.0 L471.3,59.4 L472.7,59.9 L474.2,60.4 L475.6,60.9 L477.0,61.4 L478.4,61.9 L479.8,62.4 L481.2,62.9 L482.7,63.4 L484.1,63.9 L485.5,64.5 L486.9,65.0 L488.3,65.5 L489.7,66.1 L491.1,66.6 L492.6,67.2 L494.0,67.7 L495.4,68.3 L496.8,68.8 L498.2,69.4 L499.6,69.9 L501.0,70.5 L502.5,71.0 L503.9,71.6 L505.3,72.1 L506.7,72.7 L508.1,73.3 L509.5,73.8 L511.0,74.4 L512.4,74.9 L513.8,75.5 L515.2,76.0 L516.6,76.6 L518.0,77.2 L519.4,77.7 L520.8,78.3 L522.2,78.9 L523.6,79.5 L525.0,80.0 L526.4,80.6 L527.8,81.2 L529.2,81.8 L530.6,82.4 L532.0,83.0 L533.4,83.6 L534.8,84.2 L536.2,84.8 L537.5,85.4 L538.9,86.0 L540.3,86.7 L541.7,87.3 L543.0,87.9 L544.4,88.6 L545.7,89.2 L547.1,89.9 L548.4,90.5 L549.8,91.2 L551.1,91.9 L552.5,92.6 L553.8,93.3 L555.1,94.0 L556.4,94.7 L557.7,95.4 L559.1,96.1 L560.4,96.8 L561.7,97.6 L562.9,98.3 L564.2,99.1 L565.5,99.8 L566.8,100.6 L568.1,101.4 L569.3,102.2 L570.6,103.0 L571.8,103.8 L573.1,104.6 L574.3,105.5 L575.5,106.3 L576.8,107.2 L578.0,108.0 L579.2,108.9 L580.4,109.8 L581.6,110.7 L582.8,111.6 L584.0,112.5 L585.1,113.4 L586.3,114.3 L587.5,115.2 L588.7,116.2 L589.8,117.1 L591.0,118.1 L592.1,119.0 L593.3,120.0 L594.4,120.9 L595.6,121.9 L596.7,122.9 L597.8,123.9 L599.0,124.9 L600.1,125.9 L601.2,126.9 L602.3,127.9 L603.4,128.9 L604.6,129.9 L605.7,130.9 L606.8,131.9 L607.9,133.0 L609.0,134.0 L610.1,135.0 L611.2,136.1 L612.3,137.1 L613.4,138.1 L614.5,139.2 L615.6,140.2 L616.7,141.3 L617.8,142.3 L618.8,143.3 L619.9,144.4 L621.0,145.4 L622.1,146.5 L623.2,147.5 L624.3,148.6 L625.4,149.6 L626.5,150.7 L627.6,151.7 L628.7,152.8 L629.7,153.8 L630.8,154.8 L631.9,155.9 L633.0,156.9 L634.1,158.0 L635.2,159.0 L636.3,160.0 L637.4,161.0 L638.5,162.1 L639.6,163.1 L640.7,164.1 L641.8,165.1 L643.0,166.1 L644.1,167.1 L645.2,168.1 L646.3,169.1 L647.4,170.1 L648.6,171.1 L649.7,172.1 L650.8,173.1 L652.0,174.0 L653.1,175.0 L654.2,175.9 L655.4,176.9 L656.6,177.8 L657.7,178.8 L658.9,179.7 L660.0,180.6 L661.2,181.5 L662.4,182.4 L663.6,183.4 L664.7,184.3 L665.9,185.1 L667.1,186.0 L668.3,186.9 L669.5,187.8 L670.7,188.7 L671.9,189.5 L673.1,190.4 L674.3,191.3 L675.5,192.1 L676.7,193.0 L678.0,193.8 L679.2,194.6 L680.4,195.5 L681.6,196.3 L682.9,197.1 L684.1,197.9 L685.3,198.7 L686.6,199.6 L687.8,200.4 L689.1,201.2 L690.3,202.0 L691.6,202.7 L692.8,203.5 L694.1,204.3 L695.4,205.1 L696.6,205.9 L697.9,206.6 L699.2,207.4 L700.5,208.2 L701.7,208.9 L703.0,209.7 L704.3,210.4 L705.6,211.2 L706.9,211.9 L708.2,212.7 L709.5,213.4 L710.8,214.1 L712.0,214.9 L713.4,215.6 L714.7,216.3 L716.0,217.0 L717.3,217.7 L718.6,218.5 L719.9,219.2 L721.2,219.9 L722.5,220.6 L723.8,221.3 L725.2,222.0 L726.5,222.7 L727.8,223.4 L729.1,224.1 L730.5,224.8 L731.8,225.4 L733.1,226.1 L734.5,226.8 L735.8,227.5 L737.2,228.2 L738.5,228.8 L739.8,229.5 L741.2,230.2 L742.5,230.9 L743.9,231.5 L745.2,232.2 L746.6,232.9 L747.9,233.5 L749.3,234.2 L750.7,234.9 L752.0,235.5 L753.4,236.2 L754.7,236.8 L756.1,237.5 L757.5,238.1 L758.8,238.8 L760.2,239.5 L761.6,240.1 L762.9,240.8 L764.3,241.4 L765.7,242.0 L767.0,242.7 L768.4,243.3 L769.8,244.0 L771.1,244.6 L772.5,245.3 L773.9,245.9 L775.3,246.6 L776.6,247.2 L778.0,247.9 L779.4,248.5 L780.8,249.1 L782.1,249.8 L783.5,250.4 L784.9,251.1 L786.3,251.7 L787.7,252.3 L789.0,253.0 L790.4,253.6 L791.8,254.3 L793.2,254.9 L794.5,255.6 L795.9,256.2 L797.3,256.8 L798.7,257.5 L800.0,258.1 L801.4,258.8 L802.8,259.4 L804.2,260.1 L805.5,260.7 L806.9,261.4 L808.3,262.0 L809.7,262.7 L811.0,263.3 L812.4,264.0 L813.8,264.6 L815.1,265.3 L816.5,265.9 L817.9,266.6 L819.3,267.2 L820.6,267.9 L822.0,268.6 L823.3,269.2 L824.7,269.9 L826.1,270.5 L827.4,271.2 L828.8,271.9 L830.1,272.5 L831.5,273.2 L832.9,273.9 L834.2,274.6 L835.6,275.2 L836.9,275.9 L838.3,276.6 L839.6,277.3 L840.9,278.0 L842.3,278.7 L843.6,279.4 L845.0,280.0 L846.3,280.7 L847.6,281.4 L849.0,282.1 L850.3,282.8 L851.6,283.6 L853.0,284.3 L854.3,285.0 L855.6,285.7 L856.9,286.4 L858.2,287.1 L859.6,287.8 L860.9,288.6 L862.2,289.3 L863.5,290.0 L864.8,290.8 L866.1,291.5 L867.4,292.3 L868.7,293.0 L870.0,293.7 L871.3,294.5 L872.6,295.3 L873.8,296.0 L875.1,296.8 L876.4,297.6 L877.7,298.3 L879.0,299.1 L880.2,299.9 L881.5,300.7 L882.8,301.4 L884.0,302.2 L885.3,303.0 L886.5,303.8 L887.8,304.6 L889.0,305.4 L890.3,306.3 L891.5,307.1 L892.7,307.9 L894.0,308.7 L895.2,309.6 L896.4,310.4 L897.6,311.2 L898.9,312.1 L900.1,312.9 L901.3,313.8 L902.5,314.6 L903.7,315.5 L904.9,316.4 L906.1,317.2 L907.3,318.1 L908.4,319.0 L909.6,319.9 L910.8,320.8 L912.0,321.7 L913.1,322.6 L914.3,323.5 L915.4,324.4 L916.6,325.4 L917.7,326.3 L918.9,327.2 L920.0,328.2 L921.1,329.1 L922.3,330.1 L923.4,331.0 L924.5,332.0 L925.6,333.0 L926.7,333.9 L927.8,334.9 L928.9,335.9 L930.0,336.9 L931.1,337.9 L932.2,338.9 L933.3,339.9 L934.3,340.9 L935.4,342.0 L936.5,343.0 L937.5,344.0 L938.6,345.1 L939.6,346.1 L940.6,347.2 L941.7,348.3 L942.7,349.3 L943.7,350.4 L944.7,351.5 L945.7,352.6 L946.7,353.7 L947.7,354.8 L948.7,355.9 L949.7,357.1 L950.7,358.2 L951.7,359.3 L952.6,360.5 L953.6,361.6 L954.6,362.8 L955.5,363.9 L956.5,365.1 L957.4,366.3 L958.3,367.4 L959.3,368.6 L960.2,369.8 L961.1,371.0 L962.0,372.2 L962.9,373.4 L963.8,374.6 L964.7,375.8 L965.6,377.0 L966.5,378.3 L967.4,379.5 L968.3,380.7 L969.2,382.0 L970.0,383.2 L970.9,384.4 L971.7,385.7 L972.6,387.0 L973.4,388.2 L974.3,389.5 L975.1,390.7 L976.0,392.0 L976.8,393.3 L977.6,394.6 L978.4,395.8 L979.3,397.1 L980.1,398.4 L980.9,399.7 L981.7,401.0 L982.5,402.3 L983.3,403.6 L984.0,404.9 L984.8,406.2 L985.6,407.5 L986.4,408.9 L987.2,410.2 L987.9,411.5 L988.7,412.8 L989.4,414.1 L990.2,415.5 L990.9,416.8 L991.7,418.1 L992.4,419.5 L993.2,420.8 L993.9,422.1 L994.6,423.5 L995.3,424.8 L996.1,426.2 L996.8,427.5 L997.5,428.9 L998.2,430.2 L998.9,431.6 L999.6,432.9 L1000.3,434.3 L1001.0,435.6 L1001.7,437.0 L1002.4,438.3 L1003.0,439.7 L1003.7,441.0 L1004.4,442.4 L1005.1,443.8 L1005.7,445.1 L1006.4,446.5 L1007.0,447.8 L1007.7,449.2 L1008.4,450.6 L1009.0,451.9 L1009.6,453.3 L1010.3,454.6 L1010.9,456.0 L1011.6,457.3 L1012.2,458.7 L1012.9,460.0 L1013.5,461.4 L1014.2,462.7 L1014.8,464.1 L1015.5,465.4 L1016.2,466.7 L1016.8,468.1 L1017.5,469.4 L1018.2,470.7 L1018.9,472.0 L1019.6,473.3 L1020.4,474.6 L1021.1,475.9 L1021.8,477.2 L1022.6,478.4 L1023.4,479.7 L1024.2,481.0 L1025.0,482.2 L1025.8,483.4 L1026.6,484.7 L1027.5,485.9 L1028.4,487.1 L1029.3,488.3 L1030.2,489.4 L1031.2,490.6 L1032.1,491.7 L1033.1,492.8 L1034.1,493.8 L1035.2,494.8 L1036.2,495.6 L1037.3,496.3 L1038.4,496.9 L1039.5,497.4 L1040.6,497.6 L1041.7,497.7 L1042.9,497.6 L1044.0,497.3 L1045.1,497.0 L1046.3,496.4 L1047.4,495.8 L1048.5,495.0 L1049.7,494.1 L1050.7,493.2 L1051.8,492.1 L1052.9,491.0 L1053.9,489.8 L1054.8,488.5 L1055.8,487.2 L1056.7,485.8 L1057.5,484.4 L1058.3,483.0 L1059.1,481.6 L1059.8,480.1 L1060.4,478.7 L1061.0,477.3 L1061.5,475.8 L1062.0,474.3 L1062.5,472.9 L1063.0,471.4 L1063.4,470.0 L1063.7,468.5 L1064.1,467.0 L1064.4,465.5 L1064.8,464.1 L1065.1,462.6 L1065.4,461.1 L1065.7,459.6 L1066.0,458.1 L1066.3,456.7 L1066.6,455.2 L1067.0,453.7 L1067.3,452.3 L1067.6,450.8 L1067.9,449.3 L1068.3,447.9 L1068.6,446.4 L1069.0,444.9 L1069.3,443.5 L1069.7,442.0 L1070.1,440.5 L1070.4,439.1 L1070.8,437.6 L1071.2,436.2 L1071.6,434.7 L1072.0,433.2 L1072.4,431.8 L1072.8,430.3 L1073.2,428.9 L1073.6,427.4 L1074.0,426.0 L1074.4,424.5 L1074.8,423.1 L1075.2,421.6 L1075.6,420.2 L1076.1,418.7 L1076.5,417.3 L1076.9,415.8 L1077.4,414.4 L1077.8,413.0 L1078.2,411.5 L1078.7,410.1 L1079.1,408.6 L1079.6,407.2 L1080.0,405.7 L1080.5,404.3 L1080.9,402.9 L1081.4,401.4 L1081.8,400.0 L1082.3,398.6 L1082.7,397.1 L1083.2,395.7 L1083.7,394.2 L1084.1,392.8 L1084.6,391.4 L1085.1,389.9 L1085.5,388.5 L1086.0,387.1 L1086.5,385.6 L1086.9,384.2 L1087.4,382.8 L1087.9,381.3 L1088.3,379.9 L1088.8,378.5 L1089.3,377.1 L1089.7,375.6 L1090.2,374.2 L1090.7,372.8 L1091.1,371.3 L1091.6,369.9 L1092.1,368.5 L1092.5,367.0 L1093.0,365.6 L1093.5,364.2 L1093.9,362.7 L1094.4,361.3 L1094.9,359.9 L1095.3,358.5 L1095.8,357.0 L1096.2,355.6 L1096.7,354.2 L1097.1,352.7 L1097.6,351.3 L1098.0,349.9 L1098.5,348.4 L1098.9,347.0 L1099.4,345.6 L1099.8,344.1 L1100.3,342.7 L1100.7,341.3 L1101.1,339.8 L1101.6,338.4 L1102.0,337.0 L1102.4,335.5 L1102.8,334.1 L1103.2,332.7 L1103.7,331.2 L1104.1,329.8 L1104.5,328.4 L1104.9,326.9 L1105.3,325.5 L1105.7,324.0 L1106.1,322.6 L1106.5,321.2 L1106.9,319.7 L1107.3,318.3 L1107.6,316.8 L1108.0,315.4 L1108.4,314.0 L1108.8,312.5 L1109.2,311.1 L1109.5,309.6 L1109.9,308.2 L1110.3,306.7 L1110.6,305.3 L1111.0,303.9 L1111.4,302.4 L1111.7,301.0 L1112.1,299.5 L1112.5,298.1 L1112.8,296.6 L1113.2,295.2 L1113.5,293.7 L1113.9,292.3 L1114.2,290.8 L1114.6,289.4 L1114.9,287.9 L1115.2,286.5 L1115.6,285.0 L1115.9,283.6 L1116.3,282.1 L1116.6,280.7 L1116.9,279.2 L1117.3,277.7 L1117.6,276.3 L1117.9,274.8 L1118.3,273.4 L1118.6,271.9 L1118.9,270.4 L1119.2,269.0 L1119.6,267.5 L1119.9,266.1 L1120.2,264.6 L1120.5,263.1 L1120.9,261.7 L1121.2,260.2 L1121.5,258.7 L1121.8,257.3 L1122.1,255.8 L1122.4,254.3 L1122.8,252.9 L1123.1,251.4 L1123.4,249.9 L1123.7,248.5 L1124.0,247.0 L1124.3,245.5 L1124.7,244.1 L1125.0,242.6 L1125.3,241.1 L1125.6,239.6 L1125.9,238.2 L1126.2,236.7 L1126.5,235.2 L1126.9,233.7 L1127.2,232.2 L1127.5,230.8 L1127.8,229.3 L1128.1,227.8 L1128.4,226.3 L1128.7,224.8 L1129.0,223.3 L1129.4,221.9 L1129.7,220.4 L1130.0,218.9 L1130.3,217.4 L1130.6,215.9 L1130.9,214.4 L1131.3,212.9 L1131.6,211.4 L1131.9,209.9 L1132.2,208.5 L1132.5,207.0 L1132.9,205.5 L1133.2,204.0 L1133.5,202.5 L1133.9,201.0 L1134.2,199.5 L1134.6,198.0 L1134.9,196.6 L1135.3,195.1 L1135.6,193.6 L1136.0,192.1 L1136.4,190.7 L1136.7,189.2 L1137.1,187.7 L1137.5,186.3 L1137.9,184.8 L1138.3,183.4 L1138.7,181.9 L1139.1,180.5 L1139.6,179.0 L1140.0,177.6 L1140.5,176.2 L1140.9,174.8 L1141.4,173.4 L1141.9,172.0 L1142.4,170.6 L1142.9,169.2 L1143.4,167.8 L1143.9,166.4 L1144.4,165.0 L1145.0,163.7 L1145.5,162.3 L1146.1,161.0 L1146.7,159.7 L1147.3,158.3 L1147.9,157.0 L1148.5,155.7 L1149.2,154.4 L1149.8,153.1 L1150.5,151.9 L1151.2,150.6 L1151.9,149.3 L1152.6,148.1 L1153.4,146.9 L1154.1,145.6 L1154.9,144.4 L1155.7,143.2 L1156.5,142.1 L1157.3,140.9 L1158.2,139.7 L1159.0,138.6 L1159.9,137.5 L1160.8,136.4 L1161.8,135.3 L1162.7,134.2 L1163.7,133.1 L1164.7,132.0 L1165.7,131.0 L1166.7,130.0 L1167.7,129.0 L1168.8,128.0 L1169.9,127.0 L1171.0,126.0 L1172.2,125.1 L1173.3,124.2 L1174.5,123.2 L1175.8,122.4 L1177.0,121.5 L1178.3,120.6 L1179.6,119.8 L1180.9,119.0 L1182.2,118.2 L1183.6,117.4 L1185.0,116.6 L1186.4,115.9 L1187.8,115.2 L1189.2,114.5 L1190.7,113.8 L1192.1,113.2 L1193.6,112.6 L1195.1,112.0 L1196.6,111.4 L1198.1,110.9 L1199.7,110.4 L1201.2,109.9 L1202.7,109.4 L1204.3,109.0 L1205.8,108.7 L1207.4,108.3 L1208.9,108.0 L1210.5,107.7 L1212.0,107.5 L1213.5,107.2 L1215.1,107.1 L1216.6,106.9 L1218.1,106.8 L1219.7,106.8 L1221.2,106.7 L1222.7,106.8 L1224.2,106.8 L1225.7,106.9 L1227.2,107.0 L1228.6,107.2 L1230.1,107.4 L1231.5,107.6 L1233.0,107.8 L1234.4,108.1 L1235.9,108.4 L1237.3,108.8 L1238.7,109.1 L1240.2,109.5 L1241.6,109.9 L1243.0,110.3 L1244.4,110.8 L1245.8,111.2 L1247.2,111.7 L1248.6,112.2 L1250.0,112.7 L1251.4,113.2 L1252.7,113.8 L1254.1,114.3 L1255.5,114.9 L1256.9,115.4 L1258.3,116.0 L1259.6,116.6 L1261.0,117.2 L1262.4,117.7 L1263.7,118.3 L1265.1,118.9 L1266.5,119.5 L1267.8,120.1 L1269.2,120.8 L1270.5,121.4 L1271.9,122.0 L1273.3,122.6 L1274.6,123.3 L1276.0,123.9 L1277.3,124.5 L1278.7,125.2 L1280.0,125.8 L1281.4,126.5 L1282.7,127.1 L1284.1,127.8 L1285.4,128.5 L1286.7,129.2 L1288.1,129.8 L1289.4,130.5 L1290.7,131.2 L1292.1,131.9 L1293.4,132.6 L1294.7,133.3 L1296.0,134.0 L1297.4,134.7 L1298.7,135.5 L1300.0,136.2 L1301.3,136.9 L1302.6,137.6 L1303.9,138.4 L1305.2,139.1 L1306.5,139.9 L1307.8,140.6 L1309.1,141.4 L1310.4,142.1 L1311.7,142.9 L1313.0,143.7 L1314.3,144.4 L1315.6,145.2 L1316.9,146.0 L1318.2,146.8 L1319.5,147.6 L1320.7,148.4 L1322.0,149.2 L1323.3,150.0 L1324.6,150.8 L1325.8,151.6 L1327.1,152.4 L1328.3,153.2 L1329.6,154.1 L1330.9,154.9 L1332.1,155.7 L1333.4,156.6 L1334.6,157.4 L1335.8,158.3 L1337.1,159.1 L1338.3,160.0 L1339.6,160.9 L1340.8,161.7 L1342.0,162.6 L1343.2,163.5 L1344.5,164.3 L1345.7,165.2 L1346.9,166.1 L1348.1,167.0 L1349.3,167.9 L1350.5,168.8 L1351.7,169.7 L1352.9,170.6 L1354.1,171.5 L1355.3,172.5 L1356.5,173.4 L1357.7,174.3 L1358.9,175.2 L1360.1,176.2 L1361.2,177.1 L1362.4,178.1 L1363.6,179.0 L1364.7,180.0 L1365.9,180.9 L1367.1,181.9 L1368.2,182.8 L1369.4,183.8 L1370.5,184.8 L1371.7,185.7 L1372.8,186.7 L1373.9,187.7 L1375.1,188.7 L1376.2,189.7 L1377.3,190.7 L1378.4,191.7 L1379.6,192.7 L1380.7,193.7 L1381.8,194.7 L1382.9,195.7 L1384.0,196.7 L1385.1,197.8 L1386.2,198.8 L1387.3,199.8 L1388.3,200.9 L1389.4,201.9 L1390.5,202.9 L1391.6,204.0 L1392.6,205.0 L1393.7,206.1 L1394.8,207.2 L1395.8,208.2 L1396.9,209.3 L1397.9,210.4 L1399.0,211.4 L1400.0,212.5" stroke="#008000" stroke-width="9"/>
<polygon points="1118.2,578.5 1126.9,578.5 1123.6,589.2" fill="#ff00ff"/>
<rect x="952.2" y="273.7" width="18.8" height="21.9" fill="#fff" stroke="#0000ff" stroke-width="8.8"/>
<rect x="1176.1" y="350.1" width="18.8" height="20.1" fill="#fff" stroke="#0000ff" stroke-width="8.8"/>
<rect x="1271.6" y="448.0" width="17.6" height="19.8" fill="#fff" stroke="#0000ff" stroke-width="8.8"/>
<rect x="1343.7" y="415.5" width="17.6" height="17.7" fill="#fff" stroke="#0000ff" stroke-width="8.8"/>
<circle cx="1005.6" cy="333.3" r="12.65" fill="#fff" stroke="#ff0000" stroke-width="8.7"/>
<circle cx="1285.7" cy="395.4" r="10.85" fill="#fff" stroke="#ff0000" stroke-width="8.7"/>
<circle cx="1358.9" cy="304.6" r="11.00" fill="#fff" stroke="#ff0000" stroke-width="8.7"/>
<rect x="993.6" y="368.6" width="27.1" height="31.1" fill="#ff00ff" stroke="none"/>
<rect x="1098.9" y="517.1" width="23.3" height="29.6" fill="#ff00ff" stroke="none"/>
<rect x="1149.2" y="282.9" width="29.3" height="28.9" fill="#ff00ff" stroke="none"/>
<rect x="1216.4" y="149.3" width="25.7" height="24.6" fill="#ff00ff" stroke="none"/>
<polygon points="972.6,379.9 951.8,332.5 948.2,356.2 924.6,360.4" fill="#008000" stroke="none"/>
<polygon points="1069.3,446.3 1031.8,482.0 1055.3,477.3 1067.3,498.1" fill="#008000" stroke="none"/>
<polygon points="1136.3,186.5 1108.3,230.1 1130.0,219.9 1146.6,237.3" fill="#008000" stroke="none"/>
<polygon points="1335.8,157.7 1305.9,115.4 1307.2,139.3 1284.9,148.2" fill="#008000" stroke="none"/>
</g>
<line x1="275.2" y1="671.4" x2="374.9" y2="671.4" stroke="#0000ff" stroke-width="9"/>
<rect x="309.1" y="657.4" width="25.2" height="25.2" fill="#fff" stroke="#0000ff" stroke-width="8.8"/>
<text x="382" y="696.4" font-size="66" fill="#000">11mm</text>
<line x1="275.2" y1="747.6" x2="374.9" y2="747.6" stroke="#ff0000" stroke-width="9"/>
<circle cx="323.2" cy="748.8" r="12.6" fill="#fff" stroke="#ff0000" stroke-width="8.8"/>
<text x="382" y="772.6" font-size="66" fill="#000">12mm</text>
<line x1="275.2" y1="823.7" x2="374.9" y2="823.7" stroke="#000000" stroke-width="9"/>
<text x="382" y="848.7" font-size="66" fill="#000">13mm</text>
<line x1="275.2" y1="899.9" x2="374.9" y2="899.9" stroke="#ff00ff" stroke-width="9"/>
<rect x="308.1" y="883.7" width="30.8" height="31.6" fill="#ff00ff"/>
<text x="382" y="924.9" font-size="66" fill="#000">14mm</text>
<line x1="275.2" y1="976.0" x2="374.9" y2="976.0" stroke="#008000" stroke-width="9"/>
<polygon points="349.0,976.0 300.0,959.0 315.0,977.8 302.1,998.0" fill="#008000"/>
<text x="382" y="1001.0" font-size="66" fill="#000">15mm</text>
<text x="205" y="50.1" font-size="71" text-anchor="end" fill="#262626">0</text>
<text x="205" y="305.8" font-size="71" text-anchor="end" fill="#262626">-10</text>
<text x="205" y="560.0" font-size="71" text-anchor="end" fill="#262626">-20</text>
<text x="205" y="814.2" font-size="71" text-anchor="end" fill="#262626">-30</text>
<text x="205" y="1068.4" font-size="71" text-anchor="end" fill="#262626">-40</text>
<text x="224.8" y="1129.6" font-size="71" text-anchor="middle" fill="#262626">2</text>
<text x="483.6" y="1129.6" font-size="71" text-anchor="middle" fill="#262626">3</text>
<text x="742.5" y="1129.6" font-size="71" text-anchor="middle" fill="#262626">4</text>
<text x="1001.3" y="1129.6" font-size="71" text-anchor="middle" fill="#262626">5</text>
<text x="1260.2" y="1129.6" font-size="71" text-anchor="middle" fill="#262626">6</text>
<text x="807" y="1203.5" font-size="78.3" text-anchor="middle" fill="#262626">Frequency [GHz]</text>
<text transform="translate(59,669) rotate(-90)" font-size="78" fill="#262626">S<tspan font-size="57" dy="37" dx="3.5">11</tspan><tspan dy="-37" dx="5"> [dB]</tspan></text>
</svg>
</body></html>
